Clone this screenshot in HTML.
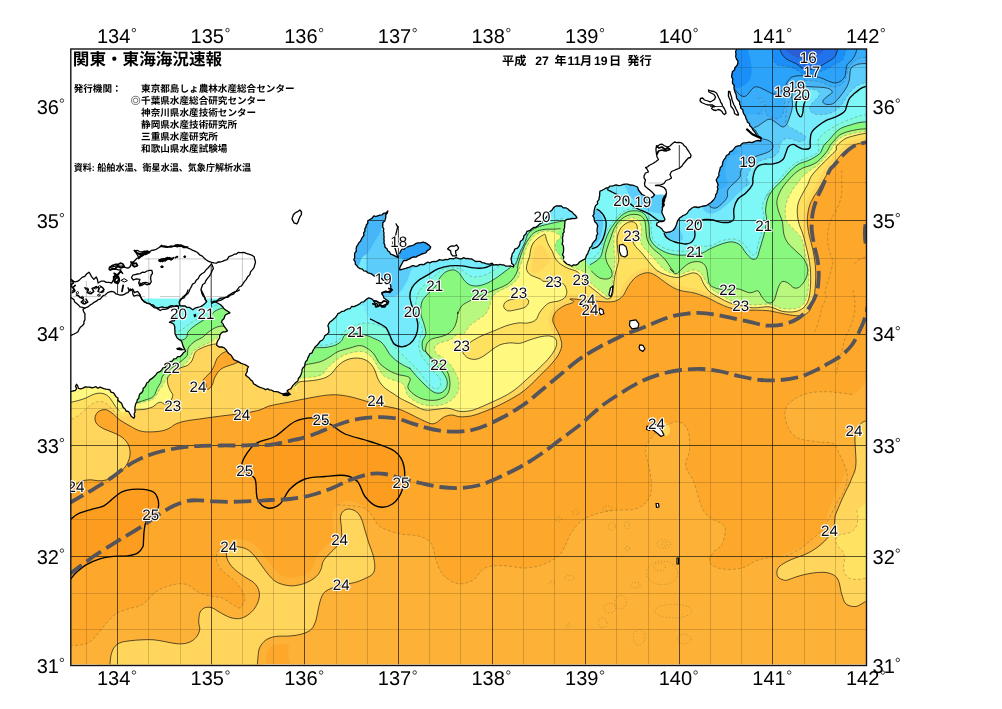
<!DOCTYPE html>
<html lang="ja"><head><meta charset="utf-8"><title>関東・東海海況速報</title>
<style>html,body{margin:0;padding:0;background:#fff}body{width:1002px;height:709px;overflow:hidden;position:relative;font-family:"Liberation Sans",sans-serif}svg{position:absolute;left:0;top:0;display:block;will-change:transform}svg text{font-family:"Liberation Sans",sans-serif;text-rendering:geometricPrecision}svg text.jp{font-family:"Liberation Sans","Noto Sans CJK JP",sans-serif;font-weight:bold;fill:#000}.ax{font-size:20px;fill:#000}.cl{font-size:15.2px;fill:#0c0c0c;stroke:#fff;stroke-width:2.2px;paint-order:stroke;stroke-linejoin:round;text-anchor:middle}.sr{position:absolute;color:transparent;font-size:9px;white-space:nowrap;line-height:1;margin:0}</style></head><body>
<svg width="1002" height="709" viewBox="0 0 1002 709">
<defs><clipPath id="fr"><rect x="70.8" y="49.0" width="795.7" height="615.3"/></clipPath></defs>
<rect width="1002" height="709" fill="#fff"/>
<g clip-path="url(#fr)">
<rect x="70.8" y="49.0" width="795.7" height="616.5" fill="#fda82b"/>
<path d="M330 690C237.5 668.3 327.5 589.7 330 560C332.5 530.3 343.7 521.2 345 512C346.3 502.8 334.9 505.6 337.7 504.8C340.5 504 356 505.6 361.6 507.2C367.2 508.8 368.1 511.2 371.2 514.4C374.3 517.6 375.3 523.3 380 526.5C384.7 529.7 393.1 532.2 399.6 533.8C406.1 535.4 413.8 534.6 419.1 536.2C424.4 537.8 428.5 539.5 431.3 543.6C434.1 547.7 434.1 555.4 436.2 560.7C438.2 566 439.9 571.6 443.6 575.4C447.3 579.2 453.3 582.9 458.2 583.7C463.1 584.5 468.4 582.8 472.9 580.2C477.4 577.6 480.2 570.4 485.1 568C490 565.6 495.3 565.6 502.2 565.6C509.1 565.6 519.4 568.4 526.7 568C534.1 567.6 540.6 565.6 546.3 563.1C552 560.6 556.8 558.2 560.9 553.3C565 548.4 567.4 539.1 570.7 533.8C574 528.5 576.4 524.9 580.5 521.6C584.6 518.3 589.5 516.1 595.2 514.2C600.9 512.3 608.2 511.1 614.7 510.3C621.2 509.5 629 510.7 634.3 509.3C639.6 507.9 643.6 505.3 646.5 502C649.4 498.7 651.1 495 651.6 489.6C652.1 484.2 650.6 476.2 649.6 469.6C648.6 463 645.3 455 645.6 449.7C645.9 444.4 648.9 441.4 651.6 437.7C654.3 434 657.3 430.4 661.6 427.7C665.9 425 673.3 421.4 677.6 421.7C681.9 422 685.6 425 687.6 429.7C689.6 434.4 689.9 443.7 689.6 449.7C689.3 455.7 684.9 460.4 685.6 465.7C686.3 471 690.8 474.3 693.6 481.6C696.5 488.9 699.6 503.1 702.7 509.3C705.9 515.5 708.8 516.2 712.5 519.1C716.2 522 723.1 522.4 724.7 526.5C726.3 530.6 724.3 539.1 722.3 543.6C720.3 548.1 714.5 550 712.5 553.3C710.5 556.5 708.5 560.5 710.1 563.1C711.7 565.7 717 568.2 722.3 569C727.6 569.8 736.2 569.4 741.9 568C747.6 566.6 751.6 562.5 756.5 560.7C761.4 558.9 766.3 558.1 771.2 557.3C776.1 556.5 781 557.3 785.9 555.8C790.8 554.3 796 551.4 800.5 548.5C805 545.6 809.1 542 812.8 538.7C816.5 535.4 819.6 532.6 822.5 528.9C825.4 525.2 827.4 521.2 829.9 516.7C832.4 512.2 834.8 506.5 837.2 502C839.6 497.5 842.9 494.6 844.5 489.8C846.1 485 847.9 479 847 473C846.1 467 841.6 458.6 839.3 453.7C837 448.8 837 445.7 833.3 443.7C829.6 441.7 823.3 442.7 817.3 441.7C811.3 440.7 802.3 440.4 797.3 437.7C792.3 435 789.4 430.3 787.4 425.7C785.4 421.1 784.4 414.1 785.4 409.8C786.4 405.5 789.4 402.6 793.4 399.8C797.4 397 803.3 394.3 809.3 393C815.3 391.7 822 391.5 829.3 391.8C836.6 392.1 843.9 394.4 853.2 394.6C862.5 394.8 879.7 343.8 885 393C890.3 442.2 977.5 640.5 885 690C792.5 739.5 422.5 711.7 330 690Z" fill="#fdb237"/>
<path d="M68 646.2C68.3 640.5 67.7 646 70 645.8C72.3 645.6 78.6 645.5 82 644.8C85.3 644.1 87.3 643.6 90 641.8C92.6 640 95.3 636.8 97.9 633.8C100.6 630.8 102.9 627.2 105.9 623.8C108.9 620.5 112.2 616.3 115.9 613.9C119.6 611.4 123.9 610.2 127.9 608.9C131.9 607.5 136.5 607.4 139.9 605.9C143.2 604.4 145.2 602.2 147.8 599.9C150.5 597.6 152.8 594.1 155.8 591.9C158.8 589.7 162.1 588.2 165.8 586.9C169.5 585.6 174.1 584.2 177.8 583.9C181.4 583.6 184.4 583.6 187.8 584.9C191.1 586.2 194.1 590.1 197.7 591.9C201.4 593.7 205.7 594.9 209.7 595.9C213.7 596.9 218 596.6 221.7 597.9C225.4 599.2 228.7 602.2 231.7 603.9C234.7 605.5 237.5 608.5 239.7 607.9C241.8 607.2 244.3 602.9 244.7 599.9C245 596.9 243.5 593.2 241.7 589.9C239.8 586.6 236.7 582.9 233.7 579.9C230.7 576.9 226.4 574.6 223.7 571.9C221 569.3 218.9 566.9 217.7 564C216.5 561 216 557 216.7 554C217.4 551 219.5 548 221.7 546C223.9 544 225 539.7 229.7 542C234.3 544.3 246.3 537 249.6 560C253 582.9 279.9 659.8 249.6 679.7C219.4 699.7 98.3 685.3 68 679.7C37.7 674.1 67.7 651.8 68 646.2Z" fill="#fdb237"/>
<path d="M226.3 552.7C225.9 554.8 226.3 557.3 227.5 559.9C228.7 562.5 230.7 565.5 233.5 568.3C236.3 571.1 240.9 574.3 244.3 576.6C247.6 579 251.4 580.4 253.8 582.6C256.2 584.8 257.7 587.2 258.6 589.8C259.5 592.4 259.7 595.2 259.1 598.2C258.5 601.2 256.9 605 255 607.8C253.2 610.6 250.4 613.2 247.8 615C245.2 616.8 242.5 618.2 239.5 618.6C236.5 619 233.1 618.4 229.9 617.4C226.7 616.4 223.3 614.2 220.3 612.6C217.3 611 214.5 608.6 211.9 607.8C209.3 607 206.7 607 204.7 607.8C202.7 608.6 200.9 610.2 199.9 612.6C198.9 615 198.8 619.3 198.7 622.2C198.7 625 200.2 627.2 199.7 629.8C199.2 632.4 197.7 635.6 195.7 637.8C193.8 640 190.8 641.8 187.8 642.8C184.8 643.8 181.4 644 177.8 643.8C174.1 643.6 169.8 642.5 165.8 641.8C161.8 641.1 157.8 640.1 153.8 639.8C149.8 639.5 145.8 639.6 141.9 639.8C137.9 640 133.5 640.3 129.9 640.8C126.2 641.3 122.6 641.6 119.9 642.8C117.2 644 115.4 645.6 113.9 647.8C112.4 649.9 111.6 652.9 110.9 655.8C110.3 658.6 110.2 660.8 109.9 664.8C109.7 668.7 84.5 675.5 109.5 679.7C134.5 683.9 235.3 691.2 260 690C284.7 688.8 257.9 676.6 257.4 672.5C257 668.3 257.3 668.1 257.4 665.3C257.5 662.5 257.7 658.7 258.1 655.7C258.5 652.7 258.5 649.9 259.8 647.3C261.1 644.7 263.2 641.9 265.8 640.1C268.4 638.3 271.4 637.2 275.4 636.5C279.4 635.8 285.4 636.4 289.8 636C294.2 635.6 298.1 635.2 301.7 634.1C305.3 633 308.9 631.7 311.3 629.3C313.7 626.9 314.9 623.4 316.1 619.8C317.3 616.2 317.5 611.8 318.5 607.8C319.5 603.8 320.5 598.8 322.1 595.8C323.7 592.8 324.9 591.6 328.1 589.8C331.3 588 336.9 586.2 341.3 585C345.6 583.8 350.6 583.6 354.4 582.6C358.2 581.6 361 580.4 364 579C367 577.6 370.6 576.2 372.4 574.3C374.2 572.3 374.7 570.3 374.8 567.1C374.9 563.9 374.1 559.1 373.1 555.1C372.1 551.1 370.1 547.1 368.8 543.1C367.5 539.1 366.4 535.1 365.2 531.1C364 527.1 363 522.4 361.6 519.2C360.2 516 358.8 513.7 356.8 512C354.8 510.3 351.8 509.3 349.6 509.1C347.4 508.9 345.2 509.5 343.7 510.8C342.1 512.1 340.9 514.2 340.5 516.8C340.1 519.4 341.1 522.8 341.3 526.3C341.4 529.9 342.1 534.9 341.3 538.3C340.5 541.7 338.5 544.1 336.5 546.7C334.5 549.3 331.5 551.5 329.3 553.9C327.1 556.3 324.7 558.5 323.3 561.1C321.9 563.7 322.1 566.9 320.9 569.5C319.7 572.1 318.5 574.5 316.1 576.6C313.7 578.8 310.1 581.1 306.5 582.6C302.9 584.2 298.1 585.3 294.6 585.7C291 586.1 288.2 585.7 285 585C281.8 584.3 278.2 583.2 275.4 581.4C272.6 579.6 270.6 577 268.2 574.3C265.8 571.5 263.4 567.9 261 564.7C258.6 561.5 256.2 557.7 253.8 555.1C251.4 552.5 249.4 550.5 246.6 549.1C243.9 547.7 239.9 547 237.1 546.7C234.3 546.4 231.7 546.4 229.9 547.4C228.1 548.4 226.7 550.6 226.3 552.7Z" fill="none" stroke="#fdb237" stroke-width="16" stroke-linejoin="round"/>
<path d="M880 420C877.6 390.5 868.5 420.6 865.6 421C862.7 421.4 863.7 421.4 862.6 422.2C861.5 423 860.1 424.2 859 425.7C857.9 427.2 856.7 429.2 856 431.1C855.3 433 855 434.7 854.9 437.1C854.8 439.5 855.1 442.7 855.2 445.5C855.3 448.3 855.6 451.1 855.7 453.9C855.8 456.7 856.1 459.5 856 462.3C855.9 465.1 855.6 468.1 854.9 470.7C854.2 473.3 852.8 475.6 851.9 477.8C851 480 850.6 481.3 849.5 483.8C848.4 486.3 846.4 490.1 845 493C843.6 495.9 842.2 498.7 841 501.5C839.8 504.3 838.5 507.6 837.5 510C836.5 512.4 835.6 513.8 835.1 516C834.6 518.2 834.9 520.8 834.5 523.2C834.1 525.6 833.8 528 832.7 530.4C831.6 532.8 829.9 535.1 827.9 537.5C825.9 539.9 823.3 542.5 820.7 544.7C818.1 546.9 815.1 549 812.3 550.7C809.5 552.4 806.8 553.7 804 554.9C801.2 556.1 798.4 556.8 795.6 557.9C792.8 559 789.8 560.1 787.2 561.5C784.6 562.9 781.7 564.4 780 566C778.3 567.6 777.3 569.2 777 571C776.7 572.8 776.9 575.5 778 577C779.1 578.5 782 579.5 783.5 580C785 580.5 785.2 580.6 787.2 580.1C789.2 579.6 792.8 578 795.6 577.1C798.4 576.2 801 575.4 804 574.7C807 574 810.3 573.3 813.5 572.9C816.7 572.5 820.3 572.2 823.1 572.3C825.9 572.4 828.1 572.7 830.3 573.5C832.5 574.3 834.8 575.5 836.3 577.1C837.8 578.7 838.6 581.1 839.3 583.1C840 585.1 840 587 840.5 589C841 591 841.1 592.5 842 595C842.9 597.5 843.7 602.1 846 604C848.3 605.9 852.8 606.9 856 606.5C859.2 606.1 861.5 602.9 865.5 601.5C869.5 600.1 877.6 628.2 880 598C882.4 567.8 882.4 449.5 880 420Z" fill="none" stroke="#fdb237" stroke-width="16" stroke-linejoin="round"/>
<path d="M68 521C68.3 510.7 68.3 521 70 519.8C71.7 518.6 74.7 515.4 78 513.8C81.3 512.1 85.6 511.1 90 509.8C94.3 508.4 99.9 507.8 103.9 505.8C107.9 503.8 110.9 500.1 113.9 497.8C116.9 495.5 118.9 493.2 121.9 491.8C124.9 490.4 128.2 489.8 131.9 489.4C135.5 489 140.2 489 143.9 489.4C147.5 489.9 151.5 490.7 153.8 492.2C156.2 493.8 157.1 496.2 157.8 498.8C158.6 501.4 158.9 505.1 158.2 507.8C157.6 510.4 155.7 512.8 153.8 514.8C151.9 516.8 148.4 517.3 146.8 519.8C145.2 522.3 144.8 526.2 144.3 529.7C143.7 533.3 143.7 538.1 143.5 540.9C143.2 543.8 143.8 544.9 142.9 546.8C141.9 548.8 140.4 551.3 137.9 552.8C135.4 554.3 131.9 555.2 127.9 555.8C123.9 556.4 118.6 555.9 113.9 556.4C109.3 556.9 104.6 557.4 99.9 558.8C95.3 560.2 90 562.5 86 564.8C82 567.1 78.6 570.3 76 572.8C73.3 575.3 71.3 578.4 70 579.8C68.7 581.2 68.3 591 68 581.2C67.7 571.4 67.7 531.2 68 521Z" fill="#fc9d1f"/>
<path d="M242.5 461.5C244.2 456.9 249.6 448.2 255 444C260.4 439.8 268.3 440.2 275 436.5C281.7 432.8 288.3 424.6 295 421.5C301.7 418.4 309.2 417.6 315 418C320.8 418.4 325 421.3 330 424C335 426.7 338.3 431.1 345 434C351.7 436.9 361.7 438.6 370 441.5C378.3 444.4 389.3 447.3 395 451.5C400.7 455.7 402.8 460.2 404 466.5C405.2 472.8 404.4 482.8 402.5 489C400.6 495.2 396.7 501.1 392.5 504C388.3 506.9 382.1 507.8 377.5 506.5C372.9 505.2 368.3 500.7 365 496.5C361.7 492.3 360.8 485 357.5 481.5C354.2 478 350.4 476.3 345 475.5C339.6 474.7 331.7 475.9 325 476.5C318.3 477.1 310.8 476.9 305 479C299.2 481.1 294.2 484.8 290 489C285.8 493.2 283.8 500.8 280 504C276.2 507.2 271.2 508.8 267.5 508C263.8 507.2 259.6 503.8 257.5 499C255.4 494.2 257.1 483.6 255 479C252.9 474.4 247.1 474.4 245 471.5C242.9 468.6 240.8 466.1 242.5 461.5Z" fill="#fc9d1f"/>
<path d="M68 489.4C74.7 575.9 68 490.1 70 488.8C72 487.6 76.7 483.3 80 481.8C83.3 480.3 86.6 480 90 479.8C93.3 479.7 96.6 481 99.9 480.8C103.3 480.7 106.9 480 109.9 478.8C112.9 477.7 115.2 476 117.9 473.9C120.6 471.7 123.9 468.9 125.9 465.9C127.9 462.9 129.4 459.2 129.9 455.9C130.4 452.6 130 448.9 128.9 445.9C127.7 442.9 125.4 440.1 122.9 437.9C120.4 435.8 117.1 434.4 113.9 432.9C110.8 431.4 106.8 430.4 103.9 428.9C101.1 427.4 98.4 425.8 96.9 424C95.4 422.1 94.8 420 95 418C95.1 416 96.3 413.4 97.9 412C99.6 410.6 102.6 409.4 104.9 409.6C107.3 409.7 109.4 411.2 111.9 413C114.4 414.7 116.9 417.8 119.9 420C122.9 422.1 126.6 424.1 129.9 425.9C133.2 427.8 136.5 429.9 139.9 430.9C143.2 431.9 146.2 431.9 149.8 431.9C153.5 431.9 158.5 431.6 161.8 430.9C165.1 430.3 167.5 429.1 169.8 427.9C172.1 426.8 173.1 425.1 175.8 424C178.4 422.8 181.8 421.8 185.8 421C189.8 420.1 195.1 419.6 199.7 419C204.4 418.3 208.7 417.6 213.7 417C218.7 416.3 224.4 415.6 229.7 415C235 414.3 240.7 413.8 245.6 413C250.6 412.1 255.6 411.2 259.6 410C263.7 408.8 264.9 407.2 270 405.8C275.1 404.5 283.3 403.2 290 401.9C296.6 400.5 303.3 399 309.9 397.9C316.6 396.7 323.9 395.2 329.9 394.9C335.9 394.5 340.5 395 345.8 395.9C351.2 396.7 356.5 398.4 361.8 399.9C367.1 401.4 371.8 403.4 377.8 404.9C383.8 406.3 392.4 407.3 397.7 408.8C403.1 410.3 405.7 412 409.7 413.8C413.7 415.7 418 418.2 421.7 419.8C425.4 421.5 429.1 423.4 431.7 423.8C434.4 424.1 435.7 422.9 437.7 421.8C439.7 420.7 441.4 418.3 443.7 417.2C446 416 449 415 451.7 415C454.4 414.9 456.5 416.6 459.9 416.8C463.2 416.9 467.9 416.6 471.9 415.8C475.8 414.9 479.8 413.3 483.8 411.8C487.8 410.3 491.8 408.6 495.8 406.8C499.8 405 503.8 403 507.8 400.8C511.8 398.6 516.1 396.3 519.8 393.8C523.4 391.3 526.4 388.8 529.7 385.8C533.1 382.8 536.4 379.2 539.7 375.8C543 372.5 546.7 369.2 549.7 365.9C552.7 362.5 555.7 359.2 557.7 355.9C559.7 352.6 561.3 349.2 561.7 345.9C562 342.6 560.7 338.9 559.7 335.9C558.7 332.9 556.9 330.6 555.7 327.9C554.5 325.3 552.7 322.6 552.7 320C552.7 317.3 553.9 314.3 555.7 312C557.5 309.6 560.7 307.7 563.7 306C566.7 304.3 572.6 303.2 573.7 302C574.7 300.8 568.6 299.2 570 298.9C571.4 298.5 578 299.5 582 299.9C586 300.2 590 300.5 594 300.9C597.9 301.2 602.3 301.9 605.9 301.9C609.6 301.9 613.1 301.9 615.9 300.9C618.7 299.9 620.9 298.2 622.9 295.9C624.9 293.5 626.1 289.7 627.9 286.9C629.7 284.1 631.5 281.1 633.9 278.9C636.2 276.7 639.2 274.9 641.9 273.9C644.5 272.9 647.2 272.4 649.8 272.9C652.5 273.4 655.2 275.2 657.8 276.9C660.5 278.6 663.1 281.1 665.8 282.9C668.5 284.7 671.1 286.6 673.8 287.9C676.5 289.2 678.4 290 681.8 290.9C685.1 291.7 689.8 291.9 693.8 292.9C697.7 293.9 701.7 295.2 705.7 296.9C709.7 298.5 713.7 301 717.7 302.9C721.7 304.7 725.7 306.7 729.7 307.8C733.7 309 737.3 309.4 741.7 309.8C746 310.2 751 310.1 755.6 310.2C760.3 310.4 764.6 310.2 769.6 310.8C774.6 311.5 780.7 313.5 785.8 314.3C790.8 315.2 796.1 316 799.7 315.7C803.4 315.5 805.7 314.6 807.7 312.8C809.8 310.9 811 308.1 812.1 304.8C813.3 301.4 814.1 297.1 814.7 292.8C815.3 288.5 815.6 283.5 815.7 278.8C815.8 274.2 815.8 269.8 815.3 264.8C814.8 259.9 813.7 253.9 812.7 248.9C811.7 243.9 810 239.6 809.1 234.9C808.2 230.3 807.3 225.6 807.3 220.9C807.3 216.3 808.1 211 809.1 207C810.2 203 812.1 200 813.7 197C815.3 194 816.2 193.4 818.7 189C821.3 184.6 826.8 174.4 829 170.6C831.2 166.8 830.8 167.6 832 166C833.2 164.4 834.7 162.7 836 161C837.3 159.3 838.5 157.7 840 156C841.5 154.3 843.3 152.5 845 151C846.7 149.5 848.3 148.1 850 147C851.7 145.9 853.3 145.1 855 144.5C856.7 143.9 858.2 143.6 860 143.2C861.8 142.8 864.2 142.3 866 142C867.8 141.7 865.3 141.5 871 141.2C876.7 140.9 895.2 168.5 900 140C904.8 111.5 1045 -1.7 900 -30C755 -58.3 168.7 -116.6 30 -30C-108.7 56.6 61.3 403 68 489.4Z" fill="#ffd65b"/>
<clipPath id="pc1"><path d="M556.7 342.9C555.5 341.6 556 339.1 554.7 337.9C553.4 336.8 551.2 336.1 548.7 335.9C546.2 335.8 542.9 336.3 539.7 336.9C536.6 337.6 533.1 338.9 529.7 339.9C526.4 341 523.1 342.8 519.8 343.3C516.4 343.8 513.1 342.6 509.8 342.9C506.5 343.2 502.8 343.7 499.8 344.9C496.8 346.1 494.5 348.1 491.8 349.9C489.2 351.7 486.5 354.3 483.8 355.9C481.2 357.5 478.5 358.9 475.8 359.3C473.2 359.6 470 359 467.9 357.9C465.7 356.7 463.4 354.1 462.9 352.3C462.4 350.5 463 349 464.9 346.9C466.7 344.8 470.7 341.9 473.9 339.9C477 337.9 480.5 336.4 483.8 334.9C487.2 333.4 490.2 332.4 493.8 330.9C497.5 329.4 501.8 327.3 505.8 325.9C509.8 324.6 514.1 323.5 517.8 323C521.4 322.5 524.8 323.5 527.7 323C530.7 322.5 533.7 321.7 535.7 320C537.7 318.2 537.9 314.9 539.7 312.4C541.5 309.8 544.4 306.4 546.4 304.7C548.3 303.1 549.2 302.9 551.2 302.3C553.1 301.7 556.1 301.8 558.3 301.1C560.5 300.4 562.9 299.4 564.3 298.1C565.7 296.8 566.4 294.9 566.7 293.3C567 291.7 566.7 290.1 566.1 288.5C565.5 287 565 285 563.1 283.8C561.2 282.5 557.9 281.5 554.7 281.1C551.6 280.7 546.4 281.7 544 281.4C541.6 281 541.8 279.7 540.4 279C539 278.3 537.4 278 535.6 277.2C533.8 276.4 531.1 275.5 529.6 274.2C528.1 272.9 527 271.2 526.6 269.4C526.2 267.6 526.7 265.6 527.2 263.4C527.7 261.2 529 258.6 529.6 256.2C530.2 253.8 530.2 251.2 530.8 249C531.4 246.8 532 244.8 533.2 243C534.4 241.2 536.4 239.5 538 238.2C539.6 236.9 541.6 235.8 542.8 235.2C544 234.6 544.6 233.9 545.2 234.6C545.8 235.3 545.8 237.6 546.4 239.4C547 241.2 547.8 243.4 548.8 245.4C549.8 247.4 551.4 249.4 552.4 251.4C553.3 253.4 553.7 255.6 554.7 257.4C555.7 259.2 556.9 260.8 558.3 262.2C559.7 263.6 561.3 264.7 563.1 265.8C564.9 266.9 567.1 268 569.1 268.8C571.1 269.6 573.5 269.9 575.1 270.6C576.7 271.3 577.5 271.6 578.7 273C579.9 274.4 580.5 276.8 582.3 279C584.1 281.2 587.3 284.2 589.5 286.2C591.7 288.1 593.5 289.3 595.5 290.9C597.5 292.5 599.9 294.5 601.5 295.7C603.1 296.9 604 297.6 605.1 298.1C606.2 298.7 607.8 298.2 607.9 298.9C608.1 299.5 608.3 301.5 605.9 301.9C603.6 302.2 597.9 301.2 594 300.9C590 300.5 586 300.2 582 299.9C578 299.5 571.4 298.5 570 298.9C568.6 299.2 574.7 300.8 573.7 302C572.6 303.2 566.7 304.3 563.7 306C560.7 307.7 557.5 309.6 555.7 312C553.9 314.3 552.7 317.3 552.7 320C552.7 322.6 554.5 325.3 555.7 327.9C556.9 330.6 558.7 332.9 559.7 335.9C560.7 338.9 562.2 344.7 561.7 345.9C561.2 347.1 557.9 344.2 556.7 342.9Z"/></clipPath>
<path d="M556.7 342.9C555.5 341.6 556 339.1 554.7 337.9C553.4 336.8 551.2 336.1 548.7 335.9C546.2 335.8 542.9 336.3 539.7 336.9C536.6 337.6 533.1 338.9 529.7 339.9C526.4 341 523.1 342.8 519.8 343.3C516.4 343.8 513.1 342.6 509.8 342.9C506.5 343.2 502.8 343.7 499.8 344.9C496.8 346.1 494.5 348.1 491.8 349.9C489.2 351.7 486.5 354.3 483.8 355.9C481.2 357.5 478.5 358.9 475.8 359.3C473.2 359.6 470 359 467.9 357.9C465.7 356.7 463.4 354.1 462.9 352.3C462.4 350.5 463 349 464.9 346.9C466.7 344.8 470.7 341.9 473.9 339.9C477 337.9 480.5 336.4 483.8 334.9C487.2 333.4 490.2 332.4 493.8 330.9C497.5 329.4 501.8 327.3 505.8 325.9C509.8 324.6 514.1 323.5 517.8 323C521.4 322.5 524.8 323.5 527.7 323C530.7 322.5 533.7 321.7 535.7 320C537.7 318.2 537.9 314.9 539.7 312.4C541.5 309.8 544.4 306.4 546.4 304.7C548.3 303.1 549.2 302.9 551.2 302.3C553.1 301.7 556.1 301.8 558.3 301.1C560.5 300.4 562.9 299.4 564.3 298.1C565.7 296.8 566.4 294.9 566.7 293.3C567 291.7 566.7 290.1 566.1 288.5C565.5 287 565 285 563.1 283.8C561.2 282.5 557.9 281.5 554.7 281.1C551.6 280.7 546.4 281.7 544 281.4C541.6 281 541.8 279.7 540.4 279C539 278.3 537.4 278 535.6 277.2C533.8 276.4 531.1 275.5 529.6 274.2C528.1 272.9 527 271.2 526.6 269.4C526.2 267.6 526.7 265.6 527.2 263.4C527.7 261.2 529 258.6 529.6 256.2C530.2 253.8 530.2 251.2 530.8 249C531.4 246.8 532 244.8 533.2 243C534.4 241.2 536.4 239.5 538 238.2C539.6 236.9 541.6 235.8 542.8 235.2C544 234.6 544.6 233.9 545.2 234.6C545.8 235.3 545.8 237.6 546.4 239.4C547 241.2 547.8 243.4 548.8 245.4C549.8 247.4 551.4 249.4 552.4 251.4C553.3 253.4 553.7 255.6 554.7 257.4C555.7 259.2 556.9 260.8 558.3 262.2C559.7 263.6 561.3 264.7 563.1 265.8C564.9 266.9 567.1 268 569.1 268.8C571.1 269.6 573.5 269.9 575.1 270.6C576.7 271.3 577.5 271.6 578.7 273C579.9 274.4 580.5 276.8 582.3 279C584.1 281.2 587.3 284.2 589.5 286.2C591.7 288.1 593.5 289.3 595.5 290.9C597.5 292.5 599.9 294.5 601.5 295.7C603.1 296.9 604 297.6 605.1 298.1C606.2 298.7 607.8 298.2 607.9 298.9C608.1 299.5 608.3 301.5 605.9 301.9C603.6 302.2 597.9 301.2 594 300.9C590 300.5 586 300.2 582 299.9C578 299.5 571.4 298.5 570 298.9C568.6 299.2 574.7 300.8 573.7 302C572.6 303.2 566.7 304.3 563.7 306C560.7 307.7 557.5 309.6 555.7 312C553.9 314.3 552.7 317.3 552.7 320C552.7 322.6 554.5 325.3 555.7 327.9C556.9 330.6 558.7 332.9 559.7 335.9C560.7 338.9 562.2 344.7 561.7 345.9C561.2 347.1 557.9 344.2 556.7 342.9Z" fill="#ffe160"/>
<path d="M561.7 345.9C561.3 344.2 560.7 338.9 559.7 335.9C558.7 332.9 556.9 330.6 555.7 327.9C554.5 325.3 552.7 322.6 552.7 320C552.7 317.3 553.9 314.3 555.7 312C557.5 309.6 560.7 307.7 563.7 306C566.7 304.3 572.6 303.2 573.7 302C574.7 300.8 568.6 299.2 570 298.9C571.4 298.5 578 299.5 582 299.9C586 300.2 590 300.5 594 300.9C597.9 301.2 603.9 301.7 605.9 301.9" fill="none" stroke="#ffd65b" stroke-width="9" clip-path="url(#pc1)"/>
<clipPath id="pc2"><path d="M612.3 295.5C612 292.2 613.5 285.1 614 281.5C614.5 278 614.7 276.7 615.2 274.3C615.7 271.9 616.4 269.5 617 267.1C617.6 264.7 618.6 262.2 618.8 260C619 257.8 618.4 256 618.2 254C618 252 617.8 250.2 617.6 248C617.4 245.8 616.9 243.2 617 240.8C617.1 238.4 617.5 235.8 618.2 233.6C618.9 231.4 619.9 229.3 621.2 227.6C622.5 225.9 624.2 224.4 626 223.4C627.8 222.4 630.3 221.5 632 221.6C633.7 221.7 635.3 222.6 636.2 224C637.1 225.4 637.5 228 637.4 230C637.3 232 636.3 234 635.6 236C634.9 238 633 240 633.2 242C633.4 244 635.4 246.2 636.8 248C638.2 249.8 640 251 641.6 252.8C643.2 254.6 644.8 256.8 646.4 258.8C648 260.8 649.4 262.7 651.2 264.7C652.9 266.7 654.9 269.1 657.1 270.7C659.3 272.3 661.9 273.3 664.3 274.3C666.7 275.3 669.1 276.2 671.5 276.7C673.9 277.2 676.4 277.6 678.7 277.3C681.1 277 683.3 275.6 685.8 274.9C688.3 274.2 691.4 272.7 693.8 272.9C696.1 273.1 698.1 274.1 699.7 275.9C701.4 277.7 702.1 281.2 703.7 283.9C705.4 286.6 707.1 289.5 709.7 291.9C712.4 294.2 716.4 296 719.7 297.9C723 299.7 726.2 301.6 729.7 302.9C733.2 304.1 736.7 304.6 740.7 305.4C744.7 306.3 748.8 307.6 753.6 307.8C758.5 308.1 764.9 306.3 769.6 306.8C774.3 307.4 777.8 310.3 781.8 311.2C785.8 312 790.4 312.2 793.8 311.8C797.1 311.4 799.8 310.4 802.1 308.8C804.5 307.1 806.4 304.8 807.7 301.8C809.1 298.8 809.6 295 810.1 290.8C810.6 286.6 810.8 281.5 810.7 276.8C810.7 272.2 810.4 267.5 809.7 262.9C809.1 258.2 807.8 253.5 806.7 248.9C805.6 244.2 804.4 239 803.1 234.9C801.9 230.8 800.1 227.7 799.2 224.3C798.2 221 797.6 218.1 797.4 214.7C797.2 211.4 797.1 207.6 798 204C798.9 200.4 801.2 196.4 802.8 193.2C804.4 190 806.2 187.6 807.6 184.8C809 182 809.4 179.2 811.2 176.4C812.9 173.6 815.9 170.6 818.3 168C820.7 165.4 823.1 163.2 825.5 160.8C827.9 158.4 830.9 155.4 832.7 153.6C834.5 151.8 835.7 151.2 836.3 150C837 148.8 835.8 147.6 836.6 146.2C837.5 144.7 839.8 142.7 841.4 141.4C843.1 140 844.4 139 846.3 138.1C848.1 137.3 850.6 136.7 852.7 136.1C854.8 135.5 857 135 859.1 134.5C861.3 134 863.6 133.6 865.6 133.3C867.6 133 865.5 132.5 871.2 132.8C876.9 133.1 900 133.6 900 135C900 136.4 876.7 140 871 141.2C865.3 142.4 867.8 141.7 866 142C864.2 142.3 861.8 142.8 860 143.2C858.2 143.6 856.7 143.9 855 144.5C853.3 145.1 851.7 145.9 850 147C848.3 148.1 846.7 149.5 845 151C843.3 152.5 841.5 154.3 840 156C838.5 157.7 837.3 159.3 836 161C834.7 162.7 833.2 164.4 832 166C830.8 167.6 831.2 166.8 829 170.6C826.8 174.4 821.3 184.6 818.7 189C816.2 193.4 815.3 194 813.7 197C812.1 200 810.2 203 809.1 207C808.1 211 807.3 216.3 807.3 220.9C807.3 225.6 808.2 230.3 809.1 234.9C810 239.6 811.7 243.9 812.7 248.9C813.7 253.9 814.8 259.9 815.3 264.8C815.8 269.8 815.8 274.2 815.7 278.8C815.6 283.5 815.3 288.5 814.7 292.8C814.1 297.1 813.3 301.4 812.1 304.8C811 308.1 809.8 310.9 807.7 312.8C805.7 314.6 803.4 315.5 799.7 315.7C796.1 316 790.8 315.2 785.8 314.3C780.7 313.5 774.6 311.5 769.6 310.8C764.6 310.2 760.3 310.4 755.6 310.2C751 310.1 746 310.2 741.7 309.8C737.3 309.4 733.7 309 729.7 307.8C725.7 306.7 721.7 304.7 717.7 302.9C713.7 301 709.7 298.5 705.7 296.9C701.7 295.2 697.7 293.9 693.8 292.9C689.8 291.9 685.1 291.7 681.8 290.9C678.4 290 676.5 289.2 673.8 287.9C671.1 286.6 668.5 284.7 665.8 282.9C663.1 281.1 660.5 278.6 657.8 276.9C655.2 275.2 652.5 273.4 649.8 272.9C647.2 272.4 644.5 272.9 641.9 273.9C639.2 274.9 636.2 276.7 633.9 278.9C631.5 281.1 629.7 284.1 627.9 286.9C626.1 289.7 624.9 293.5 622.9 295.9C620.9 298.2 617.7 300.9 615.9 300.9C614.1 300.8 612.6 298.7 612.3 295.5Z"/></clipPath>
<path d="M612.3 295.5C612 292.2 613.5 285.1 614 281.5C614.5 278 614.7 276.7 615.2 274.3C615.7 271.9 616.4 269.5 617 267.1C617.6 264.7 618.6 262.2 618.8 260C619 257.8 618.4 256 618.2 254C618 252 617.8 250.2 617.6 248C617.4 245.8 616.9 243.2 617 240.8C617.1 238.4 617.5 235.8 618.2 233.6C618.9 231.4 619.9 229.3 621.2 227.6C622.5 225.9 624.2 224.4 626 223.4C627.8 222.4 630.3 221.5 632 221.6C633.7 221.7 635.3 222.6 636.2 224C637.1 225.4 637.5 228 637.4 230C637.3 232 636.3 234 635.6 236C634.9 238 633 240 633.2 242C633.4 244 635.4 246.2 636.8 248C638.2 249.8 640 251 641.6 252.8C643.2 254.6 644.8 256.8 646.4 258.8C648 260.8 649.4 262.7 651.2 264.7C652.9 266.7 654.9 269.1 657.1 270.7C659.3 272.3 661.9 273.3 664.3 274.3C666.7 275.3 669.1 276.2 671.5 276.7C673.9 277.2 676.4 277.6 678.7 277.3C681.1 277 683.3 275.6 685.8 274.9C688.3 274.2 691.4 272.7 693.8 272.9C696.1 273.1 698.1 274.1 699.7 275.9C701.4 277.7 702.1 281.2 703.7 283.9C705.4 286.6 707.1 289.5 709.7 291.9C712.4 294.2 716.4 296 719.7 297.9C723 299.7 726.2 301.6 729.7 302.9C733.2 304.1 736.7 304.6 740.7 305.4C744.7 306.3 748.8 307.6 753.6 307.8C758.5 308.1 764.9 306.3 769.6 306.8C774.3 307.4 777.8 310.3 781.8 311.2C785.8 312 790.4 312.2 793.8 311.8C797.1 311.4 799.8 310.4 802.1 308.8C804.5 307.1 806.4 304.8 807.7 301.8C809.1 298.8 809.6 295 810.1 290.8C810.6 286.6 810.8 281.5 810.7 276.8C810.7 272.2 810.4 267.5 809.7 262.9C809.1 258.2 807.8 253.5 806.7 248.9C805.6 244.2 804.4 239 803.1 234.9C801.9 230.8 800.1 227.7 799.2 224.3C798.2 221 797.6 218.1 797.4 214.7C797.2 211.4 797.1 207.6 798 204C798.9 200.4 801.2 196.4 802.8 193.2C804.4 190 806.2 187.6 807.6 184.8C809 182 809.4 179.2 811.2 176.4C812.9 173.6 815.9 170.6 818.3 168C820.7 165.4 823.1 163.2 825.5 160.8C827.9 158.4 830.9 155.4 832.7 153.6C834.5 151.8 835.7 151.2 836.3 150C837 148.8 835.8 147.6 836.6 146.2C837.5 144.7 839.8 142.7 841.4 141.4C843.1 140 844.4 139 846.3 138.1C848.1 137.3 850.6 136.7 852.7 136.1C854.8 135.5 857 135 859.1 134.5C861.3 134 863.6 133.6 865.6 133.3C867.6 133 865.5 132.5 871.2 132.8C876.9 133.1 900 133.6 900 135C900 136.4 876.7 140 871 141.2C865.3 142.4 867.8 141.7 866 142C864.2 142.3 861.8 142.8 860 143.2C858.2 143.6 856.7 143.9 855 144.5C853.3 145.1 851.7 145.9 850 147C848.3 148.1 846.7 149.5 845 151C843.3 152.5 841.5 154.3 840 156C838.5 157.7 837.3 159.3 836 161C834.7 162.7 833.2 164.4 832 166C830.8 167.6 831.2 166.8 829 170.6C826.8 174.4 821.3 184.6 818.7 189C816.2 193.4 815.3 194 813.7 197C812.1 200 810.2 203 809.1 207C808.1 211 807.3 216.3 807.3 220.9C807.3 225.6 808.2 230.3 809.1 234.9C810 239.6 811.7 243.9 812.7 248.9C813.7 253.9 814.8 259.9 815.3 264.8C815.8 269.8 815.8 274.2 815.7 278.8C815.6 283.5 815.3 288.5 814.7 292.8C814.1 297.1 813.3 301.4 812.1 304.8C811 308.1 809.8 310.9 807.7 312.8C805.7 314.6 803.4 315.5 799.7 315.7C796.1 316 790.8 315.2 785.8 314.3C780.7 313.5 774.6 311.5 769.6 310.8C764.6 310.2 760.3 310.4 755.6 310.2C751 310.1 746 310.2 741.7 309.8C737.3 309.4 733.7 309 729.7 307.8C725.7 306.7 721.7 304.7 717.7 302.9C713.7 301 709.7 298.5 705.7 296.9C701.7 295.2 697.7 293.9 693.8 292.9C689.8 291.9 685.1 291.7 681.8 290.9C678.4 290 676.5 289.2 673.8 287.9C671.1 286.6 668.5 284.7 665.8 282.9C663.1 281.1 660.5 278.6 657.8 276.9C655.2 275.2 652.5 273.4 649.8 272.9C647.2 272.4 644.5 272.9 641.9 273.9C639.2 274.9 636.2 276.7 633.9 278.9C631.5 281.1 629.7 284.1 627.9 286.9C626.1 289.7 624.9 293.5 622.9 295.9C620.9 298.2 617.7 300.9 615.9 300.9C614.1 300.8 612.6 298.7 612.3 295.5Z" fill="#ffe160"/>
<path d="M615.9 300.9C617.1 300 620.9 298.2 622.9 295.9C624.9 293.5 626.1 289.7 627.9 286.9C629.7 284.1 631.5 281.1 633.9 278.9C636.2 276.7 639.2 274.9 641.9 273.9C644.5 272.9 647.2 272.4 649.8 272.9C652.5 273.4 655.2 275.2 657.8 276.9C660.5 278.6 663.1 281.1 665.8 282.9C668.5 284.7 671.1 286.6 673.8 287.9C676.5 289.2 678.4 290 681.8 290.9C685.1 291.7 689.8 291.9 693.8 292.9C697.7 293.9 701.7 295.2 705.7 296.9C709.7 298.5 713.7 301 717.7 302.9C721.7 304.7 725.7 306.7 729.7 307.8C733.7 309 737.3 309.4 741.7 309.8C746 310.2 751 310.1 755.6 310.2C760.3 310.4 764.6 310.2 769.6 310.8C774.6 311.5 780.7 313.5 785.8 314.3C790.8 315.2 796.1 316 799.7 315.7C803.4 315.5 805.7 314.6 807.7 312.8C809.8 310.9 811 308.1 812.1 304.8C813.3 301.4 814.1 297.1 814.7 292.8C815.3 288.5 815.6 283.5 815.7 278.8C815.8 274.2 815.8 269.8 815.3 264.8C814.8 259.9 813.7 253.9 812.7 248.9C811.7 243.9 810 239.6 809.1 234.9C808.2 230.3 807.3 225.6 807.3 220.9C807.3 216.3 808.1 211 809.1 207C810.2 203 812.1 200 813.7 197C815.3 194 816.2 193.4 818.7 189C821.3 184.6 826.8 174.4 829 170.6C831.2 166.8 830.8 167.6 832 166C833.2 164.4 834.7 162.7 836 161C837.3 159.3 838.5 157.7 840 156C841.5 154.3 843.3 152.5 845 151C846.7 149.5 848.3 148.1 850 147C851.7 145.9 853.3 145.1 855 144.5C856.7 143.9 858.2 143.6 860 143.2C861.8 142.8 864.2 142.3 866 142C867.8 141.7 870.2 141.3 871 141.2" fill="none" stroke="#ffd65b" stroke-width="9" clip-path="url(#pc2)"/>
<path d="M532 264.6C531.6 267 530.4 269.2 530.8 270.6C531.2 272 532.8 273 534.4 273C536 273 538.4 271.8 540.4 270.6C542.4 269.4 544.8 267.4 546.4 265.8C548 264.2 549.6 262.6 550 261C550.4 259.4 549.4 257.8 548.8 256.2C548.2 254.6 547.4 253 546.4 251.4C545.4 249.8 544.2 247.6 542.8 246.6C541.4 245.6 539.4 245 538 245.4C536.6 245.8 535.2 247.2 534.4 249C533.6 250.8 533.6 253.6 533.2 256.2C532.8 258.8 532.4 262.2 532 264.6Z" fill="#ffd65b"/>
<path d="M66.8 421.4C67.5 426 69.2 420.5 71 419.6C72.8 418.7 75.5 417.4 77.6 416C79.7 414.6 81.6 412.9 83.6 411.2C85.6 409.5 87.6 407.3 89.6 405.8C91.6 404.3 93.6 402.9 95.6 402.2C97.6 401.5 99.6 401.2 101.6 401.6C103.6 402 105.8 403.3 107.6 404.6C109.4 405.9 111 407.9 112.4 409.4C113.8 410.9 114.6 412.5 116 413.6C117.4 414.7 118.8 415.8 120.8 416C122.8 416.2 126.8 418.8 128 414.8C129.2 410.8 138.1 395.8 128 392C117.8 388.2 77 387.1 66.8 392C56.6 396.9 66.1 416.8 66.8 421.4Z" fill="#ffe160"/>
<path d="M66.8 402.8C67.5 405.7 69 402.6 71 402.2C73 401.8 76.3 401.1 78.8 400.4C81.3 399.7 83.8 398.9 86 398C88.2 397.1 90 395.8 92 395C94 394.2 96 393.4 98 393.2C100 393 102.2 393.2 104 393.8C105.8 394.4 107.4 395.5 108.8 396.8C110.2 398.1 111.3 400 112.4 401.6C113.5 403.2 114.3 404.9 115.4 406.4C116.5 407.9 117.5 409.8 119 410.6C120.5 411.4 123.5 414.3 124.4 411.2C125.3 408.1 127.8 396.4 124.4 392C121 387.6 113.6 386 104 384.8C94.4 383.6 73 381.8 66.8 384.8C60.6 387.8 66.1 399.9 66.8 402.8Z" fill="#fff980"/>
<path d="M239.9 361.4C237.9 363 235.1 363.5 232.7 364.4C230.3 365.3 227.7 365.8 225.5 366.8C223.3 367.8 221.3 368.6 219.5 370.4C217.7 372.2 215.9 375.2 214.7 377.6C213.5 380 213.3 382.9 212.3 384.8C211.3 386.7 209.7 388.4 208.7 389C207.7 389.6 206.8 389.3 206.3 388.4C205.8 387.5 206.3 384.8 205.7 383.6C205.1 382.4 202.6 382.4 202.7 381.2C202.8 380 204.9 378 206.3 376.4C207.7 374.8 209.7 373.6 211.1 371.6C212.5 369.6 213.7 366.6 214.7 364.4C215.7 362.2 215.9 360.2 217.1 358.4C218.3 356.6 220.3 354.8 221.9 353.6C223.5 352.4 224.5 352.2 226.7 351.2C228.9 350.2 232.1 347 235.1 347.6C238.1 348.2 243.9 352.5 244.7 354.8C245.5 357.1 241.9 359.8 239.9 361.4Z" fill="#fda82b"/>
<path d="M132 412.4 L135.6 410 L144 409.4 L152.4 407 L157.2 403.4 L160.8 402.2 L164.4 404 L169.2 402.8 L172.8 395.6 L170.4 390.8 L168 384.8 L167.4 378.8 L169.2 375.2 L172.8 372.8 L180 368 L187.1 365.6 L191.9 360.8 L195.2 352.4 L200 348.8 L207.1 345.8 L211.9 344.6 L216.7 344 L235.9 344 L235.9 290 L140 290 L120 350 L127.2 398Z" fill="#fff980"/>
<path d="M134.4 406.4 L136.8 403.7 L145.2 401.8 L152.6 399.4 L156.6 395.1 L159.1 390.3 L162.7 385.5 L165.3 380.5 L168.6 376.4 L173.4 371.6 L180.6 367.4 L186.5 362.6 L190.1 357.8 L192.8 351.8 L197.6 348.2 L203.5 345.2 L209.5 342.5 L214.3 339.8 L217.9 337.4 L219.7 336.2 L235.9 336.2 L235.9 290 L140 290 L120 350 L127.2 398Z" fill="#b8f87e"/>
<path d="M136.8 402.8 L144 400.4 L151.2 398 L154.8 394.4 L157.2 388.4 L160.8 382.4 L162 377 L165.6 372.8 L171.6 368 L177.6 363.8 L182.4 360.2 L187.1 355.4 L188 348.8 L191.6 344 L196.4 340.4 L202.4 337.4 L207.1 333.2 L211.9 329.6 L216.7 327.2 L222.7 326 L235.9 326 L235.9 290 L140 290 L120 350 L127.2 398Z" fill="#88f87e"/>
<path d="M164 344 L184.4 339.2 L188 332 L192.8 327.2 L198.8 323 L204.7 319.4 L210.7 315.8 L214.3 311.6 L219.1 309.2 L223.9 308 L235.9 308 L235.9 290 L140 290 L120 350 L127.2 398Z" fill="#80fadc"/>
<path d="M164 336.8 L176 332 L182 329.6 L188 324.8 L194 320.9 L200 317.6 L205.9 313.4 L210.7 308.6 L216.7 305 L235.9 303.8 L235.9 290 L140 290 L120 350 L127.2 398Z" fill="#7ef8f6"/>
<path d="M142.4 297.2 L180.8 297.2 L180.8 309.2 L142.4 309.2Z" fill="#7ef8f6"/>
<path d="M294.8 386.4C297.7 400.2 296.2 384.2 297.2 383.4C298.2 382.6 299 382 300.8 381.6C302.6 381.2 305.2 381.3 308 381C310.8 380.7 314.6 380.4 317.6 379.8C320.6 379.2 323.6 378.5 326 377.4C328.4 376.3 330.4 374.7 332 373.2C333.6 371.7 334.2 370 335.6 368.4C337 366.8 338.6 365 340.4 363.6C342.2 362.2 344.2 360.9 346.4 360C348.6 359.1 351.2 358.4 353.5 358.2C355.9 357.9 358.5 358 360.7 358.4C362.9 358.8 364.9 359.5 366.7 360.6C368.5 361.6 370.1 363.1 371.5 364.8C372.9 366.5 374.1 368.6 375.1 370.8C376.1 373 376.5 375.8 377.5 378C378.5 380.2 379.7 382.2 381.1 384C382.5 385.8 383.9 387.2 385.9 388.8C387.9 390.4 390.7 392 393.1 393.5C395.5 395.1 397.5 396.7 400.3 398.3C403.1 399.9 406 401.2 409.9 403.1C413.8 405 419.6 408.7 424 409.8C428.3 410.8 431.9 409.6 435.9 409.4C439.9 409.1 443.9 407.9 447.9 408.2C451.9 408.5 455.9 411 459.9 411.4C463.9 411.7 467.9 411.3 471.9 410.4C475.8 409.4 479.8 407.5 483.8 405.8C487.8 404.1 491.8 402.3 495.8 400.4C499.8 398.5 504.1 396.6 507.8 394.4C511.4 392.2 514.4 390.1 517.8 387.4C521.1 384.8 524.4 381.4 527.7 378.4C531.1 375.4 534.4 372.6 537.7 369.5C541.1 366.3 544.9 362.7 547.7 359.5C550.5 356.2 553.2 352.7 554.7 349.9C556.2 347.1 556.7 344.9 556.7 342.9C556.7 340.9 556 339.1 554.7 337.9C553.4 336.8 551.2 336.1 548.7 335.9C546.2 335.8 542.9 336.3 539.7 336.9C536.6 337.6 533.1 338.9 529.7 339.9C526.4 341 523.1 342.8 519.8 343.3C516.4 343.8 513.1 342.6 509.8 342.9C506.5 343.2 502.8 343.7 499.8 344.9C496.8 346.1 494.5 348.1 491.8 349.9C489.2 351.7 486.5 354.3 483.8 355.9C481.2 357.5 478.5 358.9 475.8 359.3C473.2 359.6 470 359 467.9 357.9C465.7 356.7 463.4 354.1 462.9 352.3C462.4 350.5 463 349 464.9 346.9C466.7 344.8 470.7 341.9 473.9 339.9C477 337.9 480.5 336.4 483.8 334.9C487.2 333.4 490.2 332.4 493.8 330.9C497.5 329.4 501.8 327.3 505.8 325.9C509.8 324.6 514.1 323.5 517.8 323C521.4 322.5 524.8 323.5 527.7 323C530.7 322.5 533.7 321.7 535.7 320C537.7 318.2 537.9 314.9 539.7 312.4C541.5 309.8 544.4 306.4 546.4 304.7C548.3 303.1 549.2 302.9 551.2 302.3C553.1 301.7 556.1 301.8 558.3 301.1C560.5 300.4 562.9 299.4 564.3 298.1C565.7 296.8 566.4 294.9 566.7 293.3C567 291.7 566.7 290.1 566.1 288.5C565.5 287 565 285 563.1 283.8C561.2 282.5 557.9 281.5 554.7 281.1C551.6 280.7 546.4 281.7 544 281.4C541.6 281 541.8 279.7 540.4 279C539 278.3 537.4 278 535.6 277.2C533.8 276.4 531.1 275.5 529.6 274.2C528.1 272.9 527 271.2 526.6 269.4C526.2 267.6 526.7 265.6 527.2 263.4C527.7 261.2 529 258.6 529.6 256.2C530.2 253.8 530.2 251.2 530.8 249C531.4 246.8 532 244.8 533.2 243C534.4 241.2 536.4 239.5 538 238.2C539.6 236.9 541.6 235.8 542.8 235.2C544 234.6 544.6 233.9 545.2 234.6C545.8 235.3 545.8 237.6 546.4 239.4C547 241.2 547.8 243.4 548.8 245.4C549.8 247.4 551.4 249.4 552.4 251.4C553.3 253.4 553.7 255.6 554.7 257.4C555.7 259.2 556.9 260.8 558.3 262.2C559.7 263.6 561.3 264.7 563.1 265.8C564.9 266.9 567.1 268 569.1 268.8C571.1 269.6 573.5 269.9 575.1 270.6C576.7 271.3 577.5 271.6 578.7 273C579.9 274.4 580.5 276.8 582.3 279C584.1 281.2 587.3 284.2 589.5 286.2C591.7 288.1 593.5 289.3 595.5 290.9C597.5 292.5 599.9 294.5 601.5 295.7C603.1 296.9 604 297.6 605.1 298.1C606.2 298.7 606.7 299.3 607.9 298.9C609.1 298.4 611.3 298.4 612.3 295.5C613.3 292.6 613.5 285.1 614 281.5C614.5 278 614.7 276.7 615.2 274.3C615.7 271.9 616.4 269.5 617 267.1C617.6 264.7 618.6 262.2 618.8 260C619 257.8 618.4 256 618.2 254C618 252 617.8 250.2 617.6 248C617.4 245.8 616.9 243.2 617 240.8C617.1 238.4 617.5 235.8 618.2 233.6C618.9 231.4 619.9 229.3 621.2 227.6C622.5 225.9 624.2 224.4 626 223.4C627.8 222.4 630.3 221.5 632 221.6C633.7 221.7 635.3 222.6 636.2 224C637.1 225.4 637.5 228 637.4 230C637.3 232 636.3 234 635.6 236C634.9 238 633 240 633.2 242C633.4 244 635.4 246.2 636.8 248C638.2 249.8 640 251 641.6 252.8C643.2 254.6 644.8 256.8 646.4 258.8C648 260.8 649.4 262.7 651.2 264.7C652.9 266.7 654.9 269.1 657.1 270.7C659.3 272.3 661.9 273.3 664.3 274.3C666.7 275.3 669.1 276.2 671.5 276.7C673.9 277.2 676.4 277.6 678.7 277.3C681.1 277 683.3 275.6 685.8 274.9C688.3 274.2 691.4 272.7 693.8 272.9C696.1 273.1 698.1 274.1 699.7 275.9C701.4 277.7 702.1 281.2 703.7 283.9C705.4 286.6 707.1 289.5 709.7 291.9C712.4 294.2 716.4 296 719.7 297.9C723 299.7 726.2 301.6 729.7 302.9C733.2 304.1 736.7 304.6 740.7 305.4C744.7 306.3 748.8 307.6 753.6 307.8C758.5 308.1 764.9 306.3 769.6 306.8C774.3 307.4 777.8 310.3 781.8 311.2C785.8 312 790.4 312.2 793.8 311.8C797.1 311.4 799.8 310.4 802.1 308.8C804.5 307.1 806.4 304.8 807.7 301.8C809.1 298.8 809.6 295 810.1 290.8C810.6 286.6 810.8 281.5 810.7 276.8C810.7 272.2 810.4 267.5 809.7 262.9C809.1 258.2 807.8 253.5 806.7 248.9C805.6 244.2 804.4 239 803.1 234.9C801.9 230.8 800.1 227.7 799.2 224.3C798.2 221 797.6 218.1 797.4 214.7C797.2 211.4 797.1 207.6 798 204C798.9 200.4 801.2 196.4 802.8 193.2C804.4 190 806.2 187.6 807.6 184.8C809 182 809.4 179.2 811.2 176.4C812.9 173.6 815.9 170.6 818.3 168C820.7 165.4 823.1 163.2 825.5 160.8C827.9 158.4 830.9 155.4 832.7 153.6C834.5 151.8 835.7 151.2 836.3 150C837 148.8 835.8 147.6 836.6 146.2C837.5 144.7 839.8 142.7 841.4 141.4C843.1 140 844.4 139 846.3 138.1C848.1 137.3 850.6 136.7 852.7 136.1C854.8 135.5 857 135 859.1 134.5C861.3 134 863.6 133.6 865.6 133.3C867.6 133 865.5 138.4 871.2 132.8C876.9 127.3 895.2 127.1 900 100C904.8 72.9 1003.3 -8.3 900 -30C796.7 -51.7 383.3 -85 280 -30C176.7 25 277.5 230.6 280 300C282.5 369.4 291.9 372.5 294.8 386.4Z" fill="#fff980"/>
<path d="M503.7 306.8C503.4 305.3 504.1 303.2 505.7 301.9C507.4 300.5 510.7 299.5 513.7 298.9C516.7 298.2 521.2 297.5 523.7 297.9C526.2 298.2 528.3 299.4 528.7 300.9C529 302.4 527.9 305.3 525.7 306.8C523.5 308.3 518.7 309.2 515.7 309.8C512.7 310.5 509.7 311.3 507.7 310.8C505.7 310.3 504.1 308.3 503.7 306.8Z" fill="#ffe262"/>
<path d="M294.8 382.8C297.7 396.2 296 381.2 297.2 380.4C298.4 379.6 299.2 378.6 302 378C304.8 377.4 310.6 377.4 314 376.8C317.4 376.2 320.4 375.6 322.4 374.4C324.4 373.2 324.6 371.2 326 369.6C327.4 368 328.8 366.6 330.8 364.8C332.8 363 335.6 360.5 338 358.8C340.4 357.1 342.6 355.7 345.2 354.6C347.8 353.5 350.8 352.7 353.5 352.2C356.3 351.7 359.5 351.3 361.9 351.6C364.3 351.9 365.9 352.6 367.9 354C369.9 355.4 372.1 357.6 373.9 360C375.7 362.4 377.1 365.8 378.7 368.4C380.3 371 381.5 373.8 383.5 375.6C385.5 377.4 388.3 378.2 390.7 379.2C393.1 380.2 395.7 380.6 397.9 381.6C400.1 382.6 402.2 382.8 403.9 385.2C405.6 387.5 405.6 392.9 408 395.8C410.3 398.7 414.3 401.1 418 402.8C421.6 404.5 425.9 405.5 429.9 405.8C433.9 406.1 438.3 405.8 441.9 404.8C445.6 403.8 449.2 402 451.9 399.8C454.6 397.6 456.7 394.8 457.9 391.8C459 388.8 459.4 385.2 458.9 381.8C458.4 378.5 456.4 374.9 454.9 371.9C453.4 368.9 451.9 366.2 449.9 363.9C447.9 361.5 445.2 359.7 442.9 357.9C440.6 356.1 437.3 354.7 435.9 352.9C434.6 351.1 434.3 348.6 434.9 346.9C435.6 345.2 437.4 344.1 439.9 342.9C442.4 341.7 446.9 341.4 449.9 339.9C452.9 338.4 455.6 335 457.9 333.9C460.2 332.9 461.8 335.1 463.8 333.8C465.8 332.4 467.5 328.1 469.8 325.8C472.1 323.5 475.1 321.8 477.8 319.8C480.4 317.8 483.8 316.2 485.8 313.8C487.8 311.5 488.8 308.5 489.8 305.8C490.8 303.2 490.4 300.2 491.8 297.9C493.1 295.5 495.4 293.5 497.7 291.9C500.1 290.2 503.1 289.4 505.7 287.9C508.4 286.4 511.4 285.1 513.7 282.9C516 280.7 518.9 277 519.7 274.9C520.5 272.9 518.5 272.5 518.8 270.6C519 268.6 520.4 265.8 521.2 263.4C522 261 522.8 258.6 523.6 256.2C524.4 253.8 525 251.4 526 249C527 246.6 528.2 244 529.6 241.8C531 239.6 532.6 237.4 534.4 235.8C536.2 234.2 538.4 233 540.4 232.2C542.4 231.4 544.4 231.1 546.4 231C548.4 230.9 550.6 231.2 552.4 231.6C554.1 232 555.7 232.5 557.1 233.4C558.5 234.3 560.7 235.8 560.7 237C560.7 238.2 558 239.2 557.1 240.6C556.2 242 555.5 243.8 555.3 245.4C555.1 247 555.2 248.6 555.9 250.2C556.6 251.8 558.5 253.4 559.5 255C560.5 256.6 560.7 258.2 561.9 259.8C563.1 261.4 564.9 263.3 566.7 264.6C568.5 265.9 570.7 266.8 572.7 267.6C574.7 268.4 576.9 268.7 578.7 269.4C580.5 270.1 582.3 270.6 583.5 271.8C584.7 273 584.9 275 585.9 276.6C586.9 278.2 588.1 279.8 589.5 281.4C590.9 283 592.5 284.6 594.3 286.2C596.1 287.7 598.5 289.5 600.3 290.9C602.1 292.3 603.7 293.6 605.1 294.5C606.5 295.5 607.7 297 608.9 296.9C610.2 296.7 612.1 295.8 612.7 293.5C613.4 291.1 612.6 286.3 612.8 282.7C613 279.1 613.4 275.7 613.7 271.9C614.1 268.1 614.9 263.9 614.9 260C615 256 614.1 252 614 248C613.8 244 613.7 239 614 236C614.3 233 614.8 232 615.8 230C616.8 228 618.3 225.7 620 224C621.7 222.3 624 220.8 626 219.8C628 218.8 630 218 632 218C634 218 636.5 218.6 638 219.8C639.5 221 640.4 223.1 641 225.2C641.6 227.3 641.7 230.2 641.6 232.4C641.5 234.6 640.4 236.4 640.4 238.4C640.4 240.4 640.6 242.4 641.6 244.4C642.6 246.4 644.6 248.4 646.4 250.4C648.2 252.4 650.4 254.2 652.4 256.4C654.3 258.6 656.3 261.4 658.3 263.5C660.3 265.7 662.1 267.9 664.3 269.5C666.5 271.1 669.1 272.2 671.5 273.1C673.9 274 676.4 275.1 678.7 274.9C681.1 274.8 683.3 273.2 685.8 272.3C688.3 271.5 691.3 269.8 693.8 269.9C696.2 270 698.7 271.1 700.7 272.9C702.7 274.7 703.9 278.2 705.7 280.9C707.6 283.6 709.2 286.6 711.7 288.9C714.2 291.2 717.7 293 720.7 294.9C723.7 296.7 726.4 298.5 729.7 299.9C733 301.2 736.7 302 740.7 302.9C744.7 303.7 748.8 304.6 753.6 304.9C758.5 305.1 764.9 303.7 769.6 304.3C774.3 304.8 777.8 307.6 781.8 308.4C785.8 309.1 790.6 309.1 793.8 308.8C796.9 308.4 798.7 307.9 800.7 306.4C802.7 304.9 804.5 302.5 805.7 299.8C807 297 807.6 293.6 808.1 289.8C808.6 286 808.8 281.1 808.7 276.8C808.7 272.5 808.5 268.3 807.7 263.9C807 259.4 805.3 254.4 804.1 249.9C803 245.4 803.6 241.6 800.7 236.9C797.9 232.2 789.7 226.4 787.2 221.9C784.6 217.5 785.4 213.5 785.4 210C785.4 206.4 786.1 203.6 787.2 200.4C788.3 197.2 790.2 193.8 792 190.8C793.8 187.8 796 185 798 182.4C800 179.8 802 177.2 804 175.2C806 173.2 807.8 172 810 170.4C812.2 168.8 814.7 167.6 817.1 165.6C819.5 163.6 822.1 160.8 824.3 158.4C826.5 156 828.6 153.7 830.3 151.2C832.1 148.7 833.4 145.3 835 143.1C836.6 141 838 139.6 839.8 138.3C841.7 137 844.1 136 846.3 135.2C848.4 134.4 850.6 134 852.7 133.5C854.8 133 857 132.6 859.1 132.3C861.3 131.9 863.6 131.7 865.6 131.5C867.6 131.4 865.5 136.5 871.2 131.2C876.9 126 895.2 126.9 900 100C904.8 73.1 1003.3 -8.3 900 -30C796.7 -51.7 383.3 -85 280 -30C176.7 25 277.5 231.2 280 300C282.5 368.8 291.9 369.4 294.8 382.8Z" fill="#b8f87e"/>
<path d="M297.2 369.6C300.7 380.8 299.4 368 300.8 367.2C302.2 366.4 302.4 365.7 305.6 364.8C308.8 363.9 316 363.1 320 361.8C324 360.5 326.6 358.7 329.6 357C332.6 355.3 334.6 353.1 338 351.6C341.4 350.1 346.4 349 350 348C353.5 347 356.7 345.6 359.5 345.6C362.3 345.6 364.3 346.6 366.7 348C369.1 349.4 371.7 351.4 373.9 354C376.1 356.6 377.3 360.8 379.9 363.6C382.5 366.4 386.5 369 389.5 370.8C392.5 372.6 394.5 373.2 397.9 374.4C401.3 375.6 408.2 375.7 409.9 378C411.6 380.2 407 384.8 408 387.8C409 390.8 413 393.8 416 395.8C419 397.8 422.3 399.1 425.9 399.8C429.6 400.5 434.4 400.6 437.9 399.8C441.4 399 444.9 397.1 446.9 394.8C448.9 392.5 449.6 389 449.9 385.8C450.2 382.7 449.7 378.8 448.9 375.8C448.1 372.9 446.7 370.2 444.9 367.9C443.1 365.5 440.1 363.5 437.9 361.9C435.8 360.2 433.9 359.5 431.9 357.9C429.9 356.2 426.8 354.2 425.9 351.9C425.1 349.6 425.9 346.1 426.9 343.9C427.9 341.7 429.8 340.1 431.9 338.9C434.1 337.8 437.3 337.8 439.9 336.9C442.6 336.1 445.6 335.4 447.9 333.9C450.2 332.4 452.4 330.3 453.9 327.9C455.4 325.6 456.2 322.6 456.9 320C457.6 317.3 457.7 313 457.9 312C458 311 457.2 314.9 457.8 313.8C458.5 312.8 459.8 308 461.8 305.8C463.8 303.7 467.1 302.4 469.8 300.9C472.5 299.4 474.5 298.4 477.8 296.9C481.1 295.4 486.1 293.4 489.8 291.9C493.4 290.4 496.7 289.2 499.7 287.9C502.7 286.6 505.4 285.6 507.7 283.9C510.1 282.2 512 280.2 513.7 277.9C515.4 275.6 517.1 271.7 517.7 269.9C518.3 268.1 517.3 268.7 517.6 267C517.9 265.3 518.7 262.2 519.4 259.8C520.1 257.4 520.9 255 521.8 252.6C522.7 250.2 523.7 247.6 524.8 245.4C525.9 243.2 527 241.4 528.4 239.4C529.8 237.4 531.4 234.9 533.2 233.4C535 231.9 537 231.1 539.2 230.4C541.4 229.7 544 229.4 546.4 229.2C548.8 229 551.2 229.3 553.5 229.2C555.9 229.1 558.5 228.8 560.7 228.6C562.9 228.4 564.5 226.2 566.7 228C568.9 229.8 572.7 233.9 573.9 239.4C575.1 244.9 572.1 257.5 573.9 261C575.8 264.4 582.9 258.9 585.2 260C587.5 261 586.6 265.3 587.6 267.1C588.6 268.9 590 269.5 591.2 270.7C592.4 271.9 593.4 273.1 594.8 274.3C596.2 275.5 597.8 277.1 599.6 277.9C601.4 278.7 603.8 279.1 605.6 279.1C607.4 279.1 609.3 278.7 610.4 277.9C611.5 277.1 612.1 275.7 612.2 274.3C612.3 272.9 611.7 271.1 611 269.5C610.3 267.9 608.8 266.3 608 264.7C607.2 263.1 606.6 261.8 606.2 260C605.8 258.2 605.3 256.4 605.6 254C605.9 251.6 607.1 248.4 608 245.6C608.9 242.8 610 240 611 237.2C612 234.4 612.7 231.4 614 228.8C615.3 226.2 616.8 223.7 618.8 221.6C620.8 219.5 623.6 217.4 626 216.2C628.4 215 630.8 214.5 633.2 214.4C635.6 214.3 638.5 214.6 640.4 215.6C642.3 216.6 643.7 218.4 644.6 220.4C645.5 222.4 645.5 225 645.8 227.6C646.1 230.2 645.9 233.4 646.4 236C646.9 238.6 647.6 241 648.8 243.2C650 245.4 651.8 247.4 653.5 249.2C655.3 251 657.5 252.2 659.5 254C661.5 255.8 663.7 257.8 665.5 260C667.3 262.2 668.9 265.1 670.3 267.1C671.7 269.1 674 271.7 673.9 271.9C673.9 272.2 669.7 268.5 670 268.8C670.3 269.2 674 273.8 676 273.8C678 273.8 679.6 270.7 682 268.8C684.3 267 687 264 690 262.9C693 261.7 697.3 261.2 699.9 261.9C702.6 262.5 704.6 264.3 705.9 266.8C707.3 269.3 707.3 273.8 707.9 276.8C708.6 279.8 708.3 282.8 709.9 284.8C711.6 286.8 714.9 288 717.9 288.8C720.9 289.6 724.6 289.8 727.9 289.8C731.2 289.8 734.2 288.3 737.9 288.8C741.5 289.3 746.5 292.5 749.8 292.8C753.2 293.1 755.8 290.1 757.8 290.8C759.8 291.5 760.2 294.8 761.8 296.8C763.5 298.8 765.8 302.1 767.8 302.8C769.8 303.4 772.1 303.1 773.8 300.8C775.5 298.4 776.5 292 777.8 288.8C779.1 285.6 780.1 282.8 781.8 281.8C783.4 280.8 785.8 281.8 787.8 282.8C789.8 283.8 791.8 287.1 793.8 287.8C795.7 288.5 797.7 288.3 799.7 286.8C801.7 285.3 804.4 281.8 805.7 278.8C807.1 275.8 808.1 272.2 807.7 268.8C807.4 265.5 805.7 261.9 803.7 258.9C801.7 255.9 798.4 253.5 795.7 250.9C793.1 248.2 789.8 245.7 787.8 242.9C785.8 240.1 784.7 237.4 783.8 233.9C782.9 230.4 783.3 225.9 782.4 221.9C781.4 217.9 779.1 213.5 778.2 210C777.3 206.4 776.5 203.8 777 200.4C777.5 197 779.3 193 781.2 189.6C783.1 186.2 786 182.8 788.4 180C790.8 177.2 793.2 174.8 795.6 172.8C798 170.8 800.4 169.2 802.8 168C805.2 166.8 807.6 166.6 810 165.6C812.4 164.6 814.9 163.6 817.1 162C819.3 160.4 821.3 158 823.1 156C824.9 154 826.8 151.8 827.9 150C829.1 148.2 829 147.1 830.2 145.4C831.4 143.7 833.4 141.5 835 139.7C836.6 138 838 136.2 839.8 134.9C841.7 133.6 844.1 132.8 846.3 132.1C848.4 131.4 850.6 131 852.7 130.5C854.8 130 857 129.6 859.1 129.3C861.3 129 863.6 129 865.6 128.9C867.6 128.8 865.5 133.5 871.2 128.6C876.9 123.8 895.2 126.4 900 100C904.8 73.6 1003.3 -8.3 900 -30C796.7 -51.7 383.3 -85 280 -30C176.7 25 277.1 233.4 280 300C282.9 366.6 293.7 358.4 297.2 369.6Z" fill="#88f87e"/>
<path d="M563.1 228.6C561.5 227.9 558.7 231.4 558.3 232.8C558 234.2 561.1 235.7 561 237C560.8 238.3 558.3 239.2 557.4 240.6C556.5 242 555.8 243.8 555.6 245.4C555.4 247 555.6 248.7 556.2 250.2C556.8 251.7 557.8 253.3 559.2 254.4C560.5 255.4 562.9 259.3 564.3 256.4C565.8 253.5 568.1 241.6 567.9 237C567.7 232.4 564.7 229.3 563.1 228.6Z" fill="#88f87e"/>
<path d="M304.4 357.6C309.1 366.2 306.4 353.2 308 351.6C309.6 350 311 348.7 314 348C317 347.3 322.4 347.9 326 347.4C329.6 346.9 333 346.1 335.6 345C338.2 343.9 340.2 342.3 341.6 340.8C343 339.3 343 337.1 344 336C345 334.9 345.4 334.6 347.6 334.2C349.8 333.8 353.9 333.4 357.1 333.6C360.3 333.8 363.9 334.6 366.7 335.4C369.5 336.2 371.5 337.3 373.9 338.4C376.3 339.5 379.1 340.4 381.1 342C383.1 343.6 384.5 346 385.9 348C387.3 350 387.9 352 389.5 354C391.1 356 393.3 358.2 395.5 360C397.7 361.8 400.3 363.4 402.7 364.8C405.1 366.2 408.7 367.8 409.9 368.4C411.1 369 408.6 366.9 410 368.5C411.3 370 415.3 375 418 377.8C420.6 380.7 423.3 383.4 425.9 385.8C428.6 388.2 431.4 391.1 433.9 392.2C436.4 393.4 438.9 393.5 440.9 392.8C443 392.1 445.3 389.8 446.3 387.8C447.3 385.8 447.5 383.2 447.1 380.8C446.7 378.5 445.4 376.2 443.9 373.9C442.4 371.5 439.9 369.2 437.9 366.9C435.9 364.5 433.8 362.3 431.9 359.9C430 357.5 428.1 354 426.5 352.3C425 350.6 423.6 351.5 422.9 349.8C422.2 348 421.8 344.4 422.3 341.8C422.8 339.1 425.6 336.8 425.9 333.8C426.2 330.8 424.7 327.1 423.9 323.8C423.1 320.5 421.2 317.5 420.9 313.8C420.6 310.2 420.7 305.2 421.9 301.9C423.1 298.5 425.6 296.5 427.9 293.9C430.2 291.2 433.9 288.5 435.9 285.9C437.9 283.2 438.2 280.2 439.9 277.9C441.5 275.6 443.5 273.2 445.8 271.9C448.2 270.6 451.5 269.6 453.8 269.9C456.2 270.3 458.2 272.2 459.8 273.9C461.5 275.6 462.1 278.1 463.8 279.9C465.5 281.7 467.5 283.9 469.8 284.9C472.1 285.9 474.8 286.2 477.8 285.9C480.8 285.6 484.4 284.4 487.8 282.9C491.1 281.4 494.8 278.9 497.7 276.9C500.7 274.9 503.4 272.7 505.7 270.9C508.1 269.2 510.3 267.1 511.7 266.3C513.1 265.6 513.1 267.3 514 266.4C514.9 265.5 516.2 262.9 517 261C517.8 259.1 518.1 256.9 518.8 255C519.5 253.1 520.3 251.4 521.2 249.6C522.1 247.8 523.4 245.9 524.2 244.2C525 242.5 525.5 240.9 526 239.4C526.5 237.9 526.5 236.5 527.2 235.2C527.9 233.9 528.9 232.7 530.2 231.6C531.4 230.5 532.7 229.6 534.6 228.6C536.5 227.6 538.6 226.7 541.8 225.7C545 224.8 550.1 223.7 553.8 222.8C557.5 222 560.5 221.2 563.9 220.8C567.2 220.4 570.8 217.7 573.9 220.2C577.1 222.7 580.9 229.7 582.8 236C584.7 242.2 584.4 252.7 585.2 257.6C586 262.5 586.8 264.1 587.6 265.3C588.4 266.5 588.6 265.4 590 264.7C591.4 264 594.2 262.5 596 261.2C597.8 259.8 599.6 258.6 600.8 256.4C602 254.2 602.4 250.8 603.2 248C604 245.2 604.6 242.4 605.6 239.6C606.6 236.8 607.8 233.8 609.2 231.2C610.6 228.6 612.2 226.4 614 224C615.8 221.6 617.8 218.8 620 216.8C622.2 214.8 624.8 213 627.2 212C629.6 211 632 210.8 634.4 210.8C636.8 210.8 639.6 211 641.6 212C643.6 213 645.2 214.8 646.4 216.8C647.6 218.8 648.3 221.6 648.8 224C649.3 226.4 649.2 228.8 649.4 231.2C649.6 233.6 649.3 236.2 650 238.4C650.7 240.6 652 242.6 653.5 244.4C655.1 246.2 657.3 247.8 659.5 249.2C661.7 250.6 664.3 251.9 666.7 252.8C669.1 253.7 671.5 254.2 673.9 254.6C676.3 255 678.1 255.2 681.1 255.2C684.1 255.2 688.3 255 691.9 254.6C695.5 254.2 699.7 253.7 702.7 252.8C705.7 251.8 706.7 250.4 709.9 248.9C713.1 247.4 718.2 245.1 721.9 243.9C725.6 242.7 728.9 241.7 731.9 241.9C734.9 242.1 737.5 243.1 739.9 244.9C742.2 246.7 743.9 250.5 745.8 252.9C747.8 255.2 750 258 751.8 258.9C753.7 259.7 755.5 259.5 756.8 257.9C758.2 256.2 758.8 252 759.8 248.9C760.8 245.7 761.9 242.2 762.8 238.9C763.7 235.6 764.8 232.2 765.4 228.9C766 225.6 766.6 222.1 766.6 218.9C766.6 215.8 765.4 213.4 765.6 210C765.8 206.5 766.6 201.6 768 198C769.4 194.4 771.6 191.4 774 188.4C776.4 185.4 779.8 182.8 782.4 180C785 177.2 787 174.2 789.6 171.6C792.2 169 795 166.2 798 164.4C801 162.6 804.8 162 807.6 160.8C810.4 159.6 812.5 158.6 814.7 157.2C816.9 155.8 819.2 154.4 820.7 152.4C822.2 150.4 822.5 147.3 823.8 145.4C825.1 143.4 827 142.3 828.6 140.5C830.2 138.8 831.8 136.7 833.4 134.9C835 133.2 836.6 131.4 838.2 130.1C839.8 128.8 841.2 128.1 843.1 127.3C844.9 126.5 847.3 125.9 849.5 125.3C851.6 124.6 853.8 123.8 855.9 123.3C858.1 122.7 859.8 122.3 862.3 122.1C864.9 121.8 864.9 125.4 871.2 121.7C877.5 118.1 895.2 125.3 900 100C904.8 74.7 1003.3 -8.3 900 -30C796.7 -51.7 383.3 -85 280 -30C176.7 25 275.9 235.4 280 300C284.1 364.6 299.7 349 304.4 357.6Z" fill="#80fadc"/>
<path d="M308 354C313.2 362.4 310 351.8 311.6 350.4C313.2 349 315.2 346.5 317.6 345.6C320 344.7 323.2 345.5 326 345C328.8 344.5 332 343.7 334.4 342.6C336.8 341.5 338.9 340.1 340.4 338.4C341.9 336.7 341.1 334.5 343.4 332.4C345.6 330.3 350.1 327.6 353.8 326C357.6 324.4 361.8 323.2 365.8 323C369.8 322.8 374.3 323.8 377.8 325C381.3 326.2 384.8 327.8 386.8 330C388.8 332.2 388.4 335.2 389.8 338C391.1 340.8 392.6 344.1 394.8 347C396.9 349.8 400.1 352.3 402.7 355C405.4 357.6 408.1 360.3 410.7 362.9C413.4 365.6 416.3 368.2 418.7 370.9C421.1 373.7 423.3 377 425.3 379.5C427.3 382 428.8 384.3 430.7 385.9C432.6 387.5 435 389 436.7 388.9C438.3 388.7 440.2 386.7 440.7 384.9C441.2 383.1 440.8 380.1 439.7 377.9C438.5 375.7 435.7 374.2 433.7 371.9C431.7 369.6 429.7 366.6 427.7 363.9C425.7 361.3 423.2 358.9 421.7 355.9C420.2 353 418.9 349.3 418.7 346C418.5 342.6 420 338.6 420.7 336C421.4 333.3 422.8 332 422.7 330C422.6 328 420.9 326.5 419.9 323.8C418.9 321.1 417.6 317.5 416.9 313.8C416.2 310.2 415.4 305.8 415.9 301.9C416.4 297.9 417.9 293.2 419.9 289.9C421.9 286.6 425.2 284.4 427.9 281.9C430.5 279.4 433.2 277.1 435.9 274.9C438.5 272.7 440.9 270.1 443.9 268.9C446.8 267.8 450.8 267.8 453.8 267.9C456.8 268.1 459.2 268.6 461.8 269.9C464.5 271.3 467.1 274.7 469.8 275.9C472.5 277.1 474.8 277.2 477.8 276.9C480.8 276.6 484.8 275.2 487.8 273.9C490.8 272.6 493.4 270.4 495.7 268.9C498.1 267.4 499.7 266.1 501.7 264.9C503.7 263.8 505.4 262 507.7 261.9C510.1 261.9 514.1 264.9 515.8 264.6C517.5 264.2 517.1 261.6 517.8 259.8C518.5 258 519.2 255.6 520 253.8C520.7 252 521.5 250.8 522.4 249C523.2 247.2 524.3 244.8 525 243C525.7 241.2 526.1 239.7 526.6 238.2C527.1 236.7 527.4 235.4 528.1 234C528.8 232.6 529.7 231.1 530.8 229.8C531.8 228.5 532.8 227.1 534.6 226C536.4 224.8 538.6 223.8 541.8 222.8C545 221.9 550.1 220.9 553.8 220.2C557.5 219.5 560.5 218.8 563.9 218.4C567.2 218 572.1 237.5 573.9 217.8C575.8 198.1 574.8 141.3 575 100C575.2 58.7 624.2 -8.3 575 -30C525.8 -51.7 329.2 -85 280 -30C230.8 25 275.3 236 280 300C284.7 364 302.7 345.6 308 354Z" fill="#7ef8f6"/>
<path d="M548.8 213.8C549.2 216.1 550.3 216.9 551.8 217.8C553.3 218.7 555.5 219.3 557.8 219.4C560.2 219.5 562.5 218.5 565.8 218.4C569.1 218.3 575.6 221.4 577.8 219C579.9 216.6 583.4 206.4 578.8 203.8C574.1 201.3 554.8 202.2 549.8 203.8C544.9 205.5 548.5 211.5 548.8 213.8Z" fill="#74eafc"/>
<path d="M582.8 236C583 239.6 584.4 250 585.2 254C586 258 586.2 259.4 587.6 260C589 260.6 591.8 258.8 593.6 257.6C595.4 256.4 597.1 254.6 598.4 252.8C599.7 251 600.5 249.2 601.4 246.8C602.3 244.4 602.8 241.2 603.8 238.4C604.8 235.6 606 232.6 607.4 230C608.8 227.4 610.4 225.2 612.2 222.8C614 220.4 615.9 217.7 618.2 215.6C620.5 213.5 623.3 211.4 626 210.2C628.7 209 631.6 208.6 634.4 208.6C637.2 208.6 640.5 209 642.8 210.2C645.1 211.4 646.8 213.4 648.2 215.6C649.5 217.8 650.4 220.8 650.9 223.4C651.5 226 651.2 228.8 651.4 231.2C651.6 233.6 651.6 235.9 652.4 237.8C653.1 239.7 654.3 241.1 655.9 242.6C657.5 244.1 659.7 245.6 661.9 246.8C664.1 248 666.7 249.1 669.1 249.8C671.5 250.5 673.5 250.8 676.3 251C679.1 251.2 682.3 251.2 685.9 251C689.5 250.7 697.2 250.2 697.9 249.4C698.6 248.6 688 246.5 690 245.9C692 245.3 704.9 246.7 709.9 245.9C714.9 245.1 716.2 242.5 719.9 241.3C723.6 240.1 728.2 238.8 731.9 238.9C735.5 239 739.2 240.2 741.9 241.9C744.5 243.6 746 246.7 747.8 248.9C749.7 251 751.4 254.2 752.8 254.9C754.2 255.5 755.4 254.5 756.2 252.9C757.1 251.2 757.1 247.9 757.8 244.9C758.6 241.9 760 238.2 760.8 234.9C761.7 231.6 762.3 228.3 762.8 224.9C763.3 221.6 763.9 217.9 763.8 214.9C763.7 212 762 209.6 762.2 207C762.4 204.3 763.5 201.5 764.8 199C766.1 196.5 769.8 192.2 769.8 192C769.8 191.8 764.8 198.6 765 198C765.2 197.4 768.6 191.5 771 188.4C773.4 185.3 776.7 182.4 779.4 179.4C782.1 176.4 784.4 173.2 787.2 170.4C790 167.6 793.1 164.5 796.2 162.6C799.3 160.6 803 159.8 805.8 158.6C808.6 157.4 810.9 156.6 812.9 155.4C815 154.2 817.5 153.7 818.3 151.2C819.2 148.7 817.5 143.3 818.1 140.5C818.8 137.8 820.4 136.7 822.2 134.9C823.9 133.2 826.4 131.6 828.6 130.1C830.7 128.6 832.9 127.3 835 126.1C837.2 124.9 839.3 123.9 841.4 122.9C843.6 121.9 845.7 120.9 847.9 120C850 119.2 852.2 118.4 854.3 117.6C856.5 116.9 857.9 116.2 860.7 115.6C863.6 115 864.6 123.3 871.2 114C877.7 104.7 895.2 84 900 60C904.8 36 952.7 -15 900 -30C847.3 -45 636.7 -73.7 584 -30C531.3 13.7 584.2 187.7 584 232C583.8 276.3 582.6 232.3 582.8 236Z" fill="#7ef8f6"/>
<path d="M358 304.9C372 306.5 362 307.5 364 309.8C366 312.2 367.7 316.7 370 318.8C372.3 321 375.3 321.3 378 322.8C380.6 324.3 384 325.6 386 327.8C388 330 388.6 333.1 390 335.8C391.3 338.4 392 341.9 394 343.8C395.9 345.6 399.3 346.8 401.9 346.8C404.6 346.8 407.6 345.6 409.9 343.8C412.2 341.9 414.6 338.8 415.9 335.8C417.2 332.8 417.9 329.1 417.9 325.8C417.9 322.5 416.9 319.2 415.9 315.8C414.9 312.5 412.9 309.2 411.9 305.8C410.9 302.5 409.9 298.9 409.9 295.9C409.9 292.9 410.6 290.4 411.9 287.9C413.2 285.4 415.2 283.1 417.9 280.9C420.6 278.7 424.6 276.9 427.9 274.9C431.2 272.9 434.2 270.4 437.9 268.9C441.5 267.4 445.8 266.4 449.8 265.9C453.8 265.4 457.8 265.6 461.8 265.9C465.8 266.3 470.1 267.6 473.8 267.9C477.5 268.3 480.8 268.4 483.8 267.9C486.8 267.4 489.9 265.9 491.8 264.9C493.6 263.9 493.8 263.8 494.8 261.9C495.7 260.1 493.5 272.6 497.7 254C502 235.3 516.3 197.3 520 150C523.7 102.7 560 0 520 -30C480 -60 320 -85 280 -30C240 25 267 244.2 280 300C293 355.8 344 303.2 358 304.9Z" fill="#74eafc"/>
<path d="M582.8 251.6C583.2 254.8 584.9 252.1 586.4 251.6C587.9 251.1 590 249.4 591.8 248.6C593.6 247.8 595.5 248.1 597.2 246.8C598.9 245.5 600.7 243.2 602 240.8C603.3 238.4 604.3 235.4 605 232.4C605.7 229.4 606.4 225.6 606.2 222.8C606 220 604.9 217.6 603.8 215.6C602.7 213.6 600.8 211.9 599.6 210.8C598.4 209.7 597.8 209.6 596.6 209C595.4 208.4 592.2 209.4 592.4 207.2C592.6 205 596.2 198.9 598 196C599.8 193.1 601.5 191.1 603 190C604.5 188.9 605.3 189.1 607 189.5C608.7 189.9 610.8 191.4 613 192.5C615.2 193.6 617.8 194.8 620 196C622.2 197.2 623.8 198.3 626 200C628.2 201.7 631 204.5 633 206C635 207.5 635.5 207.8 638 209C640.4 210.2 644.8 211.7 647.6 213.2C650.4 214.7 652.5 216.5 654.7 218C656.9 219.5 658.7 221.2 660.7 222.2C662.7 223.2 665.5 222.7 666.7 224C667.9 225.3 668.5 228.5 668 230C667.5 231.5 664.3 231.8 664 233C663.7 234.2 665 235.8 666 237C667 238.2 668.5 239.2 670 240C671.5 240.8 673.3 241.5 675 242C676.7 242.5 678.2 242.9 680 243.2C681.8 243.5 684.2 244.1 686 244C687.8 243.9 689.7 243.3 691 242.5C692.3 241.7 693.3 240.2 694 239C694.7 237.8 694.9 236.5 695 235C695.1 233.5 694.5 231.8 694.8 230C695.1 228.2 695.8 225.7 697 224C698.2 222.3 700.2 220.8 702 220C703.8 219.2 706.2 219.5 708 219.5C709.8 219.5 711.3 219.7 713 220C714.7 220.3 716.2 221.1 718 221.5C719.8 221.9 722 222.4 724 222.5C726 222.6 728.4 222.6 730 222C731.6 221.4 733.2 221.1 733.9 218.9C734.5 216.8 733.2 212.3 733.9 209C734.5 205.6 735.9 201.6 737.9 199C739.9 196.3 743.4 195.4 745.8 193C748.3 190.6 751.2 187.2 752.4 184.7C753.5 182.1 752.5 180.3 752.9 177.9C753.3 175.6 753.8 172.7 754.7 170.7C755.6 168.7 756.7 167 758.3 165.9C759.9 164.8 762.1 164.4 764.3 164.1C766.5 163.8 769.1 164.4 771.5 164.1C773.9 163.8 776.7 163.2 778.7 162.4C780.7 161.5 782.3 160.4 783.5 158.8C784.7 157.2 785.1 154.8 785.9 152.8C786.7 150.8 787.1 148.2 788.3 146.8C789.5 145.4 791.5 144.4 793.1 144.4C794.7 144.4 796.1 146 797.9 146.8C799.7 147.6 801.9 149 803.9 149.2C805.9 149.4 808.9 149.1 809.9 148C810.9 146.8 810 143.9 810.1 142.2C810.2 140.4 810.3 138.8 810.5 137.3C810.7 135.9 810.7 134.7 811.3 133.3C811.9 132 812.8 130.6 814.1 129.3C815.4 128 817.2 126.6 818.9 125.3C820.7 123.9 822.7 122.3 824.6 121.3C826.4 120.2 828.3 119.6 830.2 118.8C832.1 118.1 834.1 117.6 835.8 116.8C837.6 116.1 839.3 115.2 840.6 114.4C842 113.6 843.1 112.7 843.9 112C844.7 111.3 844.9 111.3 845.5 110C846 108.7 846.4 106.3 847.1 104.4C847.8 102.4 848.3 100.2 849.5 98.4C850.7 96.6 852.5 95.2 854.3 93.6C856.1 92 858.3 90 860.3 88.8C862.3 87.6 864.5 87 866.3 86.4C868.1 85.8 865.5 86.2 871.1 85.2C876.7 84.1 895.2 99.2 900 80C904.8 60.8 952.7 -11.7 900 -30C847.3 -48.3 636.7 -73.7 584 -30C531.3 13.7 584.2 185.1 584 232C583.8 278.9 582.4 248.3 582.8 251.6Z" fill="#74eafc"/>
<path d="M796.8 100.8C795.9 102.7 796 105.8 796.2 108C796.4 110.2 797.2 112.4 798 113.9C798.8 115.4 800.2 117.1 801 116.9C801.8 116.7 802.4 114.4 802.8 112.7C803.2 111 803 108.8 803.4 106.8C803.8 104.8 804.7 102.3 805.2 100.8C805.7 99.3 807 98.5 806.4 97.8C805.8 97.1 803.2 96.1 801.6 96.6C800 97.1 797.7 98.9 796.8 100.8Z" fill="#7ef8f6"/>
<path d="M366 297.9 L382 296.9 L390 296.9 L395.9 296.3 L401.9 289.9 L407.9 279.9 L410.9 269.9 L415.9 265.9 L449.8 250 L449.8 230 L366 230Z" fill="#5ccdfa"/>
<path d="M746.4 186.3C754.2 182.7 746.6 180.3 747 177.9C747.4 175.5 747.9 173.7 748.8 171.9C749.7 170.1 750.6 168.9 752.4 167.1C754.1 165.3 757.1 162.5 759.5 161.2C761.9 159.8 764.3 159.6 766.7 158.8C769.1 158 771.9 157.6 773.9 156.4C775.9 155.2 777.7 153.4 778.7 151.6C779.7 149.8 779.3 147.4 779.9 145.6C780.5 143.8 781.1 142 782.3 140.8C783.5 139.6 785.3 138.6 787.1 138.4C788.9 138.2 791.3 139.1 793.1 139.6C794.9 140.1 796.3 141.2 797.9 141.4C799.5 141.6 801.5 141.7 802.7 140.8C803.9 139.9 807.7 138.6 805.1 136C802.5 133.3 790.4 128.2 787.2 124.7C784 121.3 786 118.3 786 115.1C786 111.9 786.4 108.4 787.2 105.6C788 102.8 789.6 100.2 790.8 98.4C792 96.6 792.8 96 794.4 94.8C796 93.6 798.4 92 800.4 91.2C802.4 90.4 804.2 90.3 806.4 90C808.6 89.7 811.6 89.2 813.5 89.4C815.5 89.6 817.3 90.3 818.3 91.2C819.3 92.1 819.9 93.4 819.5 94.8C819.1 96.2 817.3 98 815.9 99.6C814.5 101.2 812.2 102.6 811.2 104.4C810.2 106.2 809.4 108.8 810 110.4C810.6 111.9 812.5 113.2 814.7 113.9C816.9 114.6 820.3 114.7 823.1 114.5C825.9 114.3 828.9 113.8 831.5 112.7C834.1 111.6 836.7 109.8 838.7 108C840.7 106.2 842.1 104 843.5 102C844.9 100 845.7 98 847.1 96C848.5 94 850.1 91.8 851.9 90C853.7 88.2 855.7 86.4 857.9 85.2C860.1 84 862.9 83.3 865.1 82.8C867.3 82.3 865.3 86 871.1 82.2C876.9 78.4 895.2 78.7 900 60C904.8 41.3 933.3 -15 900 -30C866.7 -45 733.3 -68.3 700 -30C666.7 8.3 692.3 163.9 700 200C707.7 236.1 738.5 190 746.4 186.3Z" fill="#5ccdfa"/>
<path d="M625 183C622.8 184.2 626.2 187.8 627 190C627.8 192.2 628.5 194 630 196C631.5 198 633.8 200 636 202C638.2 204 640.3 206.3 643 208C645.7 209.7 647.5 211.3 652 212C656.5 212.7 667 215.3 670 212C673 208.7 675 196.8 670 192C665 187.2 647.5 184.5 640 183C632.5 181.5 627.2 181.8 625 183Z" fill="#5ccdfa"/>
<path d="M699.9 197C700.9 205.5 704.3 199.4 705.9 201C707.6 202.6 708.3 205.4 709.9 206.6C711.6 207.7 713.8 208.5 715.9 208C718 207.4 720.4 205.2 722.3 203.4C724.2 201.5 726.3 199.4 727.3 197C728.3 194.6 726.3 192.2 728.3 189C730.3 185.8 737.4 180.8 739.4 177.9C741.4 175.1 739.8 173.7 740.4 171.9C740.9 170.1 741.6 168.9 742.8 167.1C744 165.3 745.4 162.9 747.6 161.2C749.8 159.4 753.3 157.6 755.9 156.4C758.5 155.2 760.9 154.8 763.1 154C765.3 153.2 767.5 152.6 769.1 151.6C770.7 150.6 772.2 149.4 772.7 148C773.2 146.6 772.9 144.5 772.1 143.2C771.3 141.9 769.6 140.9 767.9 140.2C766.2 139.4 763.4 139.3 761.9 138.6C760.4 137.9 760 137.4 758.9 136C757.8 134.5 756.2 131.3 755.3 130C754.4 128.7 753 128.9 753.5 128.2C754 127.5 756.5 126.9 758.3 125.8C760.1 124.7 762.5 122.7 764.3 121.6C766.1 120.5 767.5 119.3 769.1 119.2C770.7 119.1 772.3 120.1 773.9 121C775.5 121.9 777.2 123.6 778.7 124.6C780.2 125.6 781.6 127 782.9 127C784.2 127 785.5 125.9 786.5 124.6C787.5 123.3 788.1 121.3 788.9 119.2C789.7 117.1 790.7 114.4 791.3 112C791.9 109.6 792.4 107.9 792.5 104.8C792.6 101.7 791.6 96.2 792 93.6C792.3 90.9 793.4 90 794.6 88.8C795.8 87.5 797.6 86.5 799.2 86.1C800.7 85.7 801.4 86.2 804 86.4C806.6 86.5 811.4 86.8 814.7 87C818.1 87.2 821.7 87.2 824.3 87.6C826.9 88 829 88.6 830.3 89.4C831.6 90.2 832.5 91.3 832.1 92.4C831.7 93.5 829.3 94.8 827.9 96C826.5 97.2 824.5 98.5 823.7 99.6C822.9 100.7 822.6 101.8 823.1 102.6C823.6 103.4 825.1 104.2 826.7 104.4C828.3 104.6 830.9 104.6 832.7 103.8C834.5 103 835.9 101.3 837.5 99.6C839.1 97.9 840.7 95.8 842.3 93.6C843.9 91.4 845.9 88.8 847.1 86.4C848.3 84 849 81.6 849.5 79.2C850 76.8 849.7 74 850.1 72C850.5 70 850.6 68.5 851.9 67.2C853.2 65.9 855.7 64.8 857.9 64.2C860.1 63.6 862.9 63.7 865.1 63.6C867.3 63.4 865.3 65.6 871.1 63.3C876.9 61.1 895.2 65.6 900 50C904.8 34.4 933.3 -16.7 900 -30C866.7 -43.3 733.3 -60 700 -30C666.7 0 700 112.2 700 150C700 187.8 699 188.5 699.9 197Z" fill="#46b6f8"/>
<path d="M389.8 209C396.2 211.3 386.4 214.9 384.8 218.9C383.1 222.9 381.6 228.9 379.8 232.9C378 236.9 375.8 239.6 373.8 242.9C371.8 246.2 369.8 250.4 367.8 252.9C365.8 255.4 363.5 255.7 361.8 257.9C360.2 260 360.5 264 357.8 265.8C355.2 267.7 347.8 279 345.8 268.8C343.9 258.7 338.5 214.9 345.8 205C353.2 195 383.3 206.6 389.8 209Z" fill="#46b6f8"/>
<path d="M397.7 256.9 L401.7 248.9 L409.7 244.9 L419.7 240.9 L433.7 240.9 L433.7 254.9 L409.7 260.9Z" fill="#2ba3fb"/>
<path d="M738 150.4C742.6 153.8 731.6 154 729.6 156.4C727.6 158.8 726.7 161.8 726 164.7C725.3 167.7 725.4 170.7 725.4 174.3C725.4 177.9 729.9 184.3 726 186.3C722.1 188.3 706 194.7 702 186.3C698 177.9 696 142 702 136C708 130 733.4 147 738 150.4Z" fill="#38aefa"/>
<path d="M757.1 114.4C767.5 116.2 760.7 112.4 761.9 110.8C763.1 109.2 765.1 107.1 764.3 104.8C763.5 102.5 757.4 98 757.2 97.2C757 96.3 761.8 98.2 763.2 99.6C764.6 101 765.2 103.4 765.6 105.6C766 107.8 764.8 110.7 765.6 112.7C766.4 114.7 768.4 116.5 770.4 117.5C772.4 118.5 775.6 119.1 777.6 118.7C779.6 118.3 781.3 116.9 782.4 115.1C783.5 113.3 783.8 110.4 784.2 108C784.6 105.6 784.4 102.9 784.8 100.8C785.2 98.7 785.8 97.6 786.6 95.4C787.4 93.2 788.3 89.7 789.6 87.6C790.9 85.5 792.6 84 794.4 82.8C796.2 81.6 797.8 80.7 800.4 80.4C803 80 806.8 80.4 810 80.6C813.1 80.9 816.7 81.2 819.5 81.8C822.3 82.5 824.3 83.7 826.7 84.6C829.1 85.4 831.7 86.9 833.9 87C836.1 87.1 838.1 86.3 839.9 85.2C841.7 84.1 843.5 82.4 844.7 80.4C845.9 78.4 846.5 75.4 847.1 73.2C847.7 71 847.3 69 848.3 67.2C849.3 65.4 851.5 63.8 853.1 62.4C854.7 61 856.3 59.6 857.9 58.8C859.5 58 860.5 57.9 862.7 57.6C864.9 57.3 864.9 59.9 871.1 57C877.3 54.1 895.2 54.5 900 40C904.8 25.5 933.3 -18.3 900 -30C866.7 -41.7 733.3 -51.7 700 -30C666.7 -8.3 690.5 75.9 700 100C709.5 124.1 746.8 112.6 757.1 114.4Z" fill="#38aefa"/>
<path d="M730 86C735.7 87.4 732.3 87 734 88.5C735.7 90 738 93.8 740 95C742 96.2 743.8 97.2 746 96C748.2 94.8 751 89.5 753 88C755 86.5 756 86.7 758 87C760 87.3 762.3 88.8 765 90C767.7 91.2 771.5 93.8 774 94.2C776.5 94.6 778.2 93.7 780 92.4C781.8 91.1 783.4 88.4 784.8 86.4C786.2 84.4 787.2 81.9 788.4 80.4C789.6 78.8 790 77.8 792 77C794 76.2 797.4 75.8 800.4 75.7C803.4 75.6 806.8 75.9 810 76.2C813.1 76.5 816.7 76.7 819.5 77.4C822.3 78.1 824.3 79.5 826.7 80.4C829.1 81.3 831.7 82.6 833.9 82.8C836.1 83 838.1 82.6 839.9 81.6C841.7 80.6 843.7 78.6 844.7 76.8C845.7 75 845.5 72.8 845.9 70.8C846.3 68.8 846.1 66.6 847.1 64.8C848.1 63 850.5 61.8 851.9 60C853.3 58.2 854.7 55.8 855.5 54C856.3 52.2 856.5 50.6 856.7 49.2C857 47.8 883.1 58.8 857 45.6C830.8 32.4 726.2 -35.7 700 -30C673.8 -24.3 695 60.7 700 80C705 99.3 724.3 84.6 730 86Z" fill="#2ba3fb"/>
<path d="M730 88.5C730.8 95.8 733.7 88.6 735 88.5C736.3 88.4 736.7 88.4 738 88C739.3 87.6 741.3 87 743 86C744.7 85 746.7 83.7 748 82C749.3 80.3 750.4 78.3 751 76C751.6 73.7 751.7 71 751.5 68C751.3 65 750.6 61 750 58C749.4 55 748.5 52.2 748 50C747.5 47.8 750 45.8 747 45C744 44.2 732.8 37.8 730 45C727.2 52.2 729.2 81.2 730 88.5Z" fill="#1a8ff9"/>
<path d="M772.2 45.6C759.9 46.2 772.1 47.6 772.2 49.2C772.3 50.8 772.5 53.2 772.8 55.2C773.1 57.2 773.2 59.6 774 61.2C774.8 62.8 776 64 777.6 64.8C779.2 65.6 781.4 65.6 783.6 66C785.8 66.4 788.4 66.4 790.8 67.2C793.2 68 796 69.7 798 70.8C800 71.9 800.4 73.3 802.8 73.8C805.2 74.3 809.4 74.2 812.4 73.8C815.3 73.4 818.1 72.3 820.7 71.4C823.3 70.5 825.3 69.7 827.9 68.4C830.5 67.1 833.9 65 836.3 63.6C838.7 62.2 840.9 61.6 842.3 60C843.7 58.4 844.1 55.8 844.7 54C845.3 52.2 845.7 50.6 845.9 49.2C846.2 47.8 858.5 46.2 846.2 45.6C833.9 45 784.5 45 772.2 45.6Z" fill="#1a8ff9"/>
<path d="M780 45.6C770.3 46.2 779.7 47.8 780 49.2C780.3 50.6 780.8 52.4 781.8 54C782.8 55.6 784.3 57.5 786 58.8C787.7 60.1 790 60.8 792 61.8C794 62.8 796.2 63.7 798 64.8C799.8 65.9 800.4 67.7 802.8 68.4C805.2 69.1 809.4 69.4 812.4 69C815.3 68.6 818.3 67.1 820.7 66C823.1 64.9 824.7 63.6 826.7 62.4C828.7 61.2 831.1 60.2 832.7 58.8C834.3 57.4 835.5 55.6 836.3 54C837.1 52.4 837.3 50.6 837.5 49.2C837.8 47.8 847.4 46.2 837.8 45.6C828.2 45 789.6 45 780 45.6Z" fill="#2272ec"/>
<path d="M787.2 45.6C781 46.2 786.8 48 787.2 49.2C787.6 50.4 788.2 51.6 789.6 52.8C791 54 793.4 55.5 795.6 56.4C797.8 57.3 800.4 57.8 802.8 58.2C805.2 58.6 807.6 59.1 810 58.6C812.4 58.1 815.1 56.4 817.1 55.2C819.1 54 820.8 52.6 821.9 51.6C823 50.6 823.4 50.2 823.7 49.2C824.1 48.2 830.2 46.2 824.1 45.6C818 45 793.3 45 787.2 45.6Z" fill="#2b5ed8"/>
<path d="M226.3 552.7C225.9 554.8 226.3 557.3 227.5 559.9C228.7 562.5 230.7 565.5 233.5 568.3C236.3 571.1 240.9 574.3 244.3 576.6C247.6 579 251.4 580.4 253.8 582.6C256.2 584.8 257.7 587.2 258.6 589.8C259.5 592.4 259.7 595.2 259.1 598.2C258.5 601.2 256.9 605 255 607.8C253.2 610.6 250.4 613.2 247.8 615C245.2 616.8 242.5 618.2 239.5 618.6C236.5 619 233.1 618.4 229.9 617.4C226.7 616.4 223.3 614.2 220.3 612.6C217.3 611 214.5 608.6 211.9 607.8C209.3 607 206.7 607 204.7 607.8C202.7 608.6 200.9 610.2 199.9 612.6C198.9 615 198.8 619.3 198.7 622.2C198.7 625 200.2 627.2 199.7 629.8C199.2 632.4 197.7 635.6 195.7 637.8C193.8 640 190.8 641.8 187.8 642.8C184.8 643.8 181.4 644 177.8 643.8C174.1 643.6 169.8 642.5 165.8 641.8C161.8 641.1 157.8 640.1 153.8 639.8C149.8 639.5 145.8 639.6 141.9 639.8C137.9 640 133.5 640.3 129.9 640.8C126.2 641.3 122.6 641.6 119.9 642.8C117.2 644 115.4 645.6 113.9 647.8C112.4 649.9 111.6 652.9 110.9 655.8C110.3 658.6 110.2 660.8 109.9 664.8C109.7 668.7 84.5 675.5 109.5 679.7C134.5 683.9 235.3 691.2 260 690C284.7 688.8 257.9 676.6 257.4 672.5C257 668.3 257.3 668.1 257.4 665.3C257.5 662.5 257.7 658.7 258.1 655.7C258.5 652.7 258.5 649.9 259.8 647.3C261.1 644.7 263.2 641.9 265.8 640.1C268.4 638.3 271.4 637.2 275.4 636.5C279.4 635.8 285.4 636.4 289.8 636C294.2 635.6 298.1 635.2 301.7 634.1C305.3 633 308.9 631.7 311.3 629.3C313.7 626.9 314.9 623.4 316.1 619.8C317.3 616.2 317.5 611.8 318.5 607.8C319.5 603.8 320.5 598.8 322.1 595.8C323.7 592.8 324.9 591.6 328.1 589.8C331.3 588 336.9 586.2 341.3 585C345.6 583.8 350.6 583.6 354.4 582.6C358.2 581.6 361 580.4 364 579C367 577.6 370.6 576.2 372.4 574.3C374.2 572.3 374.7 570.3 374.8 567.1C374.9 563.9 374.1 559.1 373.1 555.1C372.1 551.1 370.1 547.1 368.8 543.1C367.5 539.1 366.4 535.1 365.2 531.1C364 527.1 363 522.4 361.6 519.2C360.2 516 358.8 513.7 356.8 512C354.8 510.3 351.8 509.3 349.6 509.1C347.4 508.9 345.2 509.5 343.7 510.8C342.1 512.1 340.9 514.2 340.5 516.8C340.1 519.4 341.1 522.8 341.3 526.3C341.4 529.9 342.1 534.9 341.3 538.3C340.5 541.7 338.5 544.1 336.5 546.7C334.5 549.3 331.5 551.5 329.3 553.9C327.1 556.3 324.7 558.5 323.3 561.1C321.9 563.7 322.1 566.9 320.9 569.5C319.7 572.1 318.5 574.5 316.1 576.6C313.7 578.8 310.1 581.1 306.5 582.6C302.9 584.2 298.1 585.3 294.6 585.7C291 586.1 288.2 585.7 285 585C281.8 584.3 278.2 583.2 275.4 581.4C272.6 579.6 270.6 577 268.2 574.3C265.8 571.5 263.4 567.9 261 564.7C258.6 561.5 256.2 557.7 253.8 555.1C251.4 552.5 249.4 550.5 246.6 549.1C243.9 547.7 239.9 547 237.1 546.7C234.3 546.4 231.7 546.4 229.9 547.4C228.1 548.4 226.7 550.6 226.3 552.7Z" fill="#ffd65b"/>
<path d="M880 420C877.6 390.5 868.5 420.6 865.6 421C862.7 421.4 863.7 421.4 862.6 422.2C861.5 423 860.1 424.2 859 425.7C857.9 427.2 856.7 429.2 856 431.1C855.3 433 855 434.7 854.9 437.1C854.8 439.5 855.1 442.7 855.2 445.5C855.3 448.3 855.6 451.1 855.7 453.9C855.8 456.7 856.1 459.5 856 462.3C855.9 465.1 855.6 468.1 854.9 470.7C854.2 473.3 852.8 475.6 851.9 477.8C851 480 850.6 481.3 849.5 483.8C848.4 486.3 846.4 490.1 845 493C843.6 495.9 842.2 498.7 841 501.5C839.8 504.3 838.5 507.6 837.5 510C836.5 512.4 835.6 513.8 835.1 516C834.6 518.2 834.9 520.8 834.5 523.2C834.1 525.6 833.8 528 832.7 530.4C831.6 532.8 829.9 535.1 827.9 537.5C825.9 539.9 823.3 542.5 820.7 544.7C818.1 546.9 815.1 549 812.3 550.7C809.5 552.4 806.8 553.7 804 554.9C801.2 556.1 798.4 556.8 795.6 557.9C792.8 559 789.8 560.1 787.2 561.5C784.6 562.9 781.7 564.4 780 566C778.3 567.6 777.3 569.2 777 571C776.7 572.8 776.9 575.5 778 577C779.1 578.5 782 579.5 783.5 580C785 580.5 785.2 580.6 787.2 580.1C789.2 579.6 792.8 578 795.6 577.1C798.4 576.2 801 575.4 804 574.7C807 574 810.3 573.3 813.5 572.9C816.7 572.5 820.3 572.2 823.1 572.3C825.9 572.4 828.1 572.7 830.3 573.5C832.5 574.3 834.8 575.5 836.3 577.1C837.8 578.7 838.6 581.1 839.3 583.1C840 585.1 840 587 840.5 589C841 591 841.1 592.5 842 595C842.9 597.5 843.7 602.1 846 604C848.3 605.9 852.8 606.9 856 606.5C859.2 606.1 861.5 602.9 865.5 601.5C869.5 600.1 877.6 628.2 880 598C882.4 567.8 882.4 449.5 880 420Z" fill="#ffd65b"/>
<path d="M880 505C876.1 493.8 860.3 508 856.6 510C852.9 512 857.8 514.6 857.8 517.2C857.8 519.8 857.6 523.2 856.6 525.6C855.6 528 853.9 530.2 851.9 531.6C849.9 533 846.9 533.4 844.7 534C842.5 534.6 840.2 534.1 838.7 535.1C837.2 536.1 835.9 538.1 835.7 539.9C835.5 541.7 836.4 544.1 837.5 545.9C838.6 547.7 841.1 548.7 842.3 550.7C843.5 552.7 844.5 555.3 844.7 557.9C844.9 560.5 843.5 563.7 843.5 566.3C843.5 568.9 843.7 571.5 844.7 573.5C845.7 575.5 847.3 577.3 849.5 578.3C851.7 579.3 855.1 579.5 857.8 579.5C860.5 579.5 861.9 578.7 865.6 578.3C869.3 577.9 877.6 589.2 880 577C882.4 564.8 883.9 516.2 880 505Z" fill="#ffe262"/>
<path d="M658 423C659.2 422 662.2 421.5 664 422C665.8 422.5 668 424.3 669 426C670 427.7 670.5 430.3 670 432C669.5 433.7 667.5 435.7 666 436C664.5 436.3 662.5 435.3 661 434C659.5 432.7 657.5 429.8 657 428C656.5 426.2 656.8 424 658 423Z" fill="#ffd65b"/>
<path d="M664.5 232.5C663.9 233.1 665.6 235.4 666.5 236.5C667.4 237.6 668.6 238.3 670 239C671.4 239.7 673.3 240.2 675 240.5C676.7 240.8 678.7 241.2 680 241C681.3 240.8 682.7 240.2 683 239C683.3 237.8 682.8 236 682 234C681.2 232 679 228.7 678 227C677 225.3 676.7 223.5 676 224C675.3 224.5 675 228.5 674 230C673 231.5 671.6 232.6 670 233C668.4 233.4 665.1 231.9 664.5 232.5Z" fill="#5ccdfa"/>
<path d="M592.4 207.2C593.7 206.9 595.3 209.2 596.6 210.2C597.9 211.2 599.2 211.9 600.2 213.2C601.2 214.5 602.1 216.2 602.6 218C603.1 219.8 603.3 221.6 603.2 224C603.1 226.4 602.6 229.8 602 232.4C601.4 235 600.8 237.5 599.6 239.6C598.4 241.7 596.4 243.7 594.8 245C593.2 246.3 591.4 248.9 590 247.4C588.6 245.9 586.6 241.9 586.4 236C586.2 230.1 587.8 216.8 588.8 212C589.8 207.2 591.1 207.5 592.4 207.2Z" fill="#5ccdfa"/>
<path d="M68 521C68.3 520.8 68.3 521 70 519.8C71.7 518.6 74.7 515.4 78 513.8C81.3 512.1 85.6 511.1 90 509.8C94.3 508.4 99.9 507.8 103.9 505.8C107.9 503.8 110.9 500.1 113.9 497.8C116.9 495.5 118.9 493.2 121.9 491.8C124.9 490.4 128.2 489.8 131.9 489.4C135.5 489 140.2 489 143.9 489.4C147.5 489.9 151.5 490.7 153.8 492.2C156.2 493.8 157.1 496.2 157.8 498.8C158.6 501.4 158.9 505.1 158.2 507.8C157.6 510.4 155.7 512.8 153.8 514.8C151.9 516.8 148.4 517.3 146.8 519.8C145.2 522.3 144.8 526.2 144.3 529.7C143.7 533.3 143.7 538.1 143.5 540.9C143.2 543.8 143.8 544.9 142.9 546.8C141.9 548.8 140.4 551.3 137.9 552.8C135.4 554.3 131.9 555.2 127.9 555.8C123.9 556.4 118.6 555.9 113.9 556.4C109.3 556.9 104.6 557.4 99.9 558.8C95.3 560.2 90 562.5 86 564.8C82 567.1 78.6 570.3 76 572.8C73.3 575.3 71.3 578.4 70 579.8C68.7 581.2 68.3 580.9 68 581.2" fill="none" stroke="#000" stroke-width="1.35"/>
<path d="M242.5 461.5C244.2 456.9 249.6 448.2 255 444C260.4 439.8 268.3 440.2 275 436.5C281.7 432.8 288.3 424.6 295 421.5C301.7 418.4 309.2 417.6 315 418C320.8 418.4 325 421.3 330 424C335 426.7 338.3 431.1 345 434C351.7 436.9 361.7 438.6 370 441.5C378.3 444.4 389.3 447.3 395 451.5C400.7 455.7 402.8 460.2 404 466.5C405.2 472.8 404.4 482.8 402.5 489C400.6 495.2 396.7 501.1 392.5 504C388.3 506.9 382.1 507.8 377.5 506.5C372.9 505.2 368.3 500.7 365 496.5C361.7 492.3 360.8 485 357.5 481.5C354.2 478 350.4 476.3 345 475.5C339.6 474.7 331.7 475.9 325 476.5C318.3 477.1 310.8 476.9 305 479C299.2 481.1 294.2 484.8 290 489C285.8 493.2 283.8 500.8 280 504C276.2 507.2 271.2 508.8 267.5 508C263.8 507.2 259.6 503.8 257.5 499C255.4 494.2 257.1 483.6 255 479C252.9 474.4 247.1 474.4 245 471.5C242.9 468.6 240.8 466.1 242.5 461.5Z" fill="none" stroke="#000" stroke-width="1.35"/>
<path d="M68 489.4C68.3 489.3 68 490.1 70 488.8C72 487.6 76.7 483.3 80 481.8C83.3 480.3 86.6 480 90 479.8C93.3 479.7 96.6 481 99.9 480.8C103.3 480.7 106.9 480 109.9 478.8C112.9 477.7 115.2 476 117.9 473.9C120.6 471.7 123.9 468.9 125.9 465.9C127.9 462.9 129.4 459.2 129.9 455.9C130.4 452.6 130 448.9 128.9 445.9C127.7 442.9 125.4 440.1 122.9 437.9C120.4 435.8 117.1 434.4 113.9 432.9C110.8 431.4 106.8 430.4 103.9 428.9C101.1 427.4 98.4 425.8 96.9 424C95.4 422.1 94.8 420 95 418C95.1 416 96.3 413.4 97.9 412C99.6 410.6 102.6 409.4 104.9 409.6C107.3 409.7 109.4 411.2 111.9 413C114.4 414.7 116.9 417.8 119.9 420C122.9 422.1 126.6 424.1 129.9 425.9C133.2 427.8 136.5 429.9 139.9 430.9C143.2 431.9 146.2 431.9 149.8 431.9C153.5 431.9 158.5 431.6 161.8 430.9C165.1 430.3 167.5 429.1 169.8 427.9C172.1 426.8 173.1 425.1 175.8 424C178.4 422.8 181.8 421.8 185.8 421C189.8 420.1 195.1 419.6 199.7 419C204.4 418.3 208.7 417.6 213.7 417C218.7 416.3 224.4 415.6 229.7 415C235 414.3 240.7 413.8 245.6 413C250.6 412.1 255.6 411.2 259.6 410C263.7 408.8 264.9 407.2 270 405.8C275.1 404.5 283.3 403.2 290 401.9C296.6 400.5 303.3 399 309.9 397.9C316.6 396.7 323.9 395.2 329.9 394.9C335.9 394.5 340.5 395 345.8 395.9C351.2 396.7 356.5 398.4 361.8 399.9C367.1 401.4 371.8 403.4 377.8 404.9C383.8 406.3 392.4 407.3 397.7 408.8C403.1 410.3 405.7 412 409.7 413.8C413.7 415.7 418 418.2 421.7 419.8C425.4 421.5 429.1 423.4 431.7 423.8C434.4 424.1 435.7 422.9 437.7 421.8C439.7 420.7 441.4 418.3 443.7 417.2C446 416 449 415 451.7 415C454.4 414.9 456.5 416.6 459.9 416.8C463.2 416.9 467.9 416.6 471.9 415.8C475.8 414.9 479.8 413.3 483.8 411.8C487.8 410.3 491.8 408.6 495.8 406.8C499.8 405 503.8 403 507.8 400.8C511.8 398.6 516.1 396.3 519.8 393.8C523.4 391.3 526.4 388.8 529.7 385.8C533.1 382.8 536.4 379.2 539.7 375.8C543 372.5 546.7 369.2 549.7 365.9C552.7 362.5 555.7 359.2 557.7 355.9C559.7 352.6 561.3 349.2 561.7 345.9C562 342.6 560.7 338.9 559.7 335.9C558.7 332.9 556.9 330.6 555.7 327.9C554.5 325.3 552.7 322.6 552.7 320C552.7 317.3 553.9 314.3 555.7 312C557.5 309.6 560.7 307.7 563.7 306C566.7 304.3 572.6 303.2 573.7 302C574.7 300.8 568.6 299.2 570 298.9C571.4 298.5 578 299.5 582 299.9C586 300.2 590 300.5 594 300.9C597.9 301.2 602.3 301.9 605.9 301.9C609.6 301.9 613.1 301.9 615.9 300.9C618.7 299.9 620.9 298.2 622.9 295.9C624.9 293.5 626.1 289.7 627.9 286.9C629.7 284.1 631.5 281.1 633.9 278.9C636.2 276.7 639.2 274.9 641.9 273.9C644.5 272.9 647.2 272.4 649.8 272.9C652.5 273.4 655.2 275.2 657.8 276.9C660.5 278.6 663.1 281.1 665.8 282.9C668.5 284.7 671.1 286.6 673.8 287.9C676.5 289.2 678.4 290 681.8 290.9C685.1 291.7 689.8 291.9 693.8 292.9C697.7 293.9 701.7 295.2 705.7 296.9C709.7 298.5 713.7 301 717.7 302.9C721.7 304.7 725.7 306.7 729.7 307.8C733.7 309 737.3 309.4 741.7 309.8C746 310.2 751 310.1 755.6 310.2C760.3 310.4 764.6 310.2 769.6 310.8C774.6 311.5 780.7 313.5 785.8 314.3C790.8 315.2 796.1 316 799.7 315.7C803.4 315.5 805.7 314.6 807.7 312.8C809.8 310.9 811 308.1 812.1 304.8C813.3 301.4 814.1 297.1 814.7 292.8C815.3 288.5 815.6 283.5 815.7 278.8C815.8 274.2 815.8 269.8 815.3 264.8C814.8 259.9 813.7 253.9 812.7 248.9C811.7 243.9 810 239.6 809.1 234.9C808.2 230.3 807.3 225.6 807.3 220.9C807.3 216.3 808.1 211 809.1 207C810.2 203 812.1 200 813.7 197C815.3 194 816.2 193.4 818.7 189C821.3 184.6 826.8 174.4 829 170.6C831.2 166.8 830.8 167.6 832 166C833.2 164.4 834.7 162.7 836 161C837.3 159.3 838.5 157.7 840 156C841.5 154.3 843.3 152.5 845 151C846.7 149.5 848.3 148.1 850 147C851.7 145.9 853.3 145.1 855 144.5C856.7 143.9 858.2 143.6 860 143.2C861.8 142.8 864.2 142.3 866 142C867.8 141.7 870.2 141.3 871 141.2" fill="none" stroke="#101010" stroke-opacity=".92" stroke-width=".75"/>
<path d="M294.8 386.4C295.2 385.9 296.2 384.2 297.2 383.4C298.2 382.6 299 382 300.8 381.6C302.6 381.2 305.2 381.3 308 381C310.8 380.7 314.6 380.4 317.6 379.8C320.6 379.2 323.6 378.5 326 377.4C328.4 376.3 330.4 374.7 332 373.2C333.6 371.7 334.2 370 335.6 368.4C337 366.8 338.6 365 340.4 363.6C342.2 362.2 344.2 360.9 346.4 360C348.6 359.1 351.2 358.4 353.5 358.2C355.9 357.9 358.5 358 360.7 358.4C362.9 358.8 364.9 359.5 366.7 360.6C368.5 361.6 370.1 363.1 371.5 364.8C372.9 366.5 374.1 368.6 375.1 370.8C376.1 373 376.5 375.8 377.5 378C378.5 380.2 379.7 382.2 381.1 384C382.5 385.8 383.9 387.2 385.9 388.8C387.9 390.4 390.7 392 393.1 393.5C395.5 395.1 397.5 396.7 400.3 398.3C403.1 399.9 406 401.2 409.9 403.1C413.8 405 419.6 408.7 424 409.8C428.3 410.8 431.9 409.6 435.9 409.4C439.9 409.1 443.9 407.9 447.9 408.2C451.9 408.5 455.9 411 459.9 411.4C463.9 411.7 467.9 411.3 471.9 410.4C475.8 409.4 479.8 407.5 483.8 405.8C487.8 404.1 491.8 402.3 495.8 400.4C499.8 398.5 504.1 396.6 507.8 394.4C511.4 392.2 514.4 390.1 517.8 387.4C521.1 384.8 524.4 381.4 527.7 378.4C531.1 375.4 534.4 372.6 537.7 369.5C541.1 366.3 544.9 362.7 547.7 359.5C550.5 356.2 553.2 352.7 554.7 349.9C556.2 347.1 556.7 344.9 556.7 342.9C556.7 340.9 556 339.1 554.7 337.9C553.4 336.8 551.2 336.1 548.7 335.9C546.2 335.8 542.9 336.3 539.7 336.9C536.6 337.6 533.1 338.9 529.7 339.9C526.4 341 523.1 342.8 519.8 343.3C516.4 343.8 513.1 342.6 509.8 342.9C506.5 343.2 502.8 343.7 499.8 344.9C496.8 346.1 494.5 348.1 491.8 349.9C489.2 351.7 486.5 354.3 483.8 355.9C481.2 357.5 478.5 358.9 475.8 359.3C473.2 359.6 470 359 467.9 357.9C465.7 356.7 463.4 354.1 462.9 352.3C462.4 350.5 463 349 464.9 346.9C466.7 344.8 470.7 341.9 473.9 339.9C477 337.9 480.5 336.4 483.8 334.9C487.2 333.4 490.2 332.4 493.8 330.9C497.5 329.4 501.8 327.3 505.8 325.9C509.8 324.6 514.1 323.5 517.8 323C521.4 322.5 524.8 323.5 527.7 323C530.7 322.5 533.7 321.7 535.7 320C537.7 318.2 537.9 314.9 539.7 312.4C541.5 309.8 544.4 306.4 546.4 304.7C548.3 303.1 549.2 302.9 551.2 302.3C553.1 301.7 556.1 301.8 558.3 301.1C560.5 300.4 562.9 299.4 564.3 298.1C565.7 296.8 566.4 294.9 566.7 293.3C567 291.7 566.7 290.1 566.1 288.5C565.5 287 565 285 563.1 283.8C561.2 282.5 557.9 281.5 554.7 281.1C551.6 280.7 546.4 281.7 544 281.4C541.6 281 541.8 279.7 540.4 279C539 278.3 537.4 278 535.6 277.2C533.8 276.4 531.1 275.5 529.6 274.2C528.1 272.9 527 271.2 526.6 269.4C526.2 267.6 526.7 265.6 527.2 263.4C527.7 261.2 529 258.6 529.6 256.2C530.2 253.8 530.2 251.2 530.8 249C531.4 246.8 532 244.8 533.2 243C534.4 241.2 536.4 239.5 538 238.2C539.6 236.9 541.6 235.8 542.8 235.2C544 234.6 544.6 233.9 545.2 234.6C545.8 235.3 545.8 237.6 546.4 239.4C547 241.2 547.8 243.4 548.8 245.4C549.8 247.4 551.4 249.4 552.4 251.4C553.3 253.4 553.7 255.6 554.7 257.4C555.7 259.2 556.9 260.8 558.3 262.2C559.7 263.6 561.3 264.7 563.1 265.8C564.9 266.9 567.1 268 569.1 268.8C571.1 269.6 573.5 269.9 575.1 270.6C576.7 271.3 577.5 271.6 578.7 273C579.9 274.4 580.5 276.8 582.3 279C584.1 281.2 587.3 284.2 589.5 286.2C591.7 288.1 593.5 289.3 595.5 290.9C597.5 292.5 599.9 294.5 601.5 295.7C603.1 296.9 604 297.6 605.1 298.1C606.2 298.7 606.7 299.3 607.9 298.9C609.1 298.4 611.3 298.4 612.3 295.5C613.3 292.6 613.5 285.1 614 281.5C614.5 278 614.7 276.7 615.2 274.3C615.7 271.9 616.4 269.5 617 267.1C617.6 264.7 618.6 262.2 618.8 260C619 257.8 618.4 256 618.2 254C618 252 617.8 250.2 617.6 248C617.4 245.8 616.9 243.2 617 240.8C617.1 238.4 617.5 235.8 618.2 233.6C618.9 231.4 619.9 229.3 621.2 227.6C622.5 225.9 624.2 224.4 626 223.4C627.8 222.4 630.3 221.5 632 221.6C633.7 221.7 635.3 222.6 636.2 224C637.1 225.4 637.5 228 637.4 230C637.3 232 636.3 234 635.6 236C634.9 238 633 240 633.2 242C633.4 244 635.4 246.2 636.8 248C638.2 249.8 640 251 641.6 252.8C643.2 254.6 644.8 256.8 646.4 258.8C648 260.8 649.4 262.7 651.2 264.7C652.9 266.7 654.9 269.1 657.1 270.7C659.3 272.3 661.9 273.3 664.3 274.3C666.7 275.3 669.1 276.2 671.5 276.7C673.9 277.2 676.4 277.6 678.7 277.3C681.1 277 683.3 275.6 685.8 274.9C688.3 274.2 691.4 272.7 693.8 272.9C696.1 273.1 698.1 274.1 699.7 275.9C701.4 277.7 702.1 281.2 703.7 283.9C705.4 286.6 707.1 289.5 709.7 291.9C712.4 294.2 716.4 296 719.7 297.9C723 299.7 726.2 301.6 729.7 302.9C733.2 304.1 736.7 304.6 740.7 305.4C744.7 306.3 748.8 307.6 753.6 307.8C758.5 308.1 764.9 306.3 769.6 306.8C774.3 307.4 777.8 310.3 781.8 311.2C785.8 312 790.4 312.2 793.8 311.8C797.1 311.4 799.8 310.4 802.1 308.8C804.5 307.1 806.4 304.8 807.7 301.8C809.1 298.8 809.6 295 810.1 290.8C810.6 286.6 810.8 281.5 810.7 276.8C810.7 272.2 810.4 267.5 809.7 262.9C809.1 258.2 807.8 253.5 806.7 248.9C805.6 244.2 804.4 239 803.1 234.9C801.9 230.8 800.1 227.7 799.2 224.3C798.2 221 797.6 218.1 797.4 214.7C797.2 211.4 797.1 207.6 798 204C798.9 200.4 801.2 196.4 802.8 193.2C804.4 190 806.2 187.6 807.6 184.8C809 182 809.4 179.2 811.2 176.4C812.9 173.6 815.9 170.6 818.3 168C820.7 165.4 823.1 163.2 825.5 160.8C827.9 158.4 830.9 155.4 832.7 153.6C834.5 151.8 835.7 151.2 836.3 150C837 148.8 835.8 147.6 836.6 146.2C837.5 144.7 839.8 142.7 841.4 141.4C843.1 140 844.4 139 846.3 138.1C848.1 137.3 850.6 136.7 852.7 136.1C854.8 135.5 857 135 859.1 134.5C861.3 134 863.6 133.6 865.6 133.3C867.6 133 870.3 132.9 871.2 132.8" fill="none" stroke="#101010" stroke-opacity=".92" stroke-width=".75"/>
<path d="M226.3 552.7C226.5 553.9 226.3 557.3 227.5 559.9C228.7 562.5 230.7 565.5 233.5 568.3C236.3 571.1 240.9 574.3 244.3 576.6C247.6 579 251.4 580.4 253.8 582.6C256.2 584.8 257.7 587.2 258.6 589.8C259.5 592.4 259.7 595.2 259.1 598.2C258.5 601.2 256.9 605 255 607.8C253.2 610.6 250.4 613.2 247.8 615C245.2 616.8 242.5 618.2 239.5 618.6C236.5 619 233.1 618.4 229.9 617.4C226.7 616.4 223.3 614.2 220.3 612.6C217.3 611 214.5 608.6 211.9 607.8C209.3 607 206.7 607 204.7 607.8C202.7 608.6 200.9 610.2 199.9 612.6C198.9 615 198.8 619.3 198.7 622.2C198.7 625 200.2 627.2 199.7 629.8C199.2 632.4 197.7 635.6 195.7 637.8C193.8 640 190.8 641.8 187.8 642.8C184.8 643.8 181.4 644 177.8 643.8C174.1 643.6 169.8 642.5 165.8 641.8C161.8 641.1 157.8 640.1 153.8 639.8C149.8 639.5 145.8 639.6 141.9 639.8C137.9 640 133.5 640.3 129.9 640.8C126.2 641.3 122.6 641.6 119.9 642.8C117.2 644 115.4 645.6 113.9 647.8C112.4 649.9 111.6 652.9 110.9 655.8C110.3 658.6 110.1 663.3 109.9 664.8" fill="none" stroke="#101010" stroke-opacity=".92" stroke-width=".75"/>
<path d="M257.4 672.5C257.4 671.3 257.3 668.1 257.4 665.3C257.5 662.5 257.7 658.7 258.1 655.7C258.5 652.7 258.5 649.9 259.8 647.3C261.1 644.7 263.2 641.9 265.8 640.1C268.4 638.3 271.4 637.2 275.4 636.5C279.4 635.8 285.4 636.4 289.8 636C294.2 635.6 298.1 635.2 301.7 634.1C305.3 633 308.9 631.7 311.3 629.3C313.7 626.9 314.9 623.4 316.1 619.8C317.3 616.2 317.5 611.8 318.5 607.8C319.5 603.8 320.5 598.8 322.1 595.8C323.7 592.8 324.9 591.6 328.1 589.8C331.3 588 336.9 586.2 341.3 585C345.6 583.8 350.6 583.6 354.4 582.6C358.2 581.6 361 580.4 364 579C367 577.6 370.6 576.2 372.4 574.3C374.2 572.3 374.7 570.3 374.8 567.1C374.9 563.9 374.1 559.1 373.1 555.1C372.1 551.1 370.1 547.1 368.8 543.1C367.5 539.1 366.4 535.1 365.2 531.1C364 527.1 363 522.4 361.6 519.2C360.2 516 358.8 513.7 356.8 512C354.8 510.3 351.8 509.3 349.6 509.1C347.4 508.9 345.2 509.5 343.7 510.8C342.1 512.1 340.9 514.2 340.5 516.8C340.1 519.4 341.1 522.8 341.3 526.3C341.4 529.9 342.1 534.9 341.3 538.3C340.5 541.7 338.5 544.1 336.5 546.7C334.5 549.3 331.5 551.5 329.3 553.9C327.1 556.3 324.7 558.5 323.3 561.1C321.9 563.7 322.1 566.9 320.9 569.5C319.7 572.1 318.5 574.5 316.1 576.6C313.7 578.8 310.1 581.1 306.5 582.6C302.9 584.2 298.1 585.3 294.6 585.7C291 586.1 288.2 585.7 285 585C281.8 584.3 278.2 583.2 275.4 581.4C272.6 579.6 270.6 577 268.2 574.3C265.8 571.5 263.4 567.9 261 564.7C258.6 561.5 256.2 557.7 253.8 555.1C251.4 552.5 249.4 550.5 246.6 549.1C243.9 547.7 239.9 547 237.1 546.7C234.3 546.4 231.1 547.3 229.9 547.4" fill="none" stroke="#101010" stroke-opacity=".92" stroke-width=".75"/>
<path d="M865.6 421C865.1 421.2 863.7 421.4 862.6 422.2C861.5 423 860.1 424.2 859 425.7C857.9 427.2 856.7 429.2 856 431.1C855.3 433 855 434.7 854.9 437.1C854.8 439.5 855.1 442.7 855.2 445.5C855.3 448.3 855.6 451.1 855.7 453.9C855.8 456.7 856.1 459.5 856 462.3C855.9 465.1 855.6 468.1 854.9 470.7C854.2 473.3 852.8 475.6 851.9 477.8C851 480 850.6 481.3 849.5 483.8C848.4 486.3 846.4 490.1 845 493C843.6 495.9 842.2 498.7 841 501.5C839.8 504.3 838.5 507.6 837.5 510C836.5 512.4 835.6 513.8 835.1 516C834.6 518.2 834.9 520.8 834.5 523.2C834.1 525.6 833.8 528 832.7 530.4C831.6 532.8 829.9 535.1 827.9 537.5C825.9 539.9 823.3 542.5 820.7 544.7C818.1 546.9 815.1 549 812.3 550.7C809.5 552.4 806.8 553.7 804 554.9C801.2 556.1 798.4 556.8 795.6 557.9C792.8 559 789.8 560.1 787.2 561.5C784.6 562.9 781.7 564.4 780 566C778.3 567.6 777.3 569.2 777 571C776.7 572.8 776.9 575.5 778 577C779.1 578.5 782 579.5 783.5 580C785 580.5 785.2 580.6 787.2 580.1C789.2 579.6 792.8 578 795.6 577.1C798.4 576.2 801 575.4 804 574.7C807 574 810.3 573.3 813.5 572.9C816.7 572.5 820.3 572.2 823.1 572.3C825.9 572.4 828.1 572.7 830.3 573.5C832.5 574.3 834.8 575.5 836.3 577.1C837.8 578.7 838.6 581.1 839.3 583.1C840 585.1 840 587 840.5 589C841 591 841.1 592.5 842 595C842.9 597.5 843.7 602.1 846 604C848.3 605.9 852.8 606.9 856 606.5C859.2 606.1 863.9 602.3 865.5 601.5" fill="none" stroke="#101010" stroke-opacity=".92" stroke-width=".75"/>
<path d="M856.6 510C856.8 511.2 857.8 514.6 857.8 517.2C857.8 519.8 857.6 523.2 856.6 525.6C855.6 528 853.9 530.2 851.9 531.6C849.9 533 846.9 533.4 844.7 534C842.5 534.6 840.2 534.1 838.7 535.1C837.2 536.1 835.9 538.1 835.7 539.9C835.5 541.7 836.4 544.1 837.5 545.9C838.6 547.7 841.1 548.7 842.3 550.7C843.5 552.7 844.5 555.3 844.7 557.9C844.9 560.5 843.5 563.7 843.5 566.3C843.5 568.9 843.7 571.5 844.7 573.5C845.7 575.5 847.3 577.3 849.5 578.3C851.7 579.3 855.1 579.5 857.8 579.5C860.5 579.5 864.3 578.5 865.6 578.3" fill="none" stroke="#3a3a2a" stroke-opacity=".55" stroke-width=".5" stroke-dasharray="3 2"/>
<path d="M132 412.4C132.6 412 133.6 410.5 135.6 410C137.6 409.5 141.2 409.9 144 409.4C146.8 408.9 150.2 408 152.4 407C154.6 406 155.8 404.2 157.2 403.4C158.6 402.6 159.6 402.1 160.8 402.2C162 402.3 163 403.9 164.4 404C165.8 404.1 167.8 404.2 169.2 402.8C170.6 401.4 172.6 397.6 172.8 395.6C173 393.6 171.2 392.6 170.4 390.8C169.6 389 168.5 386.8 168 384.8C167.5 382.8 167.2 380.4 167.4 378.8C167.6 377.2 168.3 376.2 169.2 375.2C170.1 374.2 171 374 172.8 372.8C174.6 371.6 177.6 369.2 180 368C182.4 366.8 185.1 366.8 187.1 365.6C189.1 364.4 190.6 363 191.9 360.8C193.3 358.6 193.8 354.4 195.2 352.4C196.5 350.3 198 349.9 200 348.8C202 347.7 205.1 346.5 207.1 345.8C209.1 345.1 210.3 344.9 211.9 344.6C213.5 344.3 212.7 344.1 216.7 344C220.7 343.9 232.7 344 235.9 344" fill="none" stroke="#101010" stroke-opacity=".92" stroke-width=".75"/>
<path d="M134.4 406.4C134.8 405.9 135 404.5 136.8 403.7C138.6 403 142.5 402.5 145.2 401.8C147.8 401.1 150.7 400.5 152.6 399.4C154.5 398.3 155.5 396.6 156.6 395.1C157.6 393.6 158.1 391.9 159.1 390.3C160.1 388.7 161.6 387.1 162.7 385.5C163.7 383.9 164.3 382 165.3 380.5C166.3 378.9 167.2 377.9 168.6 376.4C169.9 374.9 171.4 373.1 173.4 371.6C175.4 370.1 178.4 368.9 180.6 367.4C182.7 365.9 184.9 364.2 186.5 362.6C188.1 361 189.1 359.6 190.1 357.8C191.2 356 191.5 353.4 192.8 351.8C194 350.1 195.8 349.3 197.6 348.2C199.4 347.1 201.6 346.1 203.5 345.2C205.5 344.2 207.7 343.4 209.5 342.5C211.3 341.6 212.9 340.6 214.3 339.8C215.7 338.9 217 338 217.9 337.4C218.8 336.8 216.7 336.4 219.7 336.2C222.7 336 233.2 336.2 235.9 336.2" fill="none" stroke="#3a3a2a" stroke-opacity=".55" stroke-width=".5" stroke-dasharray="3 2"/>
<path d="M136.8 402.8C138 402.4 141.6 401.2 144 400.4C146.4 399.6 149.4 399 151.2 398C153 397 153.8 396 154.8 394.4C155.8 392.8 156.2 390.4 157.2 388.4C158.2 386.4 160 384.3 160.8 382.4C161.6 380.5 161.2 378.6 162 377C162.8 375.4 164 374.3 165.6 372.8C167.2 371.3 169.6 369.5 171.6 368C173.6 366.5 175.8 365.1 177.6 363.8C179.4 362.5 180.8 361.6 182.4 360.2C183.9 358.8 186.2 357.3 187.1 355.4C188.1 353.5 187.2 350.7 188 348.8C188.7 346.8 190.2 345.4 191.6 344C193 342.6 194.6 341.5 196.4 340.4C198.2 339.3 200.6 338.6 202.4 337.4C204.1 336.2 205.5 334.5 207.1 333.2C208.7 331.9 210.3 330.6 211.9 329.6C213.5 328.6 214.9 327.8 216.7 327.2C218.5 326.6 219.5 326.2 222.7 326C225.9 325.8 233.7 326 235.9 326" fill="none" stroke="#101010" stroke-opacity=".92" stroke-width=".75"/>
<path d="M164 344C167.4 343.2 180.4 341.2 184.4 339.2C188.4 337.2 186.6 334 188 332C189.4 330 191 328.7 192.8 327.2C194.6 325.7 196.8 324.3 198.8 323C200.8 321.7 202.7 320.6 204.7 319.4C206.7 318.2 209.1 317.1 210.7 315.8C212.3 314.5 212.9 312.7 214.3 311.6C215.7 310.5 217.5 309.8 219.1 309.2C220.7 308.6 221.1 308.2 223.9 308C226.7 307.8 233.9 308 235.9 308" fill="none" stroke="#101010" stroke-opacity=".92" stroke-width=".75"/>
<path d="M164 336.8C166 336 173 333.2 176 332C179 330.8 180 330.8 182 329.6C184 328.4 186 326.2 188 324.8C190 323.3 192 322.1 194 320.9C196 319.7 198 318.8 200 317.6C202 316.3 204.1 314.9 205.9 313.4C207.7 311.9 208.9 310 210.7 308.6C212.5 307.2 212.5 305.8 216.7 305C220.9 304.2 232.7 304 235.9 303.8" fill="none" stroke="#3a3a2a" stroke-opacity=".55" stroke-width=".5" stroke-dasharray="3 2"/>
<path d="M503.7 306.8C503.4 305.3 504.1 303.2 505.7 301.9C507.4 300.5 510.7 299.5 513.7 298.9C516.7 298.2 521.2 297.5 523.7 297.9C526.2 298.2 528.3 299.4 528.7 300.9C529 302.4 527.9 305.3 525.7 306.8C523.5 308.3 518.7 309.2 515.7 309.8C512.7 310.5 509.7 311.3 507.7 310.8C505.7 310.3 504.1 308.3 503.7 306.8Z" fill="none" stroke="#101010" stroke-opacity=".92" stroke-width=".75"/>
<path d="M297.2 369.6C297.8 369.2 299.4 368 300.8 367.2C302.2 366.4 302.4 365.7 305.6 364.8C308.8 363.9 316 363.1 320 361.8C324 360.5 326.6 358.7 329.6 357C332.6 355.3 334.6 353.1 338 351.6C341.4 350.1 346.4 349 350 348C353.5 347 356.7 345.6 359.5 345.6C362.3 345.6 364.3 346.6 366.7 348C369.1 349.4 371.7 351.4 373.9 354C376.1 356.6 377.3 360.8 379.9 363.6C382.5 366.4 386.5 369 389.5 370.8C392.5 372.6 394.5 373.2 397.9 374.4C401.3 375.6 408.2 375.7 409.9 378C411.6 380.2 407 384.8 408 387.8C409 390.8 413 393.8 416 395.8C419 397.8 422.3 399.1 425.9 399.8C429.6 400.5 434.4 400.6 437.9 399.8C441.4 399 444.9 397.1 446.9 394.8C448.9 392.5 449.6 389 449.9 385.8C450.2 382.7 449.7 378.8 448.9 375.8C448.1 372.9 446.7 370.2 444.9 367.9C443.1 365.5 440.1 363.5 437.9 361.9C435.8 360.2 433.9 359.5 431.9 357.9C429.9 356.2 426.8 354.2 425.9 351.9C425.1 349.6 425.9 346.1 426.9 343.9C427.9 341.7 429.8 340.1 431.9 338.9C434.1 337.8 437.3 337.8 439.9 336.9C442.6 336.1 445.6 335.4 447.9 333.9C450.2 332.4 452.4 330.3 453.9 327.9C455.4 325.6 456.2 322.6 456.9 320C457.6 317.3 457.7 313 457.9 312C458 311 457.2 314.9 457.8 313.8C458.5 312.8 459.8 308 461.8 305.8C463.8 303.7 467.1 302.4 469.8 300.9C472.5 299.4 474.5 298.4 477.8 296.9C481.1 295.4 486.1 293.4 489.8 291.9C493.4 290.4 496.7 289.2 499.7 287.9C502.7 286.6 505.4 285.6 507.7 283.9C510.1 282.2 512 280.2 513.7 277.9C515.4 275.6 517.1 271.7 517.7 269.9C518.3 268.1 517.3 268.7 517.6 267C517.9 265.3 518.7 262.2 519.4 259.8C520.1 257.4 520.9 255 521.8 252.6C522.7 250.2 523.7 247.6 524.8 245.4C525.9 243.2 527 241.4 528.4 239.4C529.8 237.4 531.4 234.9 533.2 233.4C535 231.9 537 231.1 539.2 230.4C541.4 229.7 544 229.4 546.4 229.2C548.8 229 551.2 229.3 553.5 229.2C555.9 229.1 559.5 228.7 560.7 228.6" fill="none" stroke="#101010" stroke-opacity=".92" stroke-width=".75"/>
<path d="M591.2 270.7C591.8 271.3 593.4 273.1 594.8 274.3C596.2 275.5 597.8 277.1 599.6 277.9C601.4 278.7 603.8 279.1 605.6 279.1C607.4 279.1 609.3 278.7 610.4 277.9C611.5 277.1 612.1 275.7 612.2 274.3C612.3 272.9 611.7 271.1 611 269.5C610.3 267.9 608.8 266.3 608 264.7C607.2 263.1 606.6 261.8 606.2 260C605.8 258.2 605.3 256.4 605.6 254C605.9 251.6 607.1 248.4 608 245.6C608.9 242.8 610 240 611 237.2C612 234.4 612.7 231.4 614 228.8C615.3 226.2 616.8 223.7 618.8 221.6C620.8 219.5 623.6 217.4 626 216.2C628.4 215 630.8 214.5 633.2 214.4C635.6 214.3 638.5 214.6 640.4 215.6C642.3 216.6 643.7 218.4 644.6 220.4C645.5 222.4 645.5 225 645.8 227.6C646.1 230.2 645.9 233.4 646.4 236C646.9 238.6 647.6 241 648.8 243.2C650 245.4 651.8 247.4 653.5 249.2C655.3 251 657.5 252.2 659.5 254C661.5 255.8 663.7 257.8 665.5 260C667.3 262.2 668.9 265.1 670.3 267.1C671.7 269.1 674 271.7 673.9 271.9C673.9 272.2 669.7 268.5 670 268.8C670.3 269.2 674 273.8 676 273.8C678 273.8 679.6 270.7 682 268.8C684.3 267 687 264 690 262.9C693 261.7 697.3 261.2 699.9 261.9C702.6 262.5 704.6 264.3 705.9 266.8C707.3 269.3 707.3 273.8 707.9 276.8C708.6 279.8 708.3 282.8 709.9 284.8C711.6 286.8 714.9 288 717.9 288.8C720.9 289.6 724.6 289.8 727.9 289.8C731.2 289.8 734.2 288.3 737.9 288.8C741.5 289.3 746.5 292.5 749.8 292.8C753.2 293.1 755.8 290.1 757.8 290.8C759.8 291.5 760.2 294.8 761.8 296.8C763.5 298.8 765.8 302.1 767.8 302.8C769.8 303.4 772.1 303.1 773.8 300.8C775.5 298.4 776.5 292 777.8 288.8C779.1 285.6 780.1 282.8 781.8 281.8C783.4 280.8 785.8 281.8 787.8 282.8C789.8 283.8 791.8 287.1 793.8 287.8C795.7 288.5 797.7 288.3 799.7 286.8C801.7 285.3 804.4 281.8 805.7 278.8C807.1 275.8 808.1 272.2 807.7 268.8C807.4 265.5 805.7 261.9 803.7 258.9C801.7 255.9 798.4 253.5 795.7 250.9C793.1 248.2 789.8 245.7 787.8 242.9C785.8 240.1 784.7 237.4 783.8 233.9C782.9 230.4 783.3 225.9 782.4 221.9C781.4 217.9 779.1 213.5 778.2 210C777.3 206.4 776.5 203.8 777 200.4C777.5 197 779.3 193 781.2 189.6C783.1 186.2 786 182.8 788.4 180C790.8 177.2 793.2 174.8 795.6 172.8C798 170.8 800.4 169.2 802.8 168C805.2 166.8 807.6 166.6 810 165.6C812.4 164.6 814.9 163.6 817.1 162C819.3 160.4 821.3 158 823.1 156C824.9 154 826.8 151.8 827.9 150C829.1 148.2 829 147.1 830.2 145.4C831.4 143.7 833.4 141.5 835 139.7C836.6 138 838 136.2 839.8 134.9C841.7 133.6 844.1 132.8 846.3 132.1C848.4 131.4 850.6 131 852.7 130.5C854.8 130 857 129.6 859.1 129.3C861.3 129 863.6 129 865.6 128.9C867.6 128.8 870.3 128.7 871.2 128.6" fill="none" stroke="#101010" stroke-opacity=".92" stroke-width=".75"/>
<path d="M304.4 357.6C305 356.6 306.4 353.2 308 351.6C309.6 350 311 348.7 314 348C317 347.3 322.4 347.9 326 347.4C329.6 346.9 333 346.1 335.6 345C338.2 343.9 340.2 342.3 341.6 340.8C343 339.3 343 337.1 344 336C345 334.9 345.4 334.6 347.6 334.2C349.8 333.8 353.9 333.4 357.1 333.6C360.3 333.8 363.9 334.6 366.7 335.4C369.5 336.2 371.5 337.3 373.9 338.4C376.3 339.5 379.1 340.4 381.1 342C383.1 343.6 384.5 346 385.9 348C387.3 350 387.9 352 389.5 354C391.1 356 393.3 358.2 395.5 360C397.7 361.8 400.3 363.4 402.7 364.8C405.1 366.2 408.7 367.8 409.9 368.4C411.1 369 408.6 366.9 410 368.5C411.3 370 415.3 375 418 377.8C420.6 380.7 423.3 383.4 425.9 385.8C428.6 388.2 431.4 391.1 433.9 392.2C436.4 393.4 438.9 393.5 440.9 392.8C443 392.1 445.3 389.8 446.3 387.8C447.3 385.8 447.5 383.2 447.1 380.8C446.7 378.5 445.4 376.2 443.9 373.9C442.4 371.5 439.9 369.2 437.9 366.9C435.9 364.5 433.8 362.3 431.9 359.9C430 357.5 428.1 354 426.5 352.3C425 350.6 423.6 351.5 422.9 349.8C422.2 348 421.8 344.4 422.3 341.8C422.8 339.1 425.6 336.8 425.9 333.8C426.2 330.8 424.7 327.1 423.9 323.8C423.1 320.5 421.2 317.5 420.9 313.8C420.6 310.2 420.7 305.2 421.9 301.9C423.1 298.5 425.6 296.5 427.9 293.9C430.2 291.2 433.9 288.5 435.9 285.9C437.9 283.2 438.2 280.2 439.9 277.9C441.5 275.6 443.5 273.2 445.8 271.9C448.2 270.6 451.5 269.6 453.8 269.9C456.2 270.3 458.2 272.2 459.8 273.9C461.5 275.6 462.1 278.1 463.8 279.9C465.5 281.7 467.5 283.9 469.8 284.9C472.1 285.9 474.8 286.2 477.8 285.9C480.8 285.6 484.4 284.4 487.8 282.9C491.1 281.4 494.8 278.9 497.7 276.9C500.7 274.9 503.4 272.7 505.7 270.9C508.1 269.2 510.7 267.1 511.7 266.3" fill="none" stroke="#101010" stroke-opacity=".92" stroke-width=".75"/>
<path d="M514 266.4C514.5 265.5 516.2 262.9 517 261C517.8 259.1 518.1 256.9 518.8 255C519.5 253.1 520.3 251.4 521.2 249.6C522.1 247.8 523.4 245.9 524.2 244.2C525 242.5 525.5 240.9 526 239.4C526.5 237.9 526.5 236.5 527.2 235.2C527.9 233.9 528.9 232.7 530.2 231.6C531.4 230.5 532.7 229.6 534.6 228.6C536.5 227.6 538.6 226.7 541.8 225.7C545 224.8 550.1 223.7 553.8 222.8C557.5 222 562.2 221.1 563.9 220.8" fill="none" stroke="#101010" stroke-opacity=".92" stroke-width=".75"/>
<path d="M590 264.7C591 264.1 594.2 262.5 596 261.2C597.8 259.8 599.6 258.6 600.8 256.4C602 254.2 602.4 250.8 603.2 248C604 245.2 604.6 242.4 605.6 239.6C606.6 236.8 607.8 233.8 609.2 231.2C610.6 228.6 612.2 226.4 614 224C615.8 221.6 617.8 218.8 620 216.8C622.2 214.8 624.8 213 627.2 212C629.6 211 632 210.8 634.4 210.8C636.8 210.8 639.6 211 641.6 212C643.6 213 645.2 214.8 646.4 216.8C647.6 218.8 648.3 221.6 648.8 224C649.3 226.4 649.2 228.8 649.4 231.2C649.6 233.6 649.3 236.2 650 238.4C650.7 240.6 652 242.6 653.5 244.4C655.1 246.2 657.3 247.8 659.5 249.2C661.7 250.6 664.3 251.9 666.7 252.8C669.1 253.7 671.5 254.2 673.9 254.6C676.3 255 678.1 255.2 681.1 255.2C684.1 255.2 688.3 255 691.9 254.6C695.5 254.2 699.7 253.7 702.7 252.8C705.7 251.8 706.7 250.4 709.9 248.9C713.1 247.4 718.2 245.1 721.9 243.9C725.6 242.7 728.9 241.7 731.9 241.9C734.9 242.1 737.5 243.1 739.9 244.9C742.2 246.7 743.9 250.5 745.8 252.9C747.8 255.2 750 258 751.8 258.9C753.7 259.7 755.5 259.5 756.8 257.9C758.2 256.2 758.8 252 759.8 248.9C760.8 245.7 761.9 242.2 762.8 238.9C763.7 235.6 764.8 232.2 765.4 228.9C766 225.6 766.6 222.1 766.6 218.9C766.6 215.8 765.4 213.4 765.6 210C765.8 206.5 766.6 201.6 768 198C769.4 194.4 771.6 191.4 774 188.4C776.4 185.4 779.8 182.8 782.4 180C785 177.2 787 174.2 789.6 171.6C792.2 169 795 166.2 798 164.4C801 162.6 804.8 162 807.6 160.8C810.4 159.6 812.5 158.6 814.7 157.2C816.9 155.8 819.2 154.4 820.7 152.4C822.2 150.4 822.5 147.3 823.8 145.4C825.1 143.4 827 142.3 828.6 140.5C830.2 138.8 831.8 136.7 833.4 134.9C835 133.2 836.6 131.4 838.2 130.1C839.8 128.8 841.2 128.1 843.1 127.3C844.9 126.5 847.3 125.9 849.5 125.3C851.6 124.6 853.8 123.8 855.9 123.3C858.1 122.7 859.8 122.3 862.3 122.1C864.9 121.8 869.7 121.8 871.2 121.7" fill="none" stroke="#101010" stroke-opacity=".92" stroke-width=".75"/>
<path d="M294.8 382.8C295.2 382.4 296 381.2 297.2 380.4C298.4 379.6 299.2 378.6 302 378C304.8 377.4 310.6 377.4 314 376.8C317.4 376.2 320.4 375.6 322.4 374.4C324.4 373.2 324.6 371.2 326 369.6C327.4 368 328.8 366.6 330.8 364.8C332.8 363 335.6 360.5 338 358.8C340.4 357.1 342.6 355.7 345.2 354.6C347.8 353.5 350.8 352.7 353.5 352.2C356.3 351.7 359.5 351.3 361.9 351.6C364.3 351.9 365.9 352.6 367.9 354C369.9 355.4 372.1 357.6 373.9 360C375.7 362.4 377.1 365.8 378.7 368.4C380.3 371 381.5 373.8 383.5 375.6C385.5 377.4 388.3 378.2 390.7 379.2C393.1 380.2 395.7 380.6 397.9 381.6C400.1 382.6 402.2 382.8 403.9 385.2C405.6 387.5 405.6 392.9 408 395.8C410.3 398.7 414.3 401.1 418 402.8C421.6 404.5 425.9 405.5 429.9 405.8C433.9 406.1 438.3 405.8 441.9 404.8C445.6 403.8 449.2 402 451.9 399.8C454.6 397.6 456.7 394.8 457.9 391.8C459 388.8 459.4 385.2 458.9 381.8C458.4 378.5 456.4 374.9 454.9 371.9C453.4 368.9 451.9 366.2 449.9 363.9C447.9 361.5 445.2 359.7 442.9 357.9C440.6 356.1 437.3 354.7 435.9 352.9C434.6 351.1 434.3 348.6 434.9 346.9C435.6 345.2 437.4 344.1 439.9 342.9C442.4 341.7 446.9 341.4 449.9 339.9C452.9 338.4 455.6 335 457.9 333.9C460.2 332.9 461.8 335.1 463.8 333.8C465.8 332.4 467.5 328.1 469.8 325.8C472.1 323.5 475.1 321.8 477.8 319.8C480.4 317.8 483.8 316.2 485.8 313.8C487.8 311.5 488.8 308.5 489.8 305.8C490.8 303.2 490.4 300.2 491.8 297.9C493.1 295.5 495.4 293.5 497.7 291.9C500.1 290.2 503.1 289.4 505.7 287.9C508.4 286.4 511.4 285.1 513.7 282.9C516 280.7 518.9 277 519.7 274.9C520.5 272.9 518.5 272.5 518.8 270.6C519 268.6 520.4 265.8 521.2 263.4C522 261 522.8 258.6 523.6 256.2C524.4 253.8 525 251.4 526 249C527 246.6 528.2 244 529.6 241.8C531 239.6 532.6 237.4 534.4 235.8C536.2 234.2 538.4 233 540.4 232.2C542.4 231.4 544.4 231.1 546.4 231C548.4 230.9 550.6 231.2 552.4 231.6C554.1 232 555.7 232.5 557.1 233.4C558.5 234.3 560.7 235.8 560.7 237C560.7 238.2 558 239.2 557.1 240.6C556.2 242 555.5 243.8 555.3 245.4C555.1 247 555.2 248.6 555.9 250.2C556.6 251.8 558.5 253.4 559.5 255C560.5 256.6 560.7 258.2 561.9 259.8C563.1 261.4 564.9 263.3 566.7 264.6C568.5 265.9 570.7 266.8 572.7 267.6C574.7 268.4 576.9 268.7 578.7 269.4C580.5 270.1 582.3 270.6 583.5 271.8C584.7 273 584.9 275 585.9 276.6C586.9 278.2 588.1 279.8 589.5 281.4C590.9 283 592.5 284.6 594.3 286.2C596.1 287.7 598.5 289.5 600.3 290.9C602.1 292.3 603.7 293.6 605.1 294.5C606.5 295.5 607.7 297 608.9 296.9C610.2 296.7 612.1 295.8 612.7 293.5C613.4 291.1 612.6 286.3 612.8 282.7C613 279.1 613.4 275.7 613.7 271.9C614.1 268.1 614.9 263.9 614.9 260C615 256 614.1 252 614 248C613.8 244 613.7 239 614 236C614.3 233 614.8 232 615.8 230C616.8 228 618.3 225.7 620 224C621.7 222.3 624 220.8 626 219.8C628 218.8 630 218 632 218C634 218 636.5 218.6 638 219.8C639.5 221 640.4 223.1 641 225.2C641.6 227.3 641.7 230.2 641.6 232.4C641.5 234.6 640.4 236.4 640.4 238.4C640.4 240.4 640.6 242.4 641.6 244.4C642.6 246.4 644.6 248.4 646.4 250.4C648.2 252.4 650.4 254.2 652.4 256.4C654.3 258.6 656.3 261.4 658.3 263.5C660.3 265.7 662.1 267.9 664.3 269.5C666.5 271.1 669.1 272.2 671.5 273.1C673.9 274 676.4 275.1 678.7 274.9C681.1 274.8 683.3 273.2 685.8 272.3C688.3 271.5 691.3 269.8 693.8 269.9C696.2 270 698.7 271.1 700.7 272.9C702.7 274.7 703.9 278.2 705.7 280.9C707.6 283.6 709.2 286.6 711.7 288.9C714.2 291.2 717.7 293 720.7 294.9C723.7 296.7 726.4 298.5 729.7 299.9C733 301.2 736.7 302 740.7 302.9C744.7 303.7 748.8 304.6 753.6 304.9C758.5 305.1 764.9 303.7 769.6 304.3C774.3 304.8 777.8 307.6 781.8 308.4C785.8 309.1 790.6 309.1 793.8 308.8C796.9 308.4 798.7 307.9 800.7 306.4C802.7 304.9 804.5 302.5 805.7 299.8C807 297 807.6 293.6 808.1 289.8C808.6 286 808.8 281.1 808.7 276.8C808.7 272.5 808.5 268.3 807.7 263.9C807 259.4 805.3 254.4 804.1 249.9C803 245.4 803.6 241.6 800.7 236.9C797.9 232.2 789.7 226.4 787.2 221.9C784.6 217.5 785.4 213.5 785.4 210C785.4 206.4 786.1 203.6 787.2 200.4C788.3 197.2 790.2 193.8 792 190.8C793.8 187.8 796 185 798 182.4C800 179.8 802 177.2 804 175.2C806 173.2 807.8 172 810 170.4C812.2 168.8 814.7 167.6 817.1 165.6C819.5 163.6 822.1 160.8 824.3 158.4C826.5 156 828.6 153.7 830.3 151.2C832.1 148.7 833.4 145.3 835 143.1C836.6 141 838 139.6 839.8 138.3C841.7 137 844.1 136 846.3 135.2C848.4 134.4 850.6 134 852.7 133.5C854.8 133 857 132.6 859.1 132.3C861.3 131.9 863.6 131.7 865.6 131.5C867.6 131.4 870.3 131.3 871.2 131.2" fill="none" stroke="#3a3a2a" stroke-opacity=".55" stroke-width=".5" stroke-dasharray="3 2"/>
<path d="M308 354C308.6 353.4 310 351.8 311.6 350.4C313.2 349 315.2 346.5 317.6 345.6C320 344.7 323.2 345.5 326 345C328.8 344.5 332 343.7 334.4 342.6C336.8 341.5 338.9 340.1 340.4 338.4C341.9 336.7 341.1 334.5 343.4 332.4C345.6 330.3 350.1 327.6 353.8 326C357.6 324.4 361.8 323.2 365.8 323C369.8 322.8 374.3 323.8 377.8 325C381.3 326.2 384.8 327.8 386.8 330C388.8 332.2 388.4 335.2 389.8 338C391.1 340.8 392.6 344.1 394.8 347C396.9 349.8 400.1 352.3 402.7 355C405.4 357.6 408.1 360.3 410.7 362.9C413.4 365.6 416.3 368.2 418.7 370.9C421.1 373.7 423.3 377 425.3 379.5C427.3 382 428.8 384.3 430.7 385.9C432.6 387.5 435 389 436.7 388.9C438.3 388.7 440.2 386.7 440.7 384.9C441.2 383.1 440.8 380.1 439.7 377.9C438.5 375.7 435.7 374.2 433.7 371.9C431.7 369.6 429.7 366.6 427.7 363.9C425.7 361.3 423.2 358.9 421.7 355.9C420.2 353 418.9 349.3 418.7 346C418.5 342.6 420 338.6 420.7 336C421.4 333.3 422.8 332 422.7 330C422.6 328 420.9 326.5 419.9 323.8C418.9 321.1 417.6 317.5 416.9 313.8C416.2 310.2 415.4 305.8 415.9 301.9C416.4 297.9 417.9 293.2 419.9 289.9C421.9 286.6 425.2 284.4 427.9 281.9C430.5 279.4 433.2 277.1 435.9 274.9C438.5 272.7 440.9 270.1 443.9 268.9C446.8 267.8 450.8 267.8 453.8 267.9C456.8 268.1 459.2 268.6 461.8 269.9C464.5 271.3 467.1 274.7 469.8 275.9C472.5 277.1 474.8 277.2 477.8 276.9C480.8 276.6 484.8 275.2 487.8 273.9C490.8 272.6 493.4 270.4 495.7 268.9C498.1 267.4 499.7 266.1 501.7 264.9C503.7 263.8 506.7 262.4 507.7 261.9" fill="none" stroke="#3a3a2a" stroke-opacity=".55" stroke-width=".5" stroke-dasharray="3 2"/>
<path d="M515.8 264.6C516.1 263.8 517.1 261.6 517.8 259.8C518.5 258 519.2 255.6 520 253.8C520.7 252 521.5 250.8 522.4 249C523.2 247.2 524.3 244.8 525 243C525.7 241.2 526.1 239.7 526.6 238.2C527.1 236.7 527.4 235.4 528.1 234C528.8 232.6 529.7 231.1 530.8 229.8C531.8 228.5 532.8 227.1 534.6 226C536.4 224.8 538.6 223.8 541.8 222.8C545 221.9 550.1 220.9 553.8 220.2C557.5 219.5 562.2 218.7 563.9 218.4" fill="none" stroke="#3a3a2a" stroke-opacity=".55" stroke-width=".5" stroke-dasharray="3 2"/>
<path d="M593.6 257.6C594.4 256.8 597.1 254.6 598.4 252.8C599.7 251 600.5 249.2 601.4 246.8C602.3 244.4 602.8 241.2 603.8 238.4C604.8 235.6 606 232.6 607.4 230C608.8 227.4 610.4 225.2 612.2 222.8C614 220.4 615.9 217.7 618.2 215.6C620.5 213.5 623.3 211.4 626 210.2C628.7 209 631.6 208.6 634.4 208.6C637.2 208.6 640.5 209 642.8 210.2C645.1 211.4 646.8 213.4 648.2 215.6C649.5 217.8 650.4 220.8 650.9 223.4C651.5 226 651.2 228.8 651.4 231.2C651.6 233.6 651.6 235.9 652.4 237.8C653.1 239.7 654.3 241.1 655.9 242.6C657.5 244.1 659.7 245.6 661.9 246.8C664.1 248 666.7 249.1 669.1 249.8C671.5 250.5 673.5 250.8 676.3 251C679.1 251.2 682.3 251.2 685.9 251C689.5 250.7 697.2 250.2 697.9 249.4C698.6 248.6 688 246.5 690 245.9C692 245.3 704.9 246.7 709.9 245.9C714.9 245.1 716.2 242.5 719.9 241.3C723.6 240.1 728.2 238.8 731.9 238.9C735.5 239 739.2 240.2 741.9 241.9C744.5 243.6 746 246.7 747.8 248.9C749.7 251 751.4 254.2 752.8 254.9C754.2 255.5 755.4 254.5 756.2 252.9C757.1 251.2 757.1 247.9 757.8 244.9C758.6 241.9 760 238.2 760.8 234.9C761.7 231.6 762.3 228.3 762.8 224.9C763.3 221.6 763.9 217.9 763.8 214.9C763.7 212 762 209.6 762.2 207C762.4 204.3 763.5 201.5 764.8 199C766.1 196.5 769.8 192.2 769.8 192C769.8 191.8 764.8 198.6 765 198C765.2 197.4 768.6 191.5 771 188.4C773.4 185.3 776.7 182.4 779.4 179.4C782.1 176.4 784.4 173.2 787.2 170.4C790 167.6 793.1 164.5 796.2 162.6C799.3 160.6 803 159.8 805.8 158.6C808.6 157.4 810.9 156.6 812.9 155.4C815 154.2 817.5 153.7 818.3 151.2C819.2 148.7 817.5 143.3 818.1 140.5C818.8 137.8 820.4 136.7 822.2 134.9C823.9 133.2 826.4 131.6 828.6 130.1C830.7 128.6 832.9 127.3 835 126.1C837.2 124.9 839.3 123.9 841.4 122.9C843.6 121.9 845.7 120.9 847.9 120C850 119.2 852.2 118.4 854.3 117.6C856.5 116.9 857.9 116.2 860.7 115.6C863.6 115 869.4 114.3 871.2 114" fill="none" stroke="#3a3a2a" stroke-opacity=".55" stroke-width=".5" stroke-dasharray="3 2"/>
<path d="M370 318.8C371.3 319.5 375.3 321.3 378 322.8C380.6 324.3 384 325.6 386 327.8C388 330 388.6 333.1 390 335.8C391.3 338.4 392 341.9 394 343.8C395.9 345.6 399.3 346.8 401.9 346.8C404.6 346.8 407.6 345.6 409.9 343.8C412.2 341.9 414.6 338.8 415.9 335.8C417.2 332.8 417.9 329.1 417.9 325.8C417.9 322.5 416.9 319.2 415.9 315.8C414.9 312.5 412.9 309.2 411.9 305.8C410.9 302.5 409.9 298.9 409.9 295.9C409.9 292.9 410.6 290.4 411.9 287.9C413.2 285.4 415.2 283.1 417.9 280.9C420.6 278.7 424.6 276.9 427.9 274.9C431.2 272.9 434.2 270.4 437.9 268.9C441.5 267.4 445.8 266.4 449.8 265.9C453.8 265.4 457.8 265.6 461.8 265.9C465.8 266.3 470.1 267.6 473.8 267.9C477.5 268.3 480.8 268.4 483.8 267.9C486.8 267.4 489.9 265.9 491.8 264.9C493.6 263.9 494.3 262.4 494.8 261.9" fill="none" stroke="#000" stroke-width="1.35"/>
<path d="M591.8 248.6C592.7 248.3 595.5 248.1 597.2 246.8C598.9 245.5 600.7 243.2 602 240.8C603.3 238.4 604.3 235.4 605 232.4C605.7 229.4 606.4 225.6 606.2 222.8C606 220 604.9 217.6 603.8 215.6C602.7 213.6 600.8 211.9 599.6 210.8C598.4 209.7 597.1 209.3 596.6 209" fill="none" stroke="#000" stroke-width="1.35"/>
<path d="M607 189.5C608 190 610.8 191.4 613 192.5C615.2 193.6 617.8 194.8 620 196C622.2 197.2 623.8 198.3 626 200C628.2 201.7 631 204.5 633 206C635 207.5 635.5 207.8 638 209C640.4 210.2 644.8 211.7 647.6 213.2C650.4 214.7 652.5 216.5 654.7 218C656.9 219.5 659.7 221.5 660.7 222.2" fill="none" stroke="#000" stroke-width="1.35"/>
<path d="M664 233C664.3 233.7 665 235.8 666 237C667 238.2 668.5 239.2 670 240C671.5 240.8 673.3 241.5 675 242C676.7 242.5 678.2 242.9 680 243.2C681.8 243.5 684.2 244.1 686 244C687.8 243.9 689.7 243.3 691 242.5C692.3 241.7 693.3 240.2 694 239C694.7 237.8 694.9 236.5 695 235C695.1 233.5 694.5 231.8 694.8 230C695.1 228.2 695.8 225.7 697 224C698.2 222.3 700.2 220.8 702 220C703.8 219.2 706.2 219.5 708 219.5C709.8 219.5 711.3 219.7 713 220C714.7 220.3 716.2 221.1 718 221.5C719.8 221.9 722 222.4 724 222.5C726 222.6 728.4 222.6 730 222C731.6 221.4 733.2 221.1 733.9 218.9C734.5 216.8 733.2 212.3 733.9 209C734.5 205.6 735.9 201.6 737.9 199C739.9 196.3 743.4 195.4 745.8 193C748.3 190.6 751.2 187.2 752.4 184.7C753.5 182.1 752.5 180.3 752.9 177.9C753.3 175.6 753.8 172.7 754.7 170.7C755.6 168.7 756.7 167 758.3 165.9C759.9 164.8 762.1 164.4 764.3 164.1C766.5 163.8 769.1 164.4 771.5 164.1C773.9 163.8 776.7 163.2 778.7 162.4C780.7 161.5 782.3 160.4 783.5 158.8C784.7 157.2 785.1 154.8 785.9 152.8C786.7 150.8 787.1 148.2 788.3 146.8C789.5 145.4 791.5 144.4 793.1 144.4C794.7 144.4 796.1 146 797.9 146.8C799.7 147.6 801.9 149 803.9 149.2C805.9 149.4 808.9 149.1 809.9 148C810.9 146.8 810 143.9 810.1 142.2C810.2 140.4 810.3 138.8 810.5 137.3C810.7 135.9 810.7 134.7 811.3 133.3C811.9 132 812.8 130.6 814.1 129.3C815.4 128 817.2 126.6 818.9 125.3C820.7 123.9 822.7 122.3 824.6 121.3C826.4 120.2 828.3 119.6 830.2 118.8C832.1 118.1 834.1 117.6 835.8 116.8C837.6 116.1 839.3 115.2 840.6 114.4C842 113.6 843.1 112.7 843.9 112C844.7 111.3 844.9 111.3 845.5 110C846 108.7 846.4 106.3 847.1 104.4C847.8 102.4 848.3 100.2 849.5 98.4C850.7 96.6 852.5 95.2 854.3 93.6C856.1 92 858.3 90 860.3 88.8C862.3 87.6 864.5 87 866.3 86.4C868.1 85.8 870.3 85.4 871.1 85.2" fill="none" stroke="#000" stroke-width="1.35"/>
<path d="M796.8 100.8C795.9 102.7 796 105.8 796.2 108C796.4 110.2 797.2 112.4 798 113.9C798.8 115.4 800.2 117.1 801 116.9C801.8 116.7 802.4 114.4 802.8 112.7C803.2 111 803 108.8 803.4 106.8C803.8 104.8 804.7 102.3 805.2 100.8C805.7 99.3 807 98.5 806.4 97.8C805.8 97.1 803.2 96.1 801.6 96.6C800 97.1 797.7 98.9 796.8 100.8Z" fill="none" stroke="#000" stroke-width="1.35"/>
<path d="M746.4 186.3C746.5 184.9 746.6 180.3 747 177.9C747.4 175.5 747.9 173.7 748.8 171.9C749.7 170.1 750.6 168.9 752.4 167.1C754.1 165.3 757.1 162.5 759.5 161.2C761.9 159.8 764.3 159.6 766.7 158.8C769.1 158 771.9 157.6 773.9 156.4C775.9 155.2 777.7 153.4 778.7 151.6C779.7 149.8 779.3 147.4 779.9 145.6C780.5 143.8 781.1 142 782.3 140.8C783.5 139.6 785.3 138.6 787.1 138.4C788.9 138.2 791.3 139.1 793.1 139.6C794.9 140.1 796.3 141.2 797.9 141.4C799.5 141.6 801.5 141.7 802.7 140.8C803.9 139.9 807.7 138.6 805.1 136C802.5 133.3 790.4 128.2 787.2 124.7C784 121.3 786 118.3 786 115.1C786 111.9 786.4 108.4 787.2 105.6C788 102.8 789.6 100.2 790.8 98.4C792 96.6 792.8 96 794.4 94.8C796 93.6 798.4 92 800.4 91.2C802.4 90.4 804.2 90.3 806.4 90C808.6 89.7 811.6 89.2 813.5 89.4C815.5 89.6 817.3 90.3 818.3 91.2C819.3 92.1 819.9 93.4 819.5 94.8C819.1 96.2 817.3 98 815.9 99.6C814.5 101.2 812.2 102.6 811.2 104.4C810.2 106.2 809.4 108.8 810 110.4C810.6 111.9 812.5 113.2 814.7 113.9C816.9 114.6 820.3 114.7 823.1 114.5C825.9 114.3 828.9 113.8 831.5 112.7C834.1 111.6 836.7 109.8 838.7 108C840.7 106.2 842.1 104 843.5 102C844.9 100 845.7 98 847.1 96C848.5 94 850.1 91.8 851.9 90C853.7 88.2 855.7 86.4 857.9 85.2C860.1 84 862.9 83.3 865.1 82.8C867.3 82.3 870.1 82.3 871.1 82.2" fill="none" stroke="#3a3a2a" stroke-opacity=".55" stroke-width=".5" stroke-dasharray="3 2"/>
<path d="M705.9 201C706.6 201.9 708.3 205.4 709.9 206.6C711.6 207.7 713.8 208.5 715.9 208C718 207.4 720.4 205.2 722.3 203.4C724.2 201.5 726.3 199.4 727.3 197C728.3 194.6 726.3 192.2 728.3 189C730.3 185.8 737.4 180.8 739.4 177.9C741.4 175.1 739.8 173.7 740.4 171.9C740.9 170.1 741.6 168.9 742.8 167.1C744 165.3 745.4 162.9 747.6 161.2C749.8 159.4 753.3 157.6 755.9 156.4C758.5 155.2 760.9 154.8 763.1 154C765.3 153.2 767.5 152.6 769.1 151.6C770.7 150.6 772.2 149.4 772.7 148C773.2 146.6 772.9 144.5 772.1 143.2C771.3 141.9 769.6 140.9 767.9 140.2C766.2 139.4 763.4 139.3 761.9 138.6C760.4 137.9 760 137.4 758.9 136C757.8 134.5 756.2 131.3 755.3 130C754.4 128.7 753 128.9 753.5 128.2C754 127.5 756.5 126.9 758.3 125.8C760.1 124.7 762.5 122.7 764.3 121.6C766.1 120.5 767.5 119.3 769.1 119.2C770.7 119.1 772.3 120.1 773.9 121C775.5 121.9 777.2 123.6 778.7 124.6C780.2 125.6 781.6 127 782.9 127C784.2 127 785.5 125.9 786.5 124.6C787.5 123.3 788.1 121.3 788.9 119.2C789.7 117.1 790.7 114.4 791.3 112C791.9 109.6 792.4 107.9 792.5 104.8C792.6 101.7 791.6 96.2 792 93.6C792.3 90.9 793.4 90 794.6 88.8C795.8 87.5 797.6 86.5 799.2 86.1C800.7 85.7 801.4 86.2 804 86.4C806.6 86.5 811.4 86.8 814.7 87C818.1 87.2 821.7 87.2 824.3 87.6C826.9 88 829 88.6 830.3 89.4C831.6 90.2 832.5 91.3 832.1 92.4C831.7 93.5 829.3 94.8 827.9 96C826.5 97.2 824.5 98.5 823.7 99.6C822.9 100.7 822.6 101.8 823.1 102.6C823.6 103.4 825.1 104.2 826.7 104.4C828.3 104.6 830.9 104.6 832.7 103.8C834.5 103 835.9 101.3 837.5 99.6C839.1 97.9 840.7 95.8 842.3 93.6C843.9 91.4 845.9 88.8 847.1 86.4C848.3 84 849 81.6 849.5 79.2C850 76.8 849.7 74 850.1 72C850.5 70 850.6 68.5 851.9 67.2C853.2 65.9 855.7 64.8 857.9 64.2C860.1 63.6 862.9 63.7 865.1 63.6C867.3 63.4 870.1 63.4 871.1 63.3" fill="none" stroke="#101010" stroke-opacity=".92" stroke-width=".75"/>
<path d="M757.1 114.4C757.9 113.8 760.7 112.4 761.9 110.8C763.1 109.2 765.1 107.1 764.3 104.8C763.5 102.5 757.4 98 757.2 97.2C757 96.3 761.8 98.2 763.2 99.6C764.6 101 765.2 103.4 765.6 105.6C766 107.8 764.8 110.7 765.6 112.7C766.4 114.7 768.4 116.5 770.4 117.5C772.4 118.5 775.6 119.1 777.6 118.7C779.6 118.3 781.3 116.9 782.4 115.1C783.5 113.3 783.8 110.4 784.2 108C784.6 105.6 784.4 102.9 784.8 100.8C785.2 98.7 785.8 97.6 786.6 95.4C787.4 93.2 788.3 89.7 789.6 87.6C790.9 85.5 792.6 84 794.4 82.8C796.2 81.6 797.8 80.7 800.4 80.4C803 80 806.8 80.4 810 80.6C813.1 80.9 816.7 81.2 819.5 81.8C822.3 82.5 824.3 83.7 826.7 84.6C829.1 85.4 831.7 86.9 833.9 87C836.1 87.1 838.1 86.3 839.9 85.2C841.7 84.1 843.5 82.4 844.7 80.4C845.9 78.4 846.5 75.4 847.1 73.2C847.7 71 847.3 69 848.3 67.2C849.3 65.4 851.5 63.8 853.1 62.4C854.7 61 856.3 59.6 857.9 58.8C859.5 58 860.5 57.9 862.7 57.6C864.9 57.3 869.7 57.1 871.1 57" fill="none" stroke="#3a3a2a" stroke-opacity=".55" stroke-width=".5" stroke-dasharray="3 2"/>
<path d="M730 86C730.7 86.4 732.3 87 734 88.5C735.7 90 738 93.8 740 95C742 96.2 743.8 97.2 746 96C748.2 94.8 751 89.5 753 88C755 86.5 756 86.7 758 87C760 87.3 762.3 88.8 765 90C767.7 91.2 771.5 93.8 774 94.2C776.5 94.6 778.2 93.7 780 92.4C781.8 91.1 783.4 88.4 784.8 86.4C786.2 84.4 787.2 81.9 788.4 80.4C789.6 78.8 790 77.8 792 77C794 76.2 797.4 75.8 800.4 75.7C803.4 75.6 806.8 75.9 810 76.2C813.1 76.5 816.7 76.7 819.5 77.4C822.3 78.1 824.3 79.5 826.7 80.4C829.1 81.3 831.7 82.6 833.9 82.8C836.1 83 838.1 82.6 839.9 81.6C841.7 80.6 843.7 78.6 844.7 76.8C845.7 75 845.5 72.8 845.9 70.8C846.3 68.8 846.1 66.6 847.1 64.8C848.1 63 850.5 61.8 851.9 60C853.3 58.2 854.7 55.8 855.5 54C856.3 52.2 856.5 50.6 856.7 49.2C857 47.8 856.9 46.2 857 45.6" fill="none" stroke="#101010" stroke-opacity=".92" stroke-width=".75"/>
<path d="M772.2 45.6C772.2 46.2 772.1 47.6 772.2 49.2C772.3 50.8 772.5 53.2 772.8 55.2C773.1 57.2 773.2 59.6 774 61.2C774.8 62.8 776 64 777.6 64.8C779.2 65.6 781.4 65.6 783.6 66C785.8 66.4 788.4 66.4 790.8 67.2C793.2 68 796 69.7 798 70.8C800 71.9 800.4 73.3 802.8 73.8C805.2 74.3 809.4 74.2 812.4 73.8C815.3 73.4 818.1 72.3 820.7 71.4C823.3 70.5 825.3 69.7 827.9 68.4C830.5 67.1 833.9 65 836.3 63.6C838.7 62.2 840.9 61.6 842.3 60C843.7 58.4 844.1 55.8 844.7 54C845.3 52.2 845.7 50.6 845.9 49.2C846.2 47.8 846.1 46.2 846.2 45.6" fill="none" stroke="#3a3a2a" stroke-opacity=".55" stroke-width=".5" stroke-dasharray="3 2"/>
<path d="M780 45.6C780 46.2 779.7 47.8 780 49.2C780.3 50.6 780.8 52.4 781.8 54C782.8 55.6 784.3 57.5 786 58.8C787.7 60.1 790 60.8 792 61.8C794 62.8 796.2 63.7 798 64.8C799.8 65.9 800.4 67.7 802.8 68.4C805.2 69.1 809.4 69.4 812.4 69C815.3 68.6 818.3 67.1 820.7 66C823.1 64.9 824.7 63.6 826.7 62.4C828.7 61.2 831.1 60.2 832.7 58.8C834.3 57.4 835.5 55.6 836.3 54C837.1 52.4 837.3 50.6 837.5 49.2C837.8 47.8 837.7 46.2 837.8 45.6" fill="none" stroke="#101010" stroke-opacity=".92" stroke-width=".75"/>
<path d="M787.2 45.6C787.2 46.2 786.8 48 787.2 49.2C787.6 50.4 788.2 51.6 789.6 52.8C791 54 793.4 55.5 795.6 56.4C797.8 57.3 800.4 57.8 802.8 58.2C805.2 58.6 807.6 59.1 810 58.6C812.4 58.1 815.1 56.4 817.1 55.2C819.1 54 820.8 52.6 821.9 51.6C823 50.6 823.4 50.2 823.7 49.2C824.1 48.2 824 46.2 824.1 45.6" fill="none" stroke="#3a3a2a" stroke-opacity=".55" stroke-width=".5" stroke-dasharray="3 2"/>
<path d="M239.9 361.4C238.7 361.9 235.1 363.5 232.7 364.4C230.3 365.3 227.7 365.8 225.5 366.8C223.3 367.8 221.3 368.6 219.5 370.4C217.7 372.2 215.9 375.2 214.7 377.6C213.5 380 213.3 382.9 212.3 384.8C211.3 386.7 209.7 388.4 208.7 389C207.7 389.6 206.8 389.3 206.3 388.4C205.8 387.5 206.3 384.8 205.7 383.6C205.1 382.4 202.6 382.4 202.7 381.2C202.8 380 204.9 378 206.3 376.4C207.7 374.8 209.7 373.6 211.1 371.6C212.5 369.6 213.7 366.6 214.7 364.4C215.7 362.2 215.9 360.2 217.1 358.4C218.3 356.6 220.3 354.8 221.9 353.6C223.5 352.4 225.9 351.6 226.7 351.2" fill="none" stroke="#101010" stroke-opacity=".92" stroke-width=".75"/>
<path d="M66.8 402.8C67.5 402.7 69 402.6 71 402.2C73 401.8 76.3 401.1 78.8 400.4C81.3 399.7 83.8 398.9 86 398C88.2 397.1 90 395.8 92 395C94 394.2 96 393.4 98 393.2C100 393 102.2 393.2 104 393.8C105.8 394.4 107.4 395.5 108.8 396.8C110.2 398.1 111.3 400 112.4 401.6C113.5 403.2 114.3 404.9 115.4 406.4C116.5 407.9 118.4 409.9 119 410.6" fill="none" stroke="#101010" stroke-opacity=".92" stroke-width=".75"/>
<path d="M66.8 421.4C67.5 421.1 69.2 420.5 71 419.6C72.8 418.7 75.5 417.4 77.6 416C79.7 414.6 81.6 412.9 83.6 411.2C85.6 409.5 87.6 407.3 89.6 405.8C91.6 404.3 93.6 402.9 95.6 402.2C97.6 401.5 99.6 401.2 101.6 401.6C103.6 402 105.8 403.3 107.6 404.6C109.4 405.9 111 407.9 112.4 409.4C113.8 410.9 114.6 412.5 116 413.6C117.4 414.7 120 415.6 120.8 416" fill="none" stroke="#3a3a2a" stroke-opacity=".55" stroke-width=".5" stroke-dasharray="3 2"/>
<path d="M337.7 504.8C341.7 505.2 356 505.6 361.6 507.2C367.2 508.8 368.1 511.2 371.2 514.4C374.3 517.6 375.3 523.3 380 526.5C384.7 529.7 393.1 532.2 399.6 533.8C406.1 535.4 413.8 534.6 419.1 536.2C424.4 537.8 428.5 539.5 431.3 543.6C434.1 547.7 434.1 555.4 436.2 560.7C438.2 566 439.9 571.6 443.6 575.4C447.3 579.2 453.3 582.9 458.2 583.7C463.1 584.5 468.4 582.8 472.9 580.2C477.4 577.6 480.2 570.4 485.1 568C490 565.6 495.3 565.6 502.2 565.6C509.1 565.6 519.4 568.4 526.7 568C534.1 567.6 540.6 565.6 546.3 563.1C552 560.6 556.8 558.2 560.9 553.3C565 548.4 567.4 539.1 570.7 533.8C574 528.5 576.4 524.9 580.5 521.6C584.6 518.3 589.5 516.1 595.2 514.2C600.9 512.3 608.2 511.1 614.7 510.3C621.2 509.5 629 510.7 634.3 509.3C639.6 507.9 643.6 505.3 646.5 502C649.4 498.7 651.1 495 651.6 489.6C652.1 484.2 650.6 476.2 649.6 469.6C648.6 463 645.3 455 645.6 449.7C645.9 444.4 648.9 441.4 651.6 437.7C654.3 434 657.3 430.4 661.6 427.7C665.9 425 673.3 421.4 677.6 421.7C681.9 422 685.6 425 687.6 429.7C689.6 434.4 689.9 443.7 689.6 449.7C689.3 455.7 684.9 460.4 685.6 465.7C686.3 471 690.8 474.3 693.6 481.6C696.5 488.9 699.6 503.1 702.7 509.3C705.9 515.5 708.8 516.2 712.5 519.1C716.2 522 723.1 522.4 724.7 526.5C726.3 530.6 724.3 539.1 722.3 543.6C720.3 548.1 714.5 550 712.5 553.3C710.5 556.5 708.5 560.5 710.1 563.1C711.7 565.7 717 568.2 722.3 569C727.6 569.8 736.2 569.4 741.9 568C747.6 566.6 751.6 562.5 756.5 560.7C761.4 558.9 766.3 558.1 771.2 557.3C776.1 556.5 781 557.3 785.9 555.8C790.8 554.3 796 551.4 800.5 548.5C805 545.6 809.1 542 812.8 538.7C816.5 535.4 819.6 532.6 822.5 528.9C825.4 525.2 827.4 521.2 829.9 516.7C832.4 512.2 834.8 506.5 837.2 502C839.6 497.5 842.9 494.6 844.5 489.8C846.1 485 847.9 479 847 473C846.1 467 841.6 458.6 839.3 453.7C837 448.8 837 445.7 833.3 443.7C829.6 441.7 823.3 442.7 817.3 441.7C811.3 440.7 802.3 440.4 797.3 437.7C792.3 435 789.4 430.3 787.4 425.7C785.4 421.1 784.4 414.1 785.4 409.8C786.4 405.5 789.4 402.6 793.4 399.8C797.4 397 803.3 394.3 809.3 393C815.3 391.7 822 391.5 829.3 391.8C836.6 392.1 849.2 394.1 853.2 394.6" fill="none" stroke="#3a3a2a" stroke-opacity=".55" stroke-width=".5" stroke-dasharray="3 2"/>
<path d="M612.3 508.4C612.3 508.8 611.9 509.4 611.3 509.8C610.8 510.2 609.8 510.5 608.9 510.7C608 510.8 606.8 510.8 605.9 510.7C605 510.5 604 510.2 603.4 509.8C602.9 509.4 602.5 508.8 602.5 508.4C602.5 507.9 602.9 507.3 603.4 506.9C604 506.5 605 506.2 605.9 506C606.8 505.9 608 505.9 608.9 506C609.8 506.2 610.8 506.5 611.3 506.9C611.9 507.3 612.3 507.9 612.3 508.4Z" fill="none" stroke="#3a3a2a" stroke-opacity=".5" stroke-width=".5" stroke-dasharray="1.2 1.8"/>
<path d="M579 512.3C579 512.8 578.8 513.3 578.4 513.7C578 514.1 577.3 514.5 576.7 514.6C576 514.7 575.2 514.7 574.5 514.6C573.9 514.5 573.2 514.1 572.8 513.7C572.4 513.3 572.2 512.8 572.2 512.3C572.2 511.8 572.4 511.2 572.8 510.8C573.2 510.4 573.9 510.1 574.5 509.9C575.2 509.8 576 509.8 576.7 509.9C577.3 510.1 578 510.4 578.4 510.8C578.8 511.2 579 511.8 579 512.3Z" fill="none" stroke="#3a3a2a" stroke-opacity=".5" stroke-width=".5" stroke-dasharray="1.2 1.8"/>
<path d="M561.9 519.1C561.9 519.6 561.7 520.2 561.3 520.6C561 520.9 560.4 521.3 559.9 521.4C559.3 521.6 558.6 521.6 558.1 521.4C557.5 521.3 556.9 520.9 556.6 520.6C556.3 520.2 556 519.6 556 519.1C556 518.6 556.3 518.1 556.6 517.7C556.9 517.3 557.5 516.9 558.1 516.8C558.6 516.6 559.3 516.6 559.9 516.8C560.4 516.9 561 517.3 561.3 517.7C561.7 518.1 561.9 518.6 561.9 519.1Z" fill="none" stroke="#3a3a2a" stroke-opacity=".5" stroke-width=".5" stroke-dasharray="1.2 1.8"/>
<path d="M615.2 526.5C615.2 527.2 614.9 528.1 614.6 528.8C614.2 529.4 613.5 529.9 612.8 530.2C612.2 530.4 611.4 530.4 610.7 530.2C610.1 529.9 609.4 529.4 609 528.8C608.6 528.1 608.4 527.2 608.4 526.5C608.4 525.7 608.6 524.8 609 524.2C609.4 523.5 610.1 523 610.7 522.7C611.4 522.5 612.2 522.5 612.8 522.7C613.5 523 614.2 523.5 614.6 524.2C614.9 524.8 615.2 525.7 615.2 526.5Z" fill="none" stroke="#3a3a2a" stroke-opacity=".5" stroke-width=".5" stroke-dasharray="1.2 1.8"/>
<path d="M629.4 525C629.4 525.8 629.2 526.7 628.9 527.3C628.6 527.9 628.2 528.5 627.7 528.7C627.2 528.9 626.6 528.9 626.2 528.7C625.7 528.5 625.2 527.9 625 527.3C624.7 526.7 624.5 525.8 624.5 525C624.5 524.2 624.7 523.3 625 522.7C625.2 522.1 625.7 521.5 626.2 521.3C626.6 521 627.2 521 627.7 521.3C628.2 521.5 628.6 522.1 628.9 522.7C629.2 523.3 629.4 524.2 629.4 525Z" fill="none" stroke="#3a3a2a" stroke-opacity=".5" stroke-width=".5" stroke-dasharray="1.2 1.8"/>
<path d="M629.9 548.5C629.9 548.8 629.7 549.3 629.4 549.6C629.1 549.9 628.6 550.2 628.2 550.3C627.7 550.4 627.1 550.4 626.7 550.3C626.2 550.2 625.7 549.9 625.5 549.6C625.2 549.3 625 548.8 625 548.5C625 548.1 625.2 547.6 625.5 547.3C625.7 547 626.2 546.7 626.7 546.6C627.1 546.5 627.7 546.5 628.2 546.6C628.6 546.7 629.1 547 629.4 547.3C629.7 547.6 629.9 548.1 629.9 548.5Z" fill="none" stroke="#3a3a2a" stroke-opacity=".5" stroke-width=".5" stroke-dasharray="1.2 1.8"/>
<path d="M670.5 544.1C670.5 544.9 669.9 545.9 669.2 546.6C668.4 547.3 667 548 665.7 548.2C664.5 548.5 662.8 548.5 661.5 548.2C660.2 548 658.9 547.3 658.1 546.6C657.3 545.9 656.8 544.9 656.8 544.1C656.8 543.2 657.3 542.2 658.1 541.5C658.9 540.8 660.2 540.1 661.5 539.9C662.8 539.6 664.5 539.6 665.7 539.9C667 540.1 668.4 540.8 669.2 541.5C669.9 542.2 670.5 543.2 670.5 544.1Z" fill="none" stroke="#3a3a2a" stroke-opacity=".5" stroke-width=".5" stroke-dasharray="1.2 1.8"/>
<path d="M667.5 544.1C667.5 544.4 667.3 544.9 667 545.2C666.6 545.5 666 545.8 665.5 545.9C665 546 664.2 546 663.7 545.9C663.1 545.8 662.6 545.5 662.2 545.2C661.9 544.9 661.7 544.4 661.7 544.1C661.7 543.7 661.9 543.2 662.2 542.9C662.6 542.6 663.1 542.3 663.7 542.2C664.2 542.1 665 542.1 665.5 542.2C666 542.3 666.6 542.6 667 542.9C667.3 543.2 667.5 543.7 667.5 544.1Z" fill="none" stroke="#3a3a2a" stroke-opacity=".5" stroke-width=".5" stroke-dasharray="1.2 1.8"/>
<path d="M677.8 572.9C677.8 575.2 676.6 577.9 674.8 579.8C673 581.7 669.9 583.4 667 584.1C664.1 584.8 660.2 584.8 657.3 584.1C654.4 583.4 651.3 581.7 649.5 579.8C647.7 577.9 646.5 575.2 646.5 572.9C646.5 570.6 647.7 567.9 649.5 566C651.3 564.2 654.4 562.5 657.3 561.7C660.2 561 664.1 561 667 561.7C669.9 562.5 673 564.2 674.8 566C676.6 567.9 677.8 570.6 677.8 572.9Z" fill="none" stroke="#3a3a2a" stroke-opacity=".5" stroke-width=".5" stroke-dasharray="1.2 1.8"/>
<path d="M665.6 567C665.6 567.8 665.1 568.7 664.5 569.3C663.8 570 662.6 570.5 661.5 570.8C660.4 571 659 571 657.9 570.8C656.8 570.5 655.6 570 655 569.3C654.3 568.7 653.8 567.8 653.8 567C653.8 566.3 654.3 565.4 655 564.7C655.6 564.1 656.8 563.6 657.9 563.3C659 563.1 660.4 563.1 661.5 563.3C662.6 563.6 663.8 564.1 664.5 564.7C665.1 565.4 665.6 566.3 665.6 567Z" fill="none" stroke="#3a3a2a" stroke-opacity=".5" stroke-width=".5" stroke-dasharray="1.2 1.8"/>
<path d="M640.1 585.1C640.1 585.7 639.8 586.4 639.2 586.9C638.6 587.3 637.7 587.7 636.8 587.9C635.9 588.1 634.7 588.1 633.7 587.9C632.8 587.7 631.9 587.3 631.3 586.9C630.7 586.4 630.4 585.7 630.4 585.1C630.4 584.6 630.7 583.9 631.3 583.4C631.9 582.9 632.8 582.5 633.7 582.3C634.7 582.2 635.9 582.2 636.8 582.3C637.7 582.5 638.6 582.9 639.2 583.4C639.8 583.9 640.1 584.6 640.1 585.1Z" fill="none" stroke="#3a3a2a" stroke-opacity=".5" stroke-width=".5" stroke-dasharray="1.2 1.8"/>
<path d="M626.5 602.2C626.5 603.6 626 605.2 625.3 606.3C624.7 607.4 623.5 608.3 622.4 608.8C621.3 609.2 619.9 609.2 618.8 608.8C617.7 608.3 616.5 607.4 615.8 606.3C615.2 605.2 614.7 603.6 614.7 602.2C614.7 600.9 615.2 599.3 615.8 598.2C616.5 597.1 617.7 596.2 618.8 595.7C619.9 595.3 621.3 595.3 622.4 595.7C623.5 596.2 624.7 597.1 625.3 598.2C626 599.3 626.5 600.9 626.5 602.2Z" fill="none" stroke="#3a3a2a" stroke-opacity=".5" stroke-width=".5" stroke-dasharray="1.2 1.8"/>
<path d="M606.9 622.8C606.9 623.7 606.6 624.9 606.1 625.7C605.5 626.4 604.7 627.1 603.9 627.4C603 627.7 602 627.7 601.1 627.4C600.3 627.1 599.4 626.4 598.9 625.7C598.4 624.9 598.1 623.7 598.1 622.8C598.1 621.8 598.4 620.7 598.9 619.9C599.4 619.1 600.3 618.4 601.1 618.1C602 617.8 603 617.8 603.9 618.1C604.7 618.4 605.5 619.1 606.1 619.9C606.6 620.7 606.9 621.8 606.9 622.8Z" fill="none" stroke="#3a3a2a" stroke-opacity=".5" stroke-width=".5" stroke-dasharray="1.2 1.8"/>
<path d="M692 611.1C692 612.4 690.6 614 688.4 615.1C686.3 616.2 682.6 617.1 679.1 617.6C675.7 618 671.1 618 667.7 617.6C664.2 617.1 660.5 616.2 658.4 615.1C656.2 614 654.8 612.4 654.8 611.1C654.8 609.7 656.2 608.1 658.4 607C660.5 605.9 664.2 605 667.7 604.5C671.1 604.1 675.7 604.1 679.1 604.5C682.6 605 686.3 605.9 688.4 607C690.6 608.1 692 609.7 692 611.1Z" fill="none" stroke="#3a3a2a" stroke-opacity=".5" stroke-width=".5" stroke-dasharray="1.2 1.8"/>
<path d="M691 638.9C691 639.9 690.5 641 689.7 641.8C688.9 642.6 687.5 643.3 686.3 643.6C685 643.9 683.3 643.9 682 643.6C680.8 643.3 679.4 642.6 678.6 641.8C677.8 641 677.3 639.9 677.3 638.9C677.3 638 677.8 636.8 678.6 636C679.4 635.3 680.8 634.6 682 634.3C683.3 634 685 634 686.3 634.3C687.5 634.6 688.9 635.3 689.7 636C690.5 636.8 691 638 691 638.9Z" fill="none" stroke="#3a3a2a" stroke-opacity=".5" stroke-width=".5" stroke-dasharray="1.2 1.8"/>
<path d="M645 637.5C645 639 644.6 640.8 643.9 642.1C643.2 643.3 642.1 644.4 641 644.9C639.9 645.4 638.4 645.4 637.4 644.9C636.3 644.4 635.1 643.3 634.4 642.1C633.7 640.8 633.3 639 633.3 637.5C633.3 635.9 633.7 634.1 634.4 632.9C635.1 631.6 636.3 630.5 637.4 630C638.4 629.5 639.9 629.5 641 630C642.1 630.5 643.2 631.6 643.9 632.9C644.6 634.1 645 635.9 645 637.5Z" fill="none" stroke="#3a3a2a" stroke-opacity=".5" stroke-width=".5" stroke-dasharray="1.2 1.8"/>
<path d="M615.7 608.1C615.7 609.1 615.3 610.2 614.6 611C613.9 611.8 612.7 612.5 611.6 612.8C610.5 613.1 609.1 613.1 608 612.8C606.9 612.5 605.8 611.8 605.1 611C604.4 610.2 604 609.1 604 608.1C604 607.2 604.4 606 605.1 605.2C605.8 604.5 606.9 603.8 608 603.5C609.1 603.2 610.5 603.2 611.6 603.5C612.7 603.8 613.9 604.5 614.6 605.2C615.3 606 615.7 607.2 615.7 608.1Z" fill="none" stroke="#3a3a2a" stroke-opacity=".5" stroke-width=".5" stroke-dasharray="1.2 1.8"/>
<path d="M574.6 577.8C574.6 578.3 574.3 578.8 573.7 579.2C573.1 579.6 572.2 580 571.2 580.1C570.3 580.3 569.1 580.3 568.2 580.1C567.3 580 566.3 579.6 565.8 579.2C565.2 578.8 564.8 578.3 564.8 577.8C564.8 577.3 565.2 576.7 565.8 576.4C566.3 576 567.3 575.6 568.2 575.5C569.1 575.3 570.3 575.3 571.2 575.5C572.2 575.6 573.1 576 573.7 576.4C574.3 576.7 574.6 577.3 574.6 577.8Z" fill="none" stroke="#3a3a2a" stroke-opacity=".5" stroke-width=".5" stroke-dasharray="1.2 1.8"/>
<path d="M555.1 582.7C555.1 583 554.8 583.3 554.5 583.6C554.2 583.8 553.6 584 553 584.1C552.5 584.2 551.8 584.2 551.2 584.1C550.7 584 550.1 583.8 549.8 583.6C549.4 583.3 549.2 583 549.2 582.7C549.2 582.4 549.4 582.1 549.8 581.8C550.1 581.6 550.7 581.4 551.2 581.3C551.8 581.2 552.5 581.2 553 581.3C553.6 581.4 554.2 581.6 554.5 581.8C554.8 582.1 555.1 582.4 555.1 582.7Z" fill="none" stroke="#3a3a2a" stroke-opacity=".5" stroke-width=".5" stroke-dasharray="1.2 1.8"/>
<path d="M570.2 625.7C570.2 626.1 570.1 626.6 569.8 626.9C569.6 627.2 569.2 627.5 568.9 627.6C568.5 627.7 568 627.7 567.7 627.6C567.3 627.5 566.9 627.2 566.7 626.9C566.5 626.6 566.3 626.1 566.3 625.7C566.3 625.3 566.5 624.9 566.7 624.6C566.9 624.3 567.3 624 567.7 623.9C568 623.7 568.5 623.7 568.9 623.9C569.2 624 569.6 624.3 569.8 624.6C570.1 624.9 570.2 625.3 570.2 625.7Z" fill="none" stroke="#3a3a2a" stroke-opacity=".5" stroke-width=".5" stroke-dasharray="1.2 1.8"/>
<path d="M70 645.8C72 645.6 78.6 645.5 82 644.8C85.3 644.1 87.3 643.6 90 641.8C92.6 640 95.3 636.8 97.9 633.8C100.6 630.8 102.9 627.2 105.9 623.8C108.9 620.5 112.2 616.3 115.9 613.9C119.6 611.4 123.9 610.2 127.9 608.9C131.9 607.5 136.5 607.4 139.9 605.9C143.2 604.4 145.2 602.2 147.8 599.9C150.5 597.6 152.8 594.1 155.8 591.9C158.8 589.7 162.1 588.2 165.8 586.9C169.5 585.6 174.1 584.2 177.8 583.9C181.4 583.6 184.4 583.6 187.8 584.9C191.1 586.2 194.1 590.1 197.7 591.9C201.4 593.7 205.7 594.9 209.7 595.9C213.7 596.9 218 596.6 221.7 597.9C225.4 599.2 228.7 602.2 231.7 603.9C234.7 605.5 237.5 608.5 239.7 607.9C241.8 607.2 244.3 602.9 244.7 599.9C245 596.9 243.5 593.2 241.7 589.9C239.8 586.6 236.7 582.9 233.7 579.9C230.7 576.9 226.4 574.6 223.7 571.9C221 569.3 218.9 566.9 217.7 564C216.5 561 216 557 216.7 554C217.4 551 219.5 548 221.7 546C223.9 544 228.3 542.7 229.7 542" fill="none" stroke="#3a3a2a" stroke-opacity=".55" stroke-width=".5" stroke-dasharray="3 2"/>
<path d="M841.7 170.4C841.7 172 841.7 176.4 841.7 180C841.7 183.6 842 188.4 841.7 192C841.4 195.6 841 198.2 839.9 201.6C838.8 205 836.7 209.1 835.1 212.3C833.5 215.5 831.5 217.5 830.3 220.7C829.1 223.9 828.3 227.7 827.9 231.5C827.5 235.3 827.5 239.7 827.9 243.5C828.3 247.3 829.5 250.9 830.3 254.3C831.1 257.6 833.5 257.9 832.7 263.8C831.9 269.8 826.6 284.4 825.5 290C824.4 295.6 826.7 294.2 826.1 297.2C825.5 300.2 823 304.6 821.9 308C820.8 311.4 820.5 314 819.5 317.5C818.5 321.1 817.1 326.9 815.9 329.5C814.7 332.1 812.9 332.5 812.3 333.1" fill="none" stroke="#3a3a2a" stroke-opacity=".55" stroke-width=".5" stroke-dasharray="3 2"/>
<path d="M853.1 290C853.4 292 854.7 298 854.9 302C855 306 855 310 854.3 314C853.6 317.9 852.2 321.9 850.7 325.9C849.2 329.9 846.7 333.9 845.3 337.9C843.9 341.9 843.4 345.9 842.3 349.9C841.2 353.9 839.7 357.9 838.7 361.9C837.7 365.8 836.7 371.8 836.3 373.8" fill="none" stroke="#3a3a2a" stroke-opacity=".55" stroke-width=".5" stroke-dasharray="3 2"/>
<path d="M854.3 263.8C855.2 263 858 260.2 860.2 259C862.4 257.8 866.2 257 867.4 256.6" fill="none" stroke="#3a3a2a" stroke-opacity=".55" stroke-width=".5" stroke-dasharray="3 2"/>
<path d="M86.5 49.0V665.5M148.5 49.0V665.5M180.5 49.0V665.5M242.5 49.0V665.5M273.5 49.0V665.5M336.5 49.0V665.5M367.5 49.0V665.5M429.5 49.0V665.5M460.5 49.0V665.5M523.5 49.0V665.5M554.5 49.0V665.5M616.5 49.0V665.5M648.5 49.0V665.5M710.5 49.0V665.5M741.5 49.0V665.5M804.5 49.0V665.5M835.5 49.0V665.5M70.8 629.5H866.5M70.8 593.5H866.5M70.8 519.5H866.5M70.8 482.5H866.5M70.8 408.5H866.5M70.8 371.5H866.5M70.8 296.5H866.5M70.8 258.5H866.5M70.8 182.5H866.5M70.8 144.5H866.5M70.8 67.5H866.5" fill="none" stroke="#2a2208" stroke-opacity=".38" stroke-width=".5"/>
<path d="M117.5 49.0V665.5M211.5 49.0V665.5M304.5 49.0V665.5M398.5 49.0V665.5M492.5 49.0V665.5M585.5 49.0V665.5M679.5 49.0V665.5M772.5 49.0V665.5M70.8 556.5H866.5M70.8 445.5H866.5M70.8 334.5H866.5M70.8 220.5H866.5M70.8 106.5H866.5" fill="none" stroke="#0a0a0a" stroke-opacity=".78" stroke-width=".85"/>
<path d="M68 503.8C68.3 503.6 67.7 504.1 70 502.8C72.3 501.5 78 498.1 82 495.8C86 493.5 89.3 491.7 94 488.8C98.6 486 104.6 482.5 109.9 478.8C115.2 475.2 120.9 470.2 125.9 466.9C130.9 463.5 135.2 461.1 139.9 458.9C144.5 456.7 148.8 455.1 153.8 453.5C158.8 451.9 164.5 450.6 169.8 449.5C175.1 448.4 180.4 447.5 185.8 446.9C191.1 446.3 195.7 446.1 201.7 445.9C207.7 445.7 215 445.6 221.7 445.5C228.3 445.4 235.7 445.6 241.7 445.5C247.6 445.4 252.9 445 257.6 444.9C262.3 444.8 264.6 445.5 270 444.8C275.4 444.1 283.3 442.3 290 440.8C296.6 439.3 303.3 438 309.9 435.8C316.6 433.6 323.2 430.3 329.9 427.8C336.5 425.3 343.9 422.5 349.8 420.8C355.8 419.2 360.5 418.4 365.8 417.8C371.1 417.2 376.5 417.1 381.8 417.2C387.1 417.4 392.7 417.8 397.7 418.8C402.8 419.8 407.3 421.9 412 423.4C416.7 424.8 421.3 426.5 425.9 427.7C430.6 429 435.3 430.1 439.9 430.7C444.6 431.4 449.2 431.7 453.9 431.7C458.5 431.7 463.5 431.4 467.9 430.7C472.2 430.1 475.8 429.1 479.8 427.7C483.8 426.4 487.8 424.6 491.8 422.8C495.8 420.9 499.8 418.9 503.8 416.8C507.8 414.6 511.8 412.3 515.8 409.8C519.8 407.3 523.8 404.8 527.7 401.8C531.7 398.8 535.7 395.1 539.7 391.8C543.7 388.5 547.7 385.2 551.7 381.8C555.7 378.5 559.7 375.2 563.7 371.9C567.7 368.5 571.7 364.9 575.6 361.9C579.6 358.9 583.6 356.4 587.6 353.9C591.6 351.4 595.8 349 599.5 347C603.3 344.9 605.9 343.8 609.9 341.8C614 339.7 619.2 336.8 623.9 334.8C628.5 332.8 633.5 331.5 637.9 329.8C642.2 328.1 645.8 326.5 649.8 324.8C653.8 323.1 657.8 321.3 661.8 319.8C665.8 318.3 669.8 316.8 673.8 315.8C677.8 314.8 681.8 314.3 685.8 313.8C689.8 313.3 693.8 312.8 697.7 312.8C701.7 312.8 705.7 313.3 709.7 313.8C713.7 314.3 717.4 315 721.7 315.8C726 316.7 731 317.8 735.7 318.8C740.3 319.8 745.3 320.8 749.6 321.8C754 322.8 758.3 324.2 761.6 324.8C764.9 325.5 766.2 325.7 769.6 325.7C773 325.7 777.1 325.9 781.8 324.7C786.5 323.6 793.1 321.7 797.7 318.7C802.4 315.7 806.6 311.1 809.7 306.8C812.9 302.4 815.2 297.8 816.7 292.8C818.2 287.8 818.5 282.1 818.7 276.8C818.9 271.5 818.5 266.2 817.7 260.9C816.9 255.5 815.1 250.2 814.1 244.9C813.1 239.6 811.9 234.2 811.7 228.9C811.5 223.6 811.9 217.9 812.7 213C813.5 208 815.3 203 816.7 199C818.1 195 819.2 193.7 821.3 189C823.4 184.3 827.4 174.5 829.5 170.6C831.6 166.7 832.4 167.3 834 165.5C835.6 163.7 837.2 161.6 839 159.5C840.8 157.4 843 154.9 845 153C847 151.1 849.2 149.3 851 148C852.8 146.7 854.3 145.9 856 145.2C857.7 144.4 859.2 144 861 143.5C862.8 143 864.8 142.4 866.5 142C868.2 141.6 870.2 141.2 871 141" fill="none" stroke="#54545a" stroke-width="3.8" stroke-dasharray="17.5 6"/>
<path d="M68 575.8C68.3 575.5 67.7 575.6 70 573.8C72.3 572 77.7 568 82 564.8C86.3 561.7 91.3 558 95.9 554.8C100.6 551.7 106.3 548.2 109.9 545.9C113.6 543.5 114.6 542.9 117.9 540.9C121.2 538.9 125.2 536.6 129.9 533.7C134.5 530.9 140.9 527.1 145.8 523.8C150.8 520.4 155.2 516.8 159.8 513.8C164.5 510.8 169.1 508 173.8 505.8C178.4 503.6 183.4 501.7 187.8 500.8C192.1 499.9 195.4 500.3 199.7 500.4C204.1 500.5 208.7 501.2 213.7 501.4C218.7 501.6 224.4 501.8 229.7 501.8C235 501.8 240.7 501.6 245.6 501.4C250.6 501.2 255.6 501 259.6 500.8C263.7 500.6 264.9 500.3 270 500C275.1 499.7 283.3 499.8 290 499C296.7 498.2 303.3 497.2 310 495.5C316.7 493.8 323.3 491.6 330 489C336.7 486.4 343.3 482.5 350 480C356.7 477.5 364.2 475 370 474C375.8 473 380 473.3 385 474C390 474.7 394.2 476.5 400 478C405.8 479.5 413.3 481.5 420 483C426.7 484.5 433.3 486.2 440 487C446.7 487.8 453.3 488.3 460 488C466.7 487.7 473.2 486.9 480 485C486.8 483.1 494.2 479.6 501 476.5C507.8 473.4 514.3 470.2 521 466.5C527.7 462.8 534.3 458.6 541 454C547.7 449.4 554.3 444 561 439C567.7 434 574.3 429.4 581 424C587.7 418.6 594.3 411.7 601 406.5C607.7 401.3 614.3 397.2 621 393C627.7 388.8 634.3 384.7 641 381.5C647.7 378.3 654.3 375.9 661 374C667.7 372.1 674.3 370.8 681 370C687.7 369.2 694.3 368.8 701 369C707.7 369.2 714.3 370.2 721 371.5C727.7 372.8 734.3 375.1 741 376.5C747.7 377.9 754.3 379.4 761 380C767.7 380.6 774.3 380.6 781 380C787.7 379.4 794.8 378.3 801 376.5C807.2 374.7 813.8 371.1 818.3 369C822.8 366.9 824.3 365.8 827.9 363.7C831.5 361.6 835.9 359.6 839.9 356.5C843.9 353.4 848.3 349.9 851.9 345C855.5 340.1 859.1 331.9 861.4 327C863.7 322.1 864.5 319.4 865.6 315.7C866.7 312 867.6 306.8 868 305" fill="none" stroke="#54545a" stroke-width="3.8" stroke-dasharray="17.5 6"/>
<path d="M865.4 224.3C864.4 231 864.5 237 865.6 243.5" fill="none" stroke="#54545a" stroke-width="3.6"/>
<path d="M68 392.3 L70 391.9 L75.6 390.3 L76.6 384.3 L78.4 388.3 L90 387.1 L101.9 387.9 L109.9 389.9 L114.9 394.9 L119.9 401.9 L124.9 408.8 L129.9 413.8 L133.9 418.2 L134.9 409.8 L136.9 401.9 L139.9 393.9 L144.9 386.9 L149.8 379.9 L155.8 374.9 L161.8 369.9 L167.8 363.9 L173.8 358.9 L181.8 355 L185.6 351.2 L183.2 346.4 L180.8 340.4 L176 335.6 L174.8 329.6 L173.8 324.2 L169.4 322.4 L174.2 320.9 L176 314 L178.4 306.2 L170 306.2 L164 307.4 L158 308 L153.2 305 L147.2 303.2 L143 300.3 L144.8 298.5 L179 298.5 L179.6 302 L179.6 305.6 L185 305.8 L192.8 309.8 L200 306.8 L204.7 303.8 L206.7 301.4 L205.5 298.5 L223.9 298.5 L216.7 301.4 L211.9 302 L217.9 303.2 L222.7 306.8 L226.3 310.4 L229.9 312.8 L225.1 315.2 L223.9 318.8 L221.5 322.4 L223.9 326 L227.5 330.8 L222.7 332 L219.7 335.6 L217.9 340.4 L216.7 345.2 L219.1 347 L223.9 347.6 L226.3 350 L228.7 353.5 L232.3 357.1 L235.9 360.7 L240.7 363.1 L245.5 364.9 L248.5 366.7 L247.3 371.5 L245.5 374.7 L250.6 379.9 L255.6 384.9 L261.6 387.9 L269.6 389.9 L278 391.9 L284 394.3 L290 394.3 L287 390.9 L292 386.9 L297.9 380.9 L301.9 371.9 L304.9 363.9 L308.9 355.9 L313.9 349 L318.9 343 L323.9 338 L328.9 332.4 L327.9 325.7 L333.9 318.7 L339.9 312.8 L347.8 308.8 L355.8 305.8 L363.8 301.8 L368.8 297.8 L373.8 300.8 L377.8 305.8 L384.8 304.8 L388.8 301.8 L383.8 297.8 L381.8 293.8 L387.8 291.8 L392.2 289.8 L390.8 285.8 L387.8 282.8 L381.8 278.8 L373.8 275.8 L363.8 270.8 L356.8 265.8 L353.8 259.9 L354.8 252.9 L357.8 244.9 L362.8 236.9 L364.8 228.9 L367.8 220.9 L373.8 215.9 L381.8 214.9 L387.8 211 L385.8 216.9 L382.8 224.9 L383.8 234.9 L384.8 244.9 L387.8 250.9 L392.8 254.9 L397.7 257.3 L399.7 253.3 L400.7 250.9 L407.7 246.9 L417.7 242.9 L425.7 242.9 L430.7 246.9 L429.7 249.3 L425.7 252.9 L417.7 255.9 L409.7 258.9 L403.7 260.5 L400.7 265.8 L399.7 269.8 L409.7 267.2 L421.7 264.4 L433.7 261.3 L445.6 259.3 L457.6 258.1 L469.6 258.9 L482 262.6 L495.9 264.6 L507.9 266.2 L513.5 267 L510.9 258.9 L513.9 251.7 L519.9 243.7 L523.9 235.8 L526.9 231.4 L531.9 228.8 L537.9 225.8 L542.9 220.8 L549.8 211.8 L553.8 207.4 L558.8 205.8 L565.8 207.8 L571.8 211.8 L575.8 215.8 L577 217.8 L569.8 219 L564.8 221 L563.8 229.8 L562.8 241.8 L563.4 258.9 L563.8 261 L566.8 264 L571.8 266.2 L577.8 264.2 L581.8 260.6 L584.8 259 L585.8 257.7 L587.8 253.7 L589.8 247.7 L593.8 241.8 L597.7 233.8 L597.7 225.8 L594.8 221.8 L592.8 215.8 L594.8 207.8 L597.7 203.8 L600 191 L606 188 L614 185.5 L623 184.5 L630 185 L635 186 L637.5 187 L638.5 190 L640 192 L642 194.5 L647 197 L651 197.7 L653 196.6 L654.5 194.7 L660 194.5 L666 194.7 L666 194.5 L664 197 L662.5 201 L663.5 205 L662.5 209 L662 213 L663.5 216 L665 219.5 L664 221 L660 221.5 L657 223 L656.5 225.5 L659.5 227 L662 229 L663.5 231.5 L666 232.6 L670 232 L673 230.5 L675 228 L676.5 224.5 L677.5 221 L679.5 218 L683 215.5 L687 213.5 L689 210.5 L692 208 L696 207 L700 207 L704 206 L708 204.5 L711 202.5 L713.5 200 L715.5 197 L717 193 L718 189 L718.2 185 L717 182 L716.2 180 L718.9 175.7 L719.9 169.8 L723.9 159.8 L729.9 151.8 L737.9 145.8 L745.8 142.8 L753.8 141.8 L760.8 141 L761 137.8 L755.8 133.8 L749.8 125.8 L746.8 119.9 L746 118.6 L743 112 L740.5 106 L738 100 L736 94 L734 88 L732.5 81 L731.8 75 L732.5 71.5 L734.5 70 L735 67.5 L737 65.5 L738 63 L736.5 59 L736 54 L736.5 49.5 L736.5 46 L736 30 L40 30 L40 392Z" fill="#fff"/>
<path d="M86.4 280.6V297.4" fill="none" stroke="#909090" stroke-width=".5"/>
<path d="M117.6 283V293.8" fill="none" stroke="#222" stroke-width=".9"/>
<path d="M148.8 257.8V298.5" fill="none" stroke="#909090" stroke-width=".5"/>
<path d="M180.0 247V298.5" fill="none" stroke="#909090" stroke-width=".5"/>
<path d="M211.2 263.5V303" fill="none" stroke="#222" stroke-width=".9"/>
<path d="M242.4 253V283" fill="none" stroke="#909090" stroke-width=".5"/>
<path d="M144.7 258.9H206.2" fill="none" stroke="#909090" stroke-width=".5"/>
<path d="M227.1 258.9H254.1" fill="none" stroke="#909090" stroke-width=".5"/>
<path d="M73 296.6H107" fill="none" stroke="#909090" stroke-width=".5"/>
<path d="M135 296.6H145" fill="none" stroke="#909090" stroke-width=".5"/>
<path d="M160 296.6H180" fill="none" stroke="#909090" stroke-width=".5"/>
<path d="M206 296.6H227" fill="none" stroke="#909090" stroke-width=".5"/>
<path d="M679.3 145V168.5" fill="none" stroke="#222" stroke-width=".9"/>
<path d="M648.5 183.0H664" fill="none" stroke="#909090" stroke-width=".5"/>
<path d="M710 106.5H722" fill="none" stroke="#222" stroke-width=".9"/>
<path d="M398.4 226V258" fill="none" stroke="#222" stroke-width=".9"/>
<path d="M619.4 245 L623 244.4 L626 246.8 L627.4 251.6 L627.2 255.2 L624.8 257 L621.2 255.8 L619.4 251.6Z" fill="#fff" stroke="#000" stroke-width="1.2" stroke-linejoin="round"/>
<path d="M629.9 320.8 L635.9 319.8 L638.9 323.8 L637.9 327.8 L631.9 328.8 L629.5 325.4Z" fill="#fff" stroke="#000" stroke-width="1.2" stroke-linejoin="round"/>
<path d="M639.9 344.8 L642.9 345.4 L644.9 348.8 L642.9 351.4 L639.9 349.8 L639.1 347.4Z" fill="#fff" stroke="#000" stroke-width="1.2" stroke-linejoin="round"/>
<path d="M608.9 294.9 L610.5 287.9 L612.9 285.9 L612.3 291.9 L610.9 296.9Z" fill="#fff" stroke="#000" stroke-width="1.2" stroke-linejoin="round"/>
<path d="M599.9 308.2 L602.9 309.8 L603.9 313.8 L600.9 314.8 L598.9 311.8Z" fill="#fff" stroke="#000" stroke-width="1.2" stroke-linejoin="round"/>
<path d="M651.5 425 L655 424 L659 427 L662 431 L664 435 L661 436.5 L657 433 L653 430 L650 428Z" fill="#fff" stroke="#000" stroke-width="1.2" stroke-linejoin="round"/>
<path d="M647 426 L650 427.5 L649.5 430.5 L646.5 429.5Z" fill="#fff" stroke="#000" stroke-width="1.2" stroke-linejoin="round"/>
<path d="M656 503.5 L658.5 503.5 L659 507 L656.5 507.5Z" fill="#fff" stroke="#000" stroke-width="1.2" stroke-linejoin="round"/>
<path d="M677 558 L678.6 558 L678.6 564 L677 564Z" fill="#fff" stroke="#000" stroke-width="1.2" stroke-linejoin="round"/>
<path d="M68 392.3 L70 391.9 L72.8 391 L75.6 390.3 L76.6 388.4 L75.5 386.2 L76.6 384.3 L77.8 386.1 L78.4 388.3 L80.8 388.8 L83 388.1 L85.3 386.9 L87.6 387.1 L90 387.1 L91.9 387.9 L94 387.3 L96 386.7 L97.9 388.3 L100 387.1 L101.9 387.9 L103.9 388.6 L105.9 389.1 L107.9 389.3 L109.9 389.9 L111 392.1 L113.6 392.8 L114.9 394.9 L116 396.7 L117.9 398 L118 400.6 L119.9 401.9 L121.6 403.3 L122.4 405.4 L123.2 407.4 L124.9 408.8 L126.1 411 L128.7 411.7 L129.9 413.8 L131.4 416.5 L133.9 418.2 L134.7 416.2 L134.1 414 L135.1 412 L134.9 409.8 L134.9 407.7 L135.3 405.7 L135.8 403.7 L136.9 401.9 L137.3 399.7 L138.9 398.1 L139.1 395.8 L139.9 393.9 L141.8 392.6 L142.9 390.8 L143.2 388.3 L144.9 386.9 L146 385.1 L146.7 383 L148.7 381.7 L149.8 379.9 L152 378.4 L153.9 376.7 L155.8 374.9 L157.4 372.7 L159.9 371.7 L161.8 369.9 L162.8 368 L165.2 367.3 L166.3 365.4 L167.8 363.9 L169.4 361.7 L172.3 361.2 L173.8 358.9 L176.1 358.6 L177.7 356.7 L180.1 356.6 L181.8 355 L183.4 352.8 L185.6 351.2 L184.4 348.7 L183.2 346.4 L182.5 344.3 L182 342.2 L180.8 340.4 L178.7 339.3 L177 337.7 L176 335.6 L175 333.7 L175 331.6 L174.8 329.6 L174.8 326.8 L173.8 324.2 L171.7 322.9 L169.4 322.4 L171.6 321 L174.2 320.9 L175.2 318.7 L174.9 316.2 L176 314 L175.8 311.8 L177.1 310.1 L178.4 308.3 L178.4 306.2 L176.3 305.5 L174.2 306.3 L172.1 305.7 L170 306.2 L168.1 307.1 L166.1 307.6 L164 307.4 L161.9 306.8 L160 307.5 L158 308 L155.3 307 L153.2 305 L151.1 304.7 L149.3 303.3 L147.2 303.2 L144.3 302 L142.4 299.6 L140.7 297.4 L140 294.8" fill="none" stroke="#000" stroke-width="1.3" stroke-linejoin="round" stroke-linecap="round"/>
<path d="M188 290 L187.1 292.6 L185.6 294.8 L183.2 296.7 L181.4 299 L179.6 302 L179.6 305.6 L182.3 306 L185 305.8 L186.6 307.3 L189.1 307.3 L191 308.4 L192.8 309.8 L194.9 308.2 L197.4 307.4 L200 306.8 L202.6 305.6 L204.7 303.8 L206.7 301.4 L205.1 299.6 L204.7 297.2 L203.6 294.8 L202.4 292.4 L201.2 290" fill="none" stroke="#000" stroke-width="1.3" stroke-linejoin="round" stroke-linecap="round"/>
<path d="M239.5 290 L237.4 291.2 L235 291.9 L233.6 294.2 L231.1 294.8 L229.4 295.9 L227.9 297.3 L225.6 297.3 L223.9 298.4 L221.7 299.9 L219.3 300.7 L216.7 301.4 L214.3 301.2 L211.9 302 L214.1 301.6 L216.1 302.2 L217.9 303.2 L220.5 304.7 L222.7 306.8 L224.2 309 L226.3 310.4 L228.2 311.5 L229.9 312.8 L227.4 313.8 L225.1 315.2 L223.9 318.8 L222.2 320.2 L221.5 322.4 L223.1 323.9 L223.9 326 L225.8 328.3 L227.5 330.8 L225.3 331.9 L222.7 332 L220.9 333.5 L219.7 335.6 L219.6 338.2 L217.9 340.4 L216.9 342.7 L216.7 345.2 L219.1 347 L221.6 347 L223.9 347.6 L226.3 350 L227.4 351.8 L228.7 353.5 L230.9 355 L232.3 357.1 L233.6 359.5 L235.9 360.7 L238.5 361.7 L240.7 363.1 L243.1 364 L245.5 364.9 L248.5 366.7 L247.2 369 L247.3 371.5 L245.5 374.7 L247.1 376.5 L249.1 377.9 L250.6 379.9 L252.6 381.2 L253.5 383.7 L255.6 384.9 L257.5 386.2 L259.5 387.1 L261.6 387.9 L263.6 388.5 L265.4 389.6 L267.8 388.8 L269.6 389.9 L271.7 390.2 L273.7 391.4 L275.8 391.6 L278 391.9 L279.9 392.9 L281.9 393.7 L284 394.3 L287 394.2 L290 394.3 L288.5 392.5 L287 390.9 L288.6 389.5 L290.8 388.8 L292 386.9 L293.2 385.1 L294.7 383.6 L296.2 382.2 L297.9 380.9 L298.4 378.4 L300.1 376.5 L301.1 374.2 L301.9 371.9 L302 369.7 L303 367.8 L304.8 366.2 L304.9 363.9 L305.6 361.8 L307.2 360.1 L307.8 357.9 L308.9 355.9 L309.7 353.9 L312.1 352.9 L312.8 350.8 L313.9 349 L315.2 346.7 L317.3 345.1 L318.9 343 L320.3 341.1 L322.6 340 L323.9 338 L324.9 335.6 L327.1 334.2 L328.9 332.4 L328.8 330.1 L328.6 327.9 L327.9 325.7 L328.9 323.5 L330.3 321.7 L332.3 320.4 L333.9 318.7 L335.5 317.4 L336.8 315.7 L337.8 313.7 L339.9 312.8 L341.7 311.4 L344 311.1 L345.9 309.8 L347.8 308.8 L350.1 308.7 L351.6 306.5 L353.9 306.7 L355.8 305.8 L357.9 304.9 L359.8 303.7 L361.5 302.1 L363.8 301.8 L365.3 300.3 L366.9 298.9 L368.8 297.8 L371.6 298.8 L373.8 300.8 L374.7 302.8 L377 303.7 L377.8 305.8 L380 304.7 L382.5 305.8 L384.8 304.8 L387.2 303.9 L388.8 301.8 L387.3 300.2 L385.4 299.1 L383.8 297.8 L383.1 295.6 L381.8 293.8 L383.5 292.4 L385.6 292.1 L387.8 291.8 L390 290.8 L392.2 289.8 L390.8 288 L390.8 285.8 L389.7 283.8 L387.8 282.8 L385.9 281.4 L383.5 280.5 L381.8 278.8 L379.8 277.9 L378 276.8 L375.9 276.3 L373.8 275.8 L372.1 274.2 L370 273.4 L367.8 272.8 L366.1 271.2 L363.8 270.8 L362.4 269.1 L360.1 268.6 L358.3 267.5 L356.8 265.8 L355.3 264.1 L355.2 261.7 L353.8 259.9 L354.7 257.6 L354.6 255.2 L354.8 252.9 L356.4 251.2 L356.1 248.8 L356.6 246.7 L357.8 244.9 L358.9 242.8 L360.6 241.1 L361.5 238.9 L362.8 236.9 L364 235.1 L363.6 232.9 L364.9 231.1 L364.8 228.9 L365.9 227.1 L366.3 224.9 L367.8 223.2 L367.8 220.9 L370 219.5 L372.2 218.1 L373.8 215.9 L375.9 216.5 L377.8 215.8 L379.8 215.1 L381.8 214.9 L383.6 213.3 L386.2 212.9 L387.8 211 L387.3 213 L385.7 214.7 L385.8 216.9 L385.4 219.1 L384.7 221.1 L382.8 222.7 L382.8 224.9 L382.7 227 L383.8 228.9 L383.4 230.9 L384 232.9 L383.8 234.9 L384.1 236.9 L383.9 238.9 L384.1 240.9 L383.9 243 L384.8 244.9 L385 247.3 L387 248.7 L387.8 250.9 L389.6 252 L390.6 254.2 L392.8 254.9 L395.2 256.1 L397.7 257.3" fill="none" stroke="#000" stroke-width="1.3" stroke-linejoin="round" stroke-linecap="round"/>
<path d="M399.7 253.3 L400.7 250.9 L402.1 249.2 L404.4 249.2 L405.7 247.4 L407.7 246.9 L409.7 246 L411.8 245.6 L413.9 245 L415.7 243.6 L417.7 242.9 L420.4 242.9 L423 242.1 L425.7 242.9 L427.4 244.1 L429.2 245.4 L430.7 246.9 L429.7 249.3 L427.3 250.6 L425.7 252.9 L423.7 253.5 L421.5 254 L419.7 255.2 L417.7 255.9 L415.9 257.1 L413.5 256.8 L411.5 257.6 L409.7 258.9 L407.8 259.6 L405.9 260.6 L403.7 260.5 L402.7 262.2 L401.7 264.1 L400.7 265.8 L399.8 267.7 L399.7 269.8 L401.8 269.5 L403.7 268.8 L405.8 268.4 L407.7 267.6 L409.7 267.2 L411.5 266 L413.5 265.6 L415.9 266.6 L417.8 265.9 L419.6 264.6 L421.7 264.4 L423.9 264.6 L425.7 263.4 L427.5 262.2 L429.8 262.9 L431.7 261.9 L433.7 261.3 L435.8 261.6 L437.7 260.9 L439.5 259.6 L441.7 260.1 L443.7 260.1 L445.6 259.3 L447.7 259.7 L449.6 258.6 L451.6 258.7 L453.7 258.8 L455.6 257.7 L457.6 258.1 L459.6 258.8 L461.6 258.8 L463.7 257.7 L465.6 258.7 L467.6 258.5 L469.6 258.9 L471.8 259 L473.7 260.3 L475.6 261.5 L477.8 261.4 L480.1 261.3 L482 262.6 L484 262.9 L485.9 263.6 L487.9 264.2 L489.9 264.1 L492.1 263.2 L493.8 265.1 L495.9 264.6 L497.9 265 L500 264.4 L502 264.8 L504 265 L505.9 266.2 L507.9 266.2 L510.8 266 L513.5 267 L513.4 264.8 L511.6 263.2 L511.6 260.9 L510.9 258.9 L511.8 256.5 L512.2 253.8 L513.9 251.7 L514.7 249.2 L517.5 248.2 L519.1 246.2 L519.9 243.7 L520.3 241.5 L522.3 239.9 L523.6 238.1 L523.9 235.8 L526 234 L526.9 231.4 L529.7 230.7 L531.9 228.8 L533.7 227.5 L536 227.1 L537.9 225.8 L539.5 224.1 L541.7 223 L542.9 220.8 L544.5 219.2 L546.1 217.6 L547.5 215.8 L548.3 213.5 L549.8 211.8 L552.1 209.9 L553.8 207.4 L556.1 206 L558.8 205.8 L561.3 206 L563.3 207.9 L565.8 207.8 L567.9 209 L569.6 210.7 L571.8 211.8 L573.7 213.9 L575.8 215.8 L577 217.8 L574.7 218.6 L572.2 218.5 L569.8 219 L567 219.3 L564.8 221 L564.9 223.2 L564.6 225.4 L564.6 227.6 L563.8 229.8 L564.2 231.8 L562.9 233.7 L563 235.7 L562.4 237.7 L562.7 239.7 L562.8 241.8 L562.1 243.9 L563.4 246 L563.6 248.2 L563.6 250.3 L563.4 252.5 L562.4 254.7 L563.8 256.8 L563.4 258.9" fill="none" stroke="#000" stroke-width="1.3" stroke-linejoin="round" stroke-linecap="round"/>
<path d="M563.8 261 L565.3 262.5 L566.8 264 L569.4 264.8 L571.8 266.2 L573.5 264.8 L575.9 265.1 L577.8 264.2 L579.5 262 L581.8 260.6 L584.8 259 L585.8 257.7 L586.4 255.5 L587.8 253.7 L588.3 251.7 L589.3 249.8 L589.8 247.7 L591.8 246.2 L592.4 243.7 L593.8 241.8 L595.5 240.1 L596.5 238.1 L596.4 235.6 L597.7 233.8 L597 231.1 L597.2 228.4 L597.7 225.8 L596.7 223.4 L594.8 221.8 L594.2 219.7 L594.1 217.6 L592.8 215.8 L594 214 L594 211.9 L594.3 209.8 L594.8 207.8 L595.7 205.4 L597.7 203.8 L597.3 201.6 L599 199.6 L599.2 197.5 L599.7 195.4 L599.7 193.2 L600 191 L602.1 190.3 L604.1 189.2 L606 188 L608.2 188 L609.8 186.1 L612 186.1 L614 185.5 L616.2 184.9 L618.6 185.6 L620.8 185.4 L623 184.5 L625.4 184.2 L627.7 184.1 L630 185 L632.6 185.1 L635 186 L637.5 187 L638.5 190 L640 192 L642 194.5 L644.6 195.5 L647 197 L648.9 197.8 L651 197.7 L653 196.6 L654.5 194.7" fill="none" stroke="#000" stroke-width="1.3" stroke-linejoin="round" stroke-linecap="round"/>
<path d="M666 194.5 L665 196 L663.5 199 L663.7 201.2 L662.5 203 L662.6 205 L663 207 L664.3 205.1 L663.7 202.8 L664.6 200.8 L664.8 198.6 L665.9 196.7 L666 194.5 L664 197 L663 198.9 L662.5 201 L662.8 203 L663.5 205 L662.2 206.8 L662.5 209 L661.9 211 L662 213 L663.5 216 L665 219.5 L664 221 L662 221.5 L660 221.5 L657 223 L656.5 225.5 L659.5 227 L662 229 L663.5 231.5 L666 232.6 L668 232.1 L670 232 L673 230.5 L675 228 L676.5 224.5 L677.5 221 L679.5 218 L681.4 216.9 L683 215.5 L685.1 214.8 L687 213.5 L689 210.5 L692 208 L693.9 207 L696 207 L698 207.5 L700 207 L702 206.4 L704 206 L706.2 205.7 L708 204.5 L711 202.5 L713.5 200 L715.5 197 L715.6 194.8 L717 193 L717.2 190.9 L718 189 L717.3 187 L718.2 185 L717 182 L716.2 180 L717.4 177.8 L718.9 175.7 L718.8 173.7 L719.3 171.7 L719.9 169.8 L720.3 167.6 L722.1 166 L722.5 163.9 L722.9 161.7 L723.9 159.8 L725.4 157.8 L726.5 155.5 L729 154.2 L729.9 151.8 L732.3 150.8 L733.9 148.9 L735.5 146.8 L737.9 145.8 L740.1 145.8 L741.7 143.9 L743.6 142.9 L745.8 142.8 L747.8 142.4 L749.8 142.1 L751.9 142.7 L753.8 141.8 L756.1 140.9 L758.4 140.5 L760.8 141 L761 137.8 L759.2 136.6 L757.1 135.8 L755.8 133.8 L754.6 131.7 L752.8 129.8 L751.8 127.5 L749.8 125.8 L749.5 123.5 L747.4 122.1 L746.8 119.9 L746 118.6 L745.4 116.2 L744 114.2 L743 112 L742.9 109.7 L740.7 108.3 L740.5 106 L739.6 104 L739.6 101.7 L738 100 L736.6 98.2 L736.4 96.1 L736 94 L735 92.1 L734.4 90.1 L734 88 L734.3 85.5 L732.5 83.4 L732.5 81 L732.8 78.9 L731.6 77 L731.8 75 L732.5 71.5 L734.5 70 L735 67.5 L737 65.5 L738 63 L737.8 60.8 L736.5 59 L735.7 56.6 L736 54 L735.6 51.7 L736.5 49.5 L736.5 46" fill="none" stroke="#000" stroke-width="1.3" stroke-linejoin="round" stroke-linecap="round"/>
<path d="M397.7 257.3 L395.3 248.9 L392.8 242.9 L395.7 234.9 L397.7 226.9 L396.1 223.9" fill="none" stroke="#000" stroke-width="1.3" stroke-linejoin="round" stroke-linecap="round"/>
<path d="M68 280.6 L71 281.2 L73.1 281.2 L75.2 281.8 L77.9 281.2 L80 279.4 L82.1 277.4 L84.8 276.4 L86.6 274 L89 272.2 L90.3 274.2 L91.4 276.4 L93.8 279.4 L96.2 277 L97.2 278.8 L97.7 280.9 L98 283 L101 281.2 L104 281.2 L106.2 282.3 L108.8 282.4 L111.8 283 L112.6 281.2 L113.6 279.4 L113.8 277.2 L115.4 275.8 L118.4 273.4 L120 271.9 L120.8 269.8 L118.3 269.9 L116 269.2 L113.5 269 L111.2 269.8 L108.8 269.2 L110.2 267.4 L112.4 266.8 L114.8 266.4 L117.2 265.6 L119.5 266 L122 266.2 L124.3 267.2 L126.8 268 L128.9 267.8 L130.4 266.2 L131.5 262.6 L133.6 261.7 L135.1 260.2 L136.8 258.5 L138.7 257.2 L137.5 255.1 L136.3 253 L135.1 250.6 L137.7 250.5 L139.9 251.8 L142.4 251.7 L144.7 251.2 L147.2 251.3 L149.5 251.8 L151.7 250.3 L154.3 250 L156.2 249.3 L157.9 248.2 L160 247 L161.5 245.2 L163.9 247 L166.3 246.3 L168.7 247 L171.2 247 L173.5 246.4 L176 246.1 L178.3 245.2 L180.8 244.8 L183.1 245.8 L185.4 246.8 L187.9 247 L185.7 247.6 L183.6 247.7 L181.5 246.3 L179.3 246.1 L177.2 246.8 L175 245.9 L172.9 246.5 L170.7 246 L168.6 246.7 L166.4 246.6 L164.3 245.8 L162.1 246.3 L160 246.4 L162.4 246.6 L164.8 247 L166.9 247.4 L168.8 247 L170.8 246.4 L173.3 246.2 L175.5 245 L178 244.6 L179.8 245.9 L182 245.9 L184 246.4 L186.2 246.7 L187.9 248.1 L190 248.8 L192.3 250.1 L194.8 251.2 L197.5 252.5 L199.6 254.8 L202.3 256.1 L204.4 258.4 L206.4 260 L208.6 261.4 L211.6 262.3 L213.9 262.9 L216.4 263.2 L218.2 261.9 L220.4 262 L222.4 261.4 L224.7 260.3 L227.1 259.6 L228.9 256.6 L231.8 255.7 L234.3 254.2 L236.4 254 L238.2 252.5 L240.3 252.7 L243.9 252.4 L246.3 253.4 L248.7 254.2 L252.3 255.4 L254.2 256.8 L254.7 259 L255.5 262 L254.7 265 L254 267.6 L252.3 269.8 L250.5 271.9 L249.9 274.6 L247.7 276.7 L246.3 279.4 L244.4 281.6 L242.7 284.2 L241.4 286 L239.2 287 L237.9 289 L236 291.3 L233.1 292.6 L230.7 294 L228.3 295.6 L226.6 297 L224.6 297.9 L222.4 297.9 L219.6 298.5 L217.6 300.3 L215.3 301.8 L212.8 302.7 L211.6 303.6" fill="none" stroke="#000" stroke-width="1.3" stroke-linejoin="round" stroke-linecap="round"/>
<path d="M70 335.8 L72 334.8 L74.1 334 L76.1 333 L78 331.8 L79 329.4 L80.3 327.3 L82.3 325.7 L84 323.8 L83.8 321.8 L84.9 319.9 L84.9 317.9 L84.9 315.8 L85 313.8 L83.6 311.7 L83 309.3 L84.8 308.1 L82.4 307.4 L80 306.9 L78.4 304.9 L76.4 303.3 L74.7 301.9 L74 299.7 L71 297.4 L68 296.8" fill="none" stroke="#000" stroke-width="1.3" stroke-linejoin="round" stroke-linecap="round"/>
<path d="M84.8 308.1 L87.8 306.9 L90.8 304.5 L92.7 303.6 L94.4 302.1 L96.4 301.2 L98 299.7 L100.2 299.2 L101.6 297.4 L103.1 295.7 L105.2 295 L107.6 292.6 L111.2 291.4 L113.9 291.9 L116 293.8 L119.6 295 L122 295.2 L124.4 294.4 L126 293.2 L128 292.6 L129 290.6 L130.4 289 L132.7 291.4 L132.8 293.9 L133.9 296.2 L137.5 295 L139.6 295.7 L141.1 297.4 L141.8 299.5 L143.5 300.9 L145.3 302.1 L147.1 303.3 L149.9 303.9 L151.9 305.7 L154 307.6 L156.7 308.1 L158.5 309.4 L160.3 310.5 L162.6 309.2 L165.1 309.3 L167.8 308.7 L169.9 306.9 L172.4 307.1 L174.7 306.3 L178.4 306.2" fill="none" stroke="#000" stroke-width="1.3" stroke-linejoin="round" stroke-linecap="round"/>
<path d="M211.6 263.8 L209.8 265.9 L208 268 L206 269.9 L204.4 272.2 L201.8 273.7 L199.6 275.8 L198.3 278.5 L196 280.6 L194.8 283 L192.4 284.2 L191.4 286.7 L190 289 L189.1 291.5 L187.6 293.8 L185.4 295.5 L184 297.9 L180.4 299.1 L179.2 302.1 L179.8 305.5" fill="none" stroke="#000" stroke-width="1.3" stroke-linejoin="round" stroke-linecap="round"/>
<path d="M212.2 265 L213.4 268.6 L212.3 270.3 L211.6 272.2 L210.5 274.3 L209.2 276.4 L207.3 278.7 L205.6 281.2 L204.8 283.2 L202.7 284.5 L202 286.6 L201.1 288.9 L201.4 291.4 L202 293.8 L203.2 296.2 L204.8 297.6 L205.6 299.7 L206.6 301.7" fill="none" stroke="#000" stroke-width="1.3" stroke-linejoin="round" stroke-linecap="round"/>
<path d="M132.7 275.2 L135.2 274.6 L137.5 274 L140.1 273.6 L142.3 272.2 L144.9 272.3 L147.1 271 L149.5 270.3 L151.9 270.4 L152.5 273.4 L151.2 275 L150.7 277 L150.7 279.4 L151.3 281.8 L149.5 284.2 L147.9 283 L145.9 282.4 L142.3 283 L139.9 286 L138.7 283 L139.9 279.4 L136.3 278.8 L133.3 280 L131.5 277.6Z" fill="none" stroke="#000" stroke-width="1.3" stroke-linejoin="round" stroke-linecap="round"/>
<path d="M124.4 278.8 L127.4 280.6 L124.4 282 L121.4 280.6Z" fill="none" stroke="#000" stroke-width="1.0" stroke-linejoin="round" stroke-linecap="round"/>
<path d="M115.4 274.6 L118.4 276.4 L119.6 280.6 L117.8 283.6 L114.8 282.4 L113.6 278.2Z" fill="none" stroke="#000" stroke-width="1.6" stroke-linejoin="round" stroke-linecap="round"/>
<path d="M123.2 285.4 L122 291.4" fill="none" stroke="#000" stroke-width="1.8" stroke-linejoin="round" stroke-linecap="round"/>
<path d="M85.7 289 L87.2 287.9 L88.6 289 L87.2 290Z" fill="none" stroke="#000" stroke-width="1.0" stroke-linejoin="round" stroke-linecap="round"/>
<path d="M88.7 292.6 L90.2 291.5 L91.6 292.6 L90.2 293.6Z" fill="none" stroke="#000" stroke-width="1.0" stroke-linejoin="round" stroke-linecap="round"/>
<path d="M94.1 287.8 L95.6 286.7 L97 287.8 L95.6 288.8Z" fill="none" stroke="#000" stroke-width="1.0" stroke-linejoin="round" stroke-linecap="round"/>
<path d="M98.3 286.6 L99.8 285.5 L101.2 286.6 L99.8 287.6Z" fill="none" stroke="#000" stroke-width="1.0" stroke-linejoin="round" stroke-linecap="round"/>
<path d="M101.3 291.4 L102.8 290.3 L104.2 291.4 L102.8 292.4Z" fill="none" stroke="#000" stroke-width="1.0" stroke-linejoin="round" stroke-linecap="round"/>
<path d="M83.3 302.1 L84.8 301.1 L86.2 302.1 L84.8 303.2Z" fill="none" stroke="#000" stroke-width="1.0" stroke-linejoin="round" stroke-linecap="round"/>
<path d="M80.9 297.4 L82.4 296.3 L83.8 297.4 L82.4 298.4Z" fill="none" stroke="#000" stroke-width="1.0" stroke-linejoin="round" stroke-linecap="round"/>
<path d="M72.6 290.2 L74 289.1 L75.4 290.2 L74 291.2Z" fill="none" stroke="#000" stroke-width="1.0" stroke-linejoin="round" stroke-linecap="round"/>
<path d="M76.2 292.6 L77.6 291.5 L79 292.6 L77.6 293.6Z" fill="none" stroke="#000" stroke-width="1.0" stroke-linejoin="round" stroke-linecap="round"/>
<path d="M97.7 295 L99.2 293.9 L100.6 295 L99.2 296Z" fill="none" stroke="#000" stroke-width="1.0" stroke-linejoin="round" stroke-linecap="round"/>
<path d="M159.1 260.8 L160.3 259.9 L161.5 260.8 L160.3 261.6Z" fill="none" stroke="#000" stroke-width="1.5" stroke-linejoin="round" stroke-linecap="round"/>
<path d="M162.5 259.6 L163.9 258.6 L165.4 259.6 L163.9 260.6Z" fill="none" stroke="#000" stroke-width="1.5" stroke-linejoin="round" stroke-linecap="round"/>
<path d="M166.1 258.4 L167.5 257.4 L169 258.4 L167.5 259.4Z" fill="none" stroke="#000" stroke-width="1.5" stroke-linejoin="round" stroke-linecap="round"/>
<path d="M170 259 L171.1 258.2 L172.2 259 L171.1 259.7Z" fill="none" stroke="#000" stroke-width="1.5" stroke-linejoin="round" stroke-linecap="round"/>
<path d="M161.3 266.8 L162.1 266.2 L163 266.8 L162.1 267.4Z" fill="none" stroke="#000" stroke-width="1.5" stroke-linejoin="round" stroke-linecap="round"/>
<path d="M176.6 256.8 L177.1 256.5 L177.6 256.8 L177.1 257.2Z" fill="none" stroke="#000" stroke-width="1.5" stroke-linejoin="round" stroke-linecap="round"/>
<path d="M184.4 256.6 L184.9 256.2 L185.4 256.6 L184.9 256.9Z" fill="none" stroke="#000" stroke-width="1.5" stroke-linejoin="round" stroke-linecap="round"/>
<path d="M161.2 260.8 L162.4 259.9 L163.6 260.8 L162.4 261.6Z" fill="none" stroke="#000" stroke-width="1.5" stroke-linejoin="round" stroke-linecap="round"/>
<path d="M164.6 259 L166 258 L167.4 259 L166 260Z" fill="none" stroke="#000" stroke-width="1.5" stroke-linejoin="round" stroke-linecap="round"/>
<path d="M168.5 258.4 L169.6 257.6 L170.7 258.4 L169.6 259.1Z" fill="none" stroke="#000" stroke-width="1.5" stroke-linejoin="round" stroke-linecap="round"/>
<path d="M161.1 266.8 L161.8 266.3 L162.5 266.8 L161.8 267.3Z" fill="none" stroke="#000" stroke-width="1.5" stroke-linejoin="round" stroke-linecap="round"/>
<path d="M184.1 256.8 L184.6 256.5 L185.1 256.8 L184.6 257.2Z" fill="none" stroke="#000" stroke-width="1.5" stroke-linejoin="round" stroke-linecap="round"/>
<path d="M175.2 257.5 L175.6 257.3 L175.9 257.5 L175.6 257.8Z" fill="none" stroke="#000" stroke-width="1.5" stroke-linejoin="round" stroke-linecap="round"/>
<path d="M654.5 194.7 L652 192 L649 189.5 L646.5 187.5 L644.9 186.1 L644.5 184 L644.9 182 L645.5 180 L644.1 178.2 L644 176 L645.5 173 L648.5 172 L647 169 L645.5 167.5 L647.5 166.9 L649 165.5 L651 164.5 L653 163.5 L656 161.5 L658.5 159.5 L657 157 L656.5 154 L656 150.5 L656 148 L657.5 146 L660 144.5 L662.2 144.2 L664 145.5 L667 147 L670 146 L672 144 L674.5 142 L676.7 142.6 L679 142.5 L681.2 142.7 L683 144 L684.2 145.8 L686 147 L687.1 149.1 L688.5 151 L689.7 153 L691 155 L690.5 157.5 L688.4 158 L687 159.5 L684.5 162.5 L683.1 164.1 L682 166 L679 168.5 L677 169.1 L675 170 L671.5 171.5 L670 174.5 L671.5 178 L669 179.5 L666 180.5 L664 183.5 L662.1 184.4 L660 185 L657.8 185.7 L655.5 185.5 L657.8 185.1 L660 186 L662 186.6 L664 187.5 L666 190 L666.5 193 L666 194.7" fill="none" stroke="#000" stroke-width="1.3" stroke-linejoin="round" stroke-linecap="round"/>
<path d="M708.5 90 L711 91 L714 91.5 L716.5 93 L718 96 L718.9 98 L720 100 L720.6 102.2 L722 104 L722.6 106.2 L724 108 L725.5 111 L726 113 L724.5 114.5 L723 113.5 L722 111.5 L720 110 L718 109.5 L716 110.5 L713.5 110 L711.5 108.5 L712.5 107 L715 106.5 L714 106 L712.2 104.9 L710 105 L707.4 104.9 L705 104 L701.5 102.5 L700 100.5 L700.5 98.5 L702.5 98 L704.5 100 L708 101 L710 101.8 L712 101 L714.5 99.5 L715.5 97 L714 94.5 L711 93 L709 92Z" fill="none" stroke="#000" stroke-width="1.3" stroke-linejoin="round" stroke-linecap="round"/>
<path d="M728.5 91.5 L729.8 91.5 L730.8 95 L731.6 97.4 L732 100 L733 102.5 L734 105 L735.1 106.9 L736 109 L737.1 111 L738 113 L738.5 115 L736.5 114.8 L734.5 113.5 L734 110.5 L732.5 108 L731 106.5 L730.6 104.3 L730.5 102 L730.1 99.9 L729.2 98 L728.4 96.1 L728.5 94Z" fill="none" stroke="#000" stroke-width="1.3" stroke-linejoin="round" stroke-linecap="round"/>
<path d="M747 129.4 L752.4 134.2 L757.1 136.6 L760.7 138.1" fill="none" stroke="#000" stroke-width="2.2" stroke-linejoin="round" stroke-linecap="round"/>
<path d="M292 218.9 L292.7 216.8 L293.4 214.7 L295 213 L297.6 211.7 L299.9 210 L301.5 212 L301.4 214.7 L299.9 216.9 L298.9 219.2 L298.2 221.7 L296.9 223.9 L294 222.9Z" fill="none" stroke="#000" stroke-width="1.3" stroke-linejoin="round" stroke-linecap="round"/>
<path d="M447.6 248.9 L449.4 247 L451.6 245.9 L454.3 246.2 L456.6 244.9 L458.6 247.9 L457.6 249.8 L455.6 250.9 L455.8 253.4 L456.6 255.9 L452.6 255.9 L451 253.6 L450.6 250.9Z" fill="none" stroke="#000" stroke-width="1.3" stroke-linejoin="round" stroke-linecap="round"/>
<path d="M134.5 250.6 L136.9 253 L139.9 254.2 L142.9 253 L145.9 254.2 L147.7 253.2 L149.5 252.4 L147.1 251.2 L145 252.7 L143.5 254.8 L140.5 256.6 L138.7 258.4 L141.1 255.4 L143.2 254.5 L144.7 253" fill="none" stroke="#000" stroke-width="2.0" stroke-linejoin="round" stroke-linecap="round"/>
<path d="M109.4 267.4 L111.4 266.1 L113.6 265 L115.9 264.3 L118.4 264.4 L120.3 263.1 L122.6 263.8 L124.4 266.8 L120.8 268 L118.8 266.6 L116.6 267.1 L114.9 269.1 L112.4 268.6 L110 270" fill="none" stroke="#000" stroke-width="1.7" stroke-linejoin="round" stroke-linecap="round"/>
<path d="M113.6 277 L116.6 275.8 L119 278.8 L118.1 280.6 L117.2 282.4 L114.2 281.2 L115.4 278.8 L117.8 277 L116 274.6 L114.2 273.4" fill="none" stroke="#000" stroke-width="1.9" stroke-linejoin="round" stroke-linecap="round"/>
<path d="M130.9 262 L133.3 263.8 L136.3 263.2 L137.5 265.6 L134.5 266.8 L132.1 265 L133.9 262.8" fill="none" stroke="#000" stroke-width="1.7" stroke-linejoin="round" stroke-linecap="round"/>
<path d="M71 279.4 L72.8 280.8 L73.4 283 L71.4 284.2 L71.6 286.6 L74 289 L74 291.2 L72.2 292.6 L74.6 291.4 L74.2 289.3 L72.8 287.8 L75.2 285.4" fill="none" stroke="#000" stroke-width="1.6" stroke-linejoin="round" stroke-linecap="round"/>
<path d="M84.8 287.8 L86.6 288.6 L88.4 289.6 L87.2 292.6 L90.8 293.8 L93.8 291.4 L92 288.4 L94.2 287.8 L96.2 286.6 L99.2 288.4 L98 291.4 L101.6 292.6 L104 289.6 L102.8 287.8 L101 286.6" fill="none" stroke="#000" stroke-width="1.5" stroke-linejoin="round" stroke-linecap="round"/>
<path d="M76.4 295 L78.4 295.8 L80 297.4 L82.3 297.8 L83.6 299.7 L81.2 302.1 L82.8 303.4 L84.8 303.9 L87.8 302.1 L86 299.1" fill="none" stroke="#000" stroke-width="1.5" stroke-linejoin="round" stroke-linecap="round"/>
<path d="M118.4 274.6 L120.8 271 L122.6 273.4" fill="none" stroke="#000" stroke-width="1.5" stroke-linejoin="round" stroke-linecap="round"/>
<path d="M139.9 283 L141.7 285.4 L144.7 283.6 L147.1 284.8 L150.1 283.6" fill="none" stroke="#000" stroke-width="1.4" stroke-linejoin="round" stroke-linecap="round"/>
<path d="M128 287.8 L129.8 290.8 L132.7 289 L134.5 292.6 L137.5 291.4 L139.9 294.4" fill="none" stroke="#000" stroke-width="1.4" stroke-linejoin="round" stroke-linecap="round"/>
<path d="M159.1 260.2 L162.1 259 L165.1 260.8 L168.1 258.4 L171.1 259.6 L173.5 257.8" fill="none" stroke="#000" stroke-width="1.8" stroke-linejoin="round" stroke-linecap="round"/>
<path d="M373.8 300.8 L376.6 301.1 L378.8 302.8 L381.7 302.9 L383.8 300.8 L386.4 301.5 L387.8 303.8 L385.9 304.9 L384.8 306.8 L381.9 306.8 L379.8 304.8 L378.1 306.4 L375.8 306.8 L375.2 304.3 L372.8 303.8" fill="none" stroke="#000" stroke-width="1.8" stroke-linejoin="round" stroke-linecap="round"/>
<path d="M381.8 292.8 L385.8 291.2 L389.8 292.4 L392.2 289.8 L388.8 288.4" fill="none" stroke="#000" stroke-width="1.6" stroke-linejoin="round" stroke-linecap="round"/>
<path d="M656.5 146 L659 148 L662 147 L665 149.5 L668 147.5 L670 149.5 L667.9 150.1 L666 151 L664 150.7 L662 150 L658.5 151 L657 154" fill="none" stroke="#000" stroke-width="1.7" stroke-linejoin="round" stroke-linecap="round"/>
<path d="M193.4 314.6 L195.7 313.8 L196.5 316.2 L194.2 317.4Z" fill="#000"/>
<path d="M176 348.2 L179.6 347.3 L185 350 L181.4 350.6 L177.2 350Z" fill="#000"/>
<path d="M282 393.5 L287 392.3 L291.6 394.3 L288 396.3 L283 395.9Z" fill="#000"/>
</g>
<rect x="70.8" y="49.0" width="795.7" height="616.5" fill="none" stroke="#111" stroke-width="1.4"/>
<g clip-path="url(#fr)">
<text class="cl" x="808.2" y="63">16</text>
<text class="cl" x="811.8" y="76.8">17</text>
<text class="cl" x="796.8" y="91.8">19</text>
<text class="cl" x="782.4" y="97.2">18</text>
<text class="cl" x="801.6" y="100.2">20</text>
<text class="cl" x="747.6" y="166.6">19</text>
<text class="cl" x="763.8" y="231.3">21</text>
<text class="cl" x="694" y="230.3">20</text>
<text class="cl" x="694.8" y="257.4">21</text>
<text class="cl" x="727.7" y="295.3">22</text>
<text class="cl" x="740.7" y="310.8">23</text>
<text class="cl" x="621.7" y="206.2">20</text>
<text class="cl" x="642.7" y="207.2">19</text>
<text class="cl" x="541.9" y="222.2">20</text>
<text class="cl" x="631.7" y="241.2">23</text>
<text class="cl" x="553.6" y="287.3">23</text>
<text class="cl" x="581" y="285.3">23</text>
<text class="cl" x="518.7" y="298.3">23</text>
<text class="cl" x="587" y="305.3">24</text>
<text class="cl" x="590" y="314.8">24</text>
<text class="cl" x="398.7" y="247.3">18</text>
<text class="cl" x="383.2" y="284.2">19</text>
<text class="cl" x="434.7" y="291.2">21</text>
<text class="cl" x="479.8" y="300.3">22</text>
<text class="cl" x="412.1" y="317.2">20</text>
<text class="cl" x="355.8" y="337.4">21</text>
<text class="cl" x="461.6" y="351.4">23</text>
<text class="cl" x="438.7" y="370.3">22</text>
<text class="cl" x="178.4" y="319.4">20</text>
<text class="cl" x="205.9" y="319.4">21</text>
<text class="cl" x="171.6" y="373.4">22</text>
<text class="cl" x="197.9" y="392">24</text>
<text class="cl" x="172.8" y="410.6">23</text>
<text class="cl" x="241.7" y="420.4">24</text>
<text class="cl" x="320.9" y="425.2">25</text>
<text class="cl" x="375.8" y="406.3">24</text>
<text class="cl" x="244.7" y="476.3">25</text>
<text class="cl" x="401" y="487.9">25</text>
<text class="cl" x="76" y="492.2">24</text>
<text class="cl" x="150.8" y="520.2">25</text>
<text class="cl" x="228.7" y="552.1">24</text>
<text class="cl" x="339.6" y="544.9">24</text>
<text class="cl" x="341.3" y="590.4">24</text>
<text class="cl" x="656.5" y="429.4">24</text>
<text class="cl" x="854" y="435.9">24</text>
<text class="cl" x="829.5" y="535.9">24</text>
</g>
<text class="ax" x="97" y="43.0">134</text>
<circle cx="133.9" cy="30.1" r="1.75" fill="none" stroke="#000" stroke-width=".75"/>
<text class="ax" x="97" y="685.4">134</text>
<circle cx="133.9" cy="672.5" r="1.75" fill="none" stroke="#000" stroke-width=".75"/>
<text class="ax" x="190.6" y="43.0">135</text>
<circle cx="227.5" cy="30.1" r="1.75" fill="none" stroke="#000" stroke-width=".75"/>
<text class="ax" x="190.6" y="685.4">135</text>
<circle cx="227.5" cy="672.5" r="1.75" fill="none" stroke="#000" stroke-width=".75"/>
<text class="ax" x="284.2" y="43.0">136</text>
<circle cx="321.1" cy="30.1" r="1.75" fill="none" stroke="#000" stroke-width=".75"/>
<text class="ax" x="284.2" y="685.4">136</text>
<circle cx="321.1" cy="672.5" r="1.75" fill="none" stroke="#000" stroke-width=".75"/>
<text class="ax" x="377.8" y="43.0">137</text>
<circle cx="414.7" cy="30.1" r="1.75" fill="none" stroke="#000" stroke-width=".75"/>
<text class="ax" x="377.8" y="685.4">137</text>
<circle cx="414.7" cy="672.5" r="1.75" fill="none" stroke="#000" stroke-width=".75"/>
<text class="ax" x="471.4" y="43.0">138</text>
<circle cx="508.3" cy="30.1" r="1.75" fill="none" stroke="#000" stroke-width=".75"/>
<text class="ax" x="471.4" y="685.4">138</text>
<circle cx="508.3" cy="672.5" r="1.75" fill="none" stroke="#000" stroke-width=".75"/>
<text class="ax" x="565.1" y="43.0">139</text>
<circle cx="602" cy="30.1" r="1.75" fill="none" stroke="#000" stroke-width=".75"/>
<text class="ax" x="565.1" y="685.4">139</text>
<circle cx="602" cy="672.5" r="1.75" fill="none" stroke="#000" stroke-width=".75"/>
<text class="ax" x="658.7" y="43.0">140</text>
<circle cx="695.6" cy="30.1" r="1.75" fill="none" stroke="#000" stroke-width=".75"/>
<text class="ax" x="658.7" y="685.4">140</text>
<circle cx="695.6" cy="672.5" r="1.75" fill="none" stroke="#000" stroke-width=".75"/>
<text class="ax" x="752.3" y="43.0">141</text>
<circle cx="789.2" cy="30.1" r="1.75" fill="none" stroke="#000" stroke-width=".75"/>
<text class="ax" x="752.3" y="685.4">141</text>
<circle cx="789.2" cy="672.5" r="1.75" fill="none" stroke="#000" stroke-width=".75"/>
<text class="ax" x="845.9" y="43.0">142</text>
<circle cx="882.8" cy="30.1" r="1.75" fill="none" stroke="#000" stroke-width=".75"/>
<text class="ax" x="845.9" y="685.4">142</text>
<circle cx="882.8" cy="672.5" r="1.75" fill="none" stroke="#000" stroke-width=".75"/>
<text class="ax" x="36.7" y="672.8">31</text>
<circle cx="61.9" cy="659.9" r="1.75" fill="none" stroke="#000" stroke-width=".75"/>
<text class="ax" x="872.6" y="672.8">31</text>
<circle cx="897.8" cy="659.9" r="1.75" fill="none" stroke="#000" stroke-width=".75"/>
<text class="ax" x="36.7" y="563.5">32</text>
<circle cx="61.9" cy="550.6" r="1.75" fill="none" stroke="#000" stroke-width=".75"/>
<text class="ax" x="872.6" y="563.5">32</text>
<circle cx="897.8" cy="550.6" r="1.75" fill="none" stroke="#000" stroke-width=".75"/>
<text class="ax" x="36.7" y="452.9">33</text>
<circle cx="61.9" cy="440" r="1.75" fill="none" stroke="#000" stroke-width=".75"/>
<text class="ax" x="872.6" y="452.9">33</text>
<circle cx="897.8" cy="440" r="1.75" fill="none" stroke="#000" stroke-width=".75"/>
<text class="ax" x="36.7" y="341.1">34</text>
<circle cx="61.9" cy="328.2" r="1.75" fill="none" stroke="#000" stroke-width=".75"/>
<text class="ax" x="872.6" y="341.1">34</text>
<circle cx="897.8" cy="328.2" r="1.75" fill="none" stroke="#000" stroke-width=".75"/>
<text class="ax" x="36.7" y="228">35</text>
<circle cx="61.9" cy="215.1" r="1.75" fill="none" stroke="#000" stroke-width=".75"/>
<text class="ax" x="872.6" y="228">35</text>
<circle cx="897.8" cy="215.1" r="1.75" fill="none" stroke="#000" stroke-width=".75"/>
<text class="ax" x="36.7" y="113.5">36</text>
<circle cx="61.9" cy="100.6" r="1.75" fill="none" stroke="#000" stroke-width=".75"/>
<text class="ax" x="872.6" y="113.5">36</text>
<circle cx="897.8" cy="100.6" r="1.75" fill="none" stroke="#000" stroke-width=".75"/>
<text class="jp" x="72.8" y="65.3" font-size="16.6" aria-hidden="true">関東・東海海況速報</text>
<text class="jp" x="73.7" y="92.2" font-size="9.6" aria-hidden="true">発行機関：</text>
<text class="jp" x="141.1" y="92.2" font-size="9.6" aria-hidden="true">東京都島しょ農林水産総合センター</text>
<text class="jp" x="141.1" y="104.0" font-size="9.6" aria-hidden="true">千葉県水産総合研究センター</text>
<text class="jp" x="141.1" y="116.0" font-size="9.6" aria-hidden="true">神奈川県水産技術センター</text>
<text class="jp" x="141.1" y="128.2" font-size="9.6" aria-hidden="true">静岡県水産技術研究所</text>
<text class="jp" x="141.1" y="140.2" font-size="9.6" aria-hidden="true">三重県水産研究所</text>
<text class="jp" x="141.1" y="152.1" font-size="9.6" aria-hidden="true">和歌山県水産試験場</text>
<text class="jp" x="73.7" y="171.3" font-size="9.6" textLength="177.5" lengthAdjust="spacingAndGlyphs" aria-hidden="true">資料: 船舶水温、衛星水温、気象庁解析水温</text>
<text class="jp" x="502" y="65.3" font-size="12.2" aria-hidden="true">平成</text>
<text class="jp" x="554.5" y="65.3" font-size="12.2" aria-hidden="true">年</text>
<text class="jp" x="580" y="65.3" font-size="12.2" aria-hidden="true">月</text>
<text class="jp" x="609" y="65.3" font-size="12.2" aria-hidden="true">日</text>
<text class="jp" x="627.3" y="65.3" font-size="12.2" aria-hidden="true">発行</text>
<text x="535.2" y="65.3" font-size="12.2" font-weight="bold" fill="#000" aria-hidden="true">27</text>
<text x="567.6" y="65.3" font-size="12.2" font-weight="bold" fill="#000" aria-hidden="true">11</text>
<text x="594.0" y="65.3" font-size="12.2" font-weight="bold" fill="#000" aria-hidden="true">19</text>
<circle cx="135.6" cy="100.4" r="4.1" fill="none" stroke="#222" stroke-width=".6"/><circle cx="135.6" cy="100.4" r="2.3" fill="none" stroke="#222" stroke-width=".6"/>
</svg>
<p class="sr" style="left:72.0px;top:51.1px;font-size:16.2px">関東・東海海況速報</p>
<p class="sr" style="left:73.7px;top:84.0px;font-size:9.4px">発行機関：</p>
<p class="sr" style="left:141.1px;top:84.0px;font-size:9.4px">東京都島しょ農林水産総合センター</p>
<p class="sr" style="left:141.1px;top:95.8px;font-size:9.4px">◎千葉県水産総合研究センター</p>
<p class="sr" style="left:141.1px;top:107.8px;font-size:9.4px">神奈川県水産技術センター</p>
<p class="sr" style="left:141.1px;top:120.0px;font-size:9.4px">静岡県水産技術研究所</p>
<p class="sr" style="left:141.1px;top:132.0px;font-size:9.4px">三重県水産研究所</p>
<p class="sr" style="left:141.1px;top:143.9px;font-size:9.4px">和歌山県水産試験場</p>
<p class="sr" style="left:73.7px;top:163.1px;font-size:9.4px">資料: 船舶水温、衛星水温、気象庁解析水温</p>
<p class="sr" style="left:501.8px;top:54.7px;font-size:12.3px">平成 27 年11月19日 発行</p>
</body></html>
